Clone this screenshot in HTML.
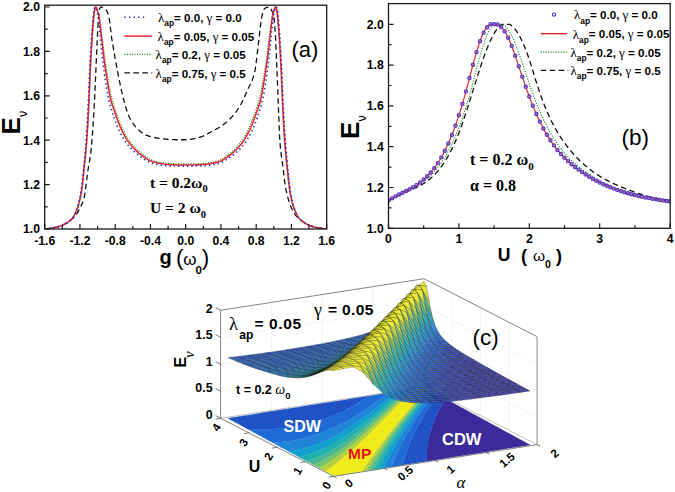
<!DOCTYPE html><html><head><meta charset="utf-8"><style>html,body{margin:0;padding:0;background:#fff;width:675px;height:492px;overflow:hidden}</style></head><body><svg width="675" height="492" viewBox="0 0 675 492" style="position:absolute;left:0;top:0">
<rect width="675" height="492" fill="#fff"/>
<g>
<clipPath id="ca"><rect x="44.7" y="3.2" width="282" height="225.8"/></clipPath>
<g clip-path="url(#ca)" fill="none" stroke-linejoin="round">
<path d="M44.74 229 L45.05 228.98 L45.37 228.95 L45.68 228.92 L45.99 228.89 L46.31 228.85 L46.62 228.82 L46.94 228.78 L47.25 228.74 L47.56 228.7 L47.88 228.66 L48.19 228.62 L48.5 228.57 L48.82 228.52 L49.13 228.48 L49.44 228.43 L49.76 228.37 L50.07 228.32 L50.38 228.27 L50.7 228.21 L51.01 228.16 L51.33 228.1 L51.64 228.04 L51.95 227.98 L52.27 227.92 L52.58 227.86 L52.89 227.8 L53.21 227.74 L53.52 227.67 L53.83 227.61 L54.15 227.54 L54.46 227.47 L54.77 227.4 L55.09 227.33 L55.4 227.26 L55.72 227.18 L56.03 227.1 L56.34 227.02 L56.66 226.93 L56.97 226.84 L57.28 226.76 L57.6 226.66 L57.91 226.57 L58.22 226.48 L58.54 226.38 L58.85 226.28 L59.17 226.18 L59.48 226.07 L59.79 225.96 L60.11 225.85 L60.42 225.74 L60.73 225.63 L61.05 225.51 L61.36 225.4 L61.67 225.28 L61.99 225.15 L62.3 225.03 L62.61 224.9 L62.93 224.77 L63.24 224.63 L63.56 224.48 L63.87 224.33 L64.18 224.18 L64.5 224.02 L64.81 223.85 L65.12 223.68 L65.44 223.51 L65.75 223.33 L66.06 223.15 L66.38 222.96 L66.69 222.77 L67.01 222.57 L67.32 222.37 L67.63 222.17 L67.95 221.96 L68.26 221.75 L68.57 221.54 L68.89 221.33 L69.2 221.11 L69.51 220.89 L69.83 220.66 L70.14 220.44 L70.45 220.21 L70.77 219.98 L71.08 219.74 L71.4 219.51 L71.71 219.27 L72.02 219.02 L72.34 218.77 L72.65 218.51 L72.96 218.24 L73.28 217.97 L73.59 217.68 L73.9 217.39 L74.22 217.08 L74.53 216.75 L74.84 216.42 L75.16 216.07 L75.47 215.7 L75.79 215.31 L76.1 214.88 L76.41 214.43 L76.73 213.95 L77.04 213.45 L77.35 212.93 L77.67 212.38 L77.98 211.82 L78.29 211.24 L78.61 210.64 L78.92 210.03 L79.24 209.41 L79.55 208.78 L79.86 208.15 L80.18 207.51 L80.49 206.89 L80.8 206.27 L81.12 205.65 L81.43 205.01 L81.74 204.35 L82.06 203.66 L82.37 202.93 L82.68 202.15 L83 201.31 L83.31 200.4 L83.63 199.42 L83.94 198.36 L84.25 197.17 L84.57 195.66 L84.88 193.82 L85.19 191.71 L85.51 189.39 L85.82 186.92 L86.13 184.35 L86.45 181.73 L86.76 179.14 L87.08 176.61 L87.39 174.21 L87.7 172 L88.02 169.96 L88.33 168.05 L88.64 166.22 L88.96 164.42 L89.27 162.62 L89.58 160.78 L89.9 158.84 L90.21 156.77 L90.52 154.52 L90.84 152.05 L91.15 149.32 L91.47 146.22 L91.78 142.73 L92.09 138.9 L92.41 134.75 L92.72 130.31 L93.03 125.61 L93.35 120.7 L93.66 115.59 L93.97 110.32 L94.29 104.93 L94.6 99.17 L94.91 92.67 L95.23 85.63 L95.54 78.27 L95.86 70.8 L96.17 63.43 L96.48 56.38 L96.8 49.81 L97.11 43.12 L97.42 36.32 L97.74 29.84 L98.05 24.08 L98.36 19.45 L98.68 16.02 L98.99 12.89 L99.31 10.29 L99.62 8.57 L99.93 7.96 L100.25 7.63 L100.56 7.37 L100.87 7.18 L101.19 7.05 L101.5 7 L101.81 7.02 L102.13 7.11 L102.44 7.26 L102.75 7.44 L103.07 7.64 L103.38 7.86 L103.7 8.06 L104.01 8.26 L104.32 8.46 L104.64 8.67 L104.95 8.89 L105.26 9.14 L105.58 9.42 L105.89 9.73 L106.2 10.08 L106.52 10.48 L106.83 10.99 L107.14 11.61 L107.46 12.36 L107.77 13.21 L108.09 14.16 L108.4 15.21 L108.71 16.36 L109.03 17.64 L109.34 19.36 L109.65 21.49 L109.97 23.92 L110.28 26.55 L110.59 29.28 L110.91 31.99 L111.22 34.59 L111.54 36.98 L111.85 39.07 L112.16 41.05 L112.48 42.96 L112.79 44.82 L113.1 46.63 L113.42 48.41 L113.73 50.18 L114.04 51.95 L114.36 53.73 L114.67 55.52 L114.98 57.32 L115.3 59.11 L115.61 60.89 L115.93 62.66 L116.24 64.4 L116.55 66.12 L116.87 67.81 L117.18 69.47 L117.49 71.08 L117.81 72.67 L118.12 74.26 L118.43 75.85 L118.75 77.42 L119.06 78.99 L119.38 80.54 L119.69 82.09 L120 83.61 L120.32 85.12 L120.63 86.61 L120.94 88.08 L121.26 89.52 L121.57 90.94 L121.88 92.33 L122.2 93.7 L122.51 95.03 L122.82 96.33 L123.14 97.6 L123.45 98.83 L123.77 100.02 L124.08 101.19 L124.39 102.35 L124.71 103.51 L125.02 104.65 L125.33 105.78 L125.65 106.88 L125.96 107.97 L126.27 109.02 L126.59 110.05 L126.9 111.03 L127.21 111.98 L127.53 112.89 L127.84 113.75 L128.16 114.57 L128.47 115.33 L128.78 116.03 L129.1 116.68 L129.41 117.32 L129.72 117.94 L130.04 118.54 L130.35 119.13 L130.66 119.7 L130.98 120.26 L131.29 120.8 L131.61 121.33 L131.92 121.85 L132.23 122.35 L132.55 122.84 L132.86 123.31 L133.17 123.77 L133.49 124.22 L133.8 124.65 L134.11 125.07 L134.43 125.48 L134.74 125.87 L135.05 126.26 L135.37 126.63 L135.68 126.99 L136 127.33 L136.31 127.67 L136.62 127.99 L136.94 128.31 L137.25 128.61 L137.56 128.91 L137.88 129.2 L138.19 129.49 L138.5 129.78 L138.82 130.07 L139.13 130.35 L139.45 130.62 L139.76 130.89 L140.07 131.16 L140.39 131.42 L140.7 131.67 L141.01 131.92 L141.33 132.17 L141.64 132.41 L141.95 132.64 L142.27 132.87 L142.58 133.09 L142.89 133.31 L143.21 133.51 L143.52 133.72 L143.84 133.91 L144.15 134.1 L144.46 134.28 L144.78 134.46 L145.09 134.62 L145.4 134.78 L145.72 134.93 L146.03 135.08 L146.34 135.21 L146.66 135.34 L146.97 135.46 L147.28 135.57 L147.6 135.67 L147.91 135.78 L148.23 135.88 L148.54 135.98 L148.85 136.08 L149.17 136.18 L149.48 136.27 L149.79 136.37 L150.11 136.46 L150.42 136.55 L150.73 136.64 L151.05 136.72 L151.36 136.81 L151.68 136.89 L151.99 136.97 L152.3 137.05 L152.62 137.13 L152.93 137.2 L153.24 137.28 L153.56 137.35 L153.87 137.42 L154.18 137.49 L154.5 137.56 L154.81 137.63 L155.12 137.69 L155.44 137.75 L155.75 137.81 L156.07 137.87 L156.38 137.93 L156.69 137.99 L157.01 138.04 L157.32 138.09 L157.63 138.15 L157.95 138.2 L158.26 138.24 L158.57 138.29 L158.89 138.34 L159.2 138.38 L159.51 138.42 L159.83 138.46 L160.14 138.5 L160.46 138.54 L160.77 138.58 L161.08 138.61 L161.4 138.65 L161.71 138.68 L162.02 138.71 L162.34 138.75 L162.65 138.78 L162.96 138.81 L163.28 138.84 L163.59 138.88 L163.91 138.91 L164.22 138.94 L164.53 138.97 L164.85 139 L165.16 139.03 L165.47 139.06 L165.79 139.09 L166.1 139.12 L166.41 139.15 L166.73 139.18 L167.04 139.21 L167.35 139.24 L167.67 139.26 L167.98 139.29 L168.3 139.32 L168.61 139.34 L168.92 139.37 L169.24 139.39 L169.55 139.42 L169.86 139.44 L170.18 139.46 L170.49 139.48 L170.8 139.51 L171.12 139.53 L171.43 139.55 L171.75 139.57 L172.06 139.58 L172.37 139.6 L172.69 139.62 L173 139.63 L173.31 139.65 L173.63 139.66 L173.94 139.68 L174.25 139.69 L174.57 139.7 L174.88 139.71 L175.19 139.72 L175.51 139.73 L175.82 139.74 L176.14 139.74 L176.45 139.75 L176.76 139.75 L177.08 139.75 L177.39 139.76 L177.7 139.76 L178.02 139.76 L178.33 139.76 L178.64 139.76 L178.96 139.76 L179.27 139.76 L179.58 139.76 L179.9 139.76 L180.21 139.76 L180.53 139.76 L180.84 139.76 L181.15 139.76 L181.47 139.76 L181.78 139.76 L182.09 139.76 L182.41 139.76 L182.72 139.76 L183.03 139.76 L183.35 139.76 L183.66 139.76 L183.98 139.76 L184.29 139.76 L184.6 139.76 L184.92 139.76 L185.23 139.76 L185.54 139.76 L185.86 139.76 L186.17 139.75 L186.48 139.74 L186.8 139.73 L187.11 139.72 L187.42 139.7 L187.74 139.68 L188.05 139.66 L188.37 139.63 L188.68 139.6 L188.99 139.57 L189.31 139.53 L189.62 139.49 L189.93 139.45 L190.25 139.41 L190.56 139.36 L190.87 139.31 L191.19 139.26 L191.5 139.21 L191.82 139.15 L192.13 139.09 L192.44 139.03 L192.76 138.97 L193.07 138.91 L193.38 138.84 L193.7 138.77 L194.01 138.7 L194.32 138.63 L194.64 138.56 L194.95 138.49 L195.26 138.41 L195.58 138.34 L195.89 138.26 L196.21 138.18 L196.52 138.1 L196.83 138.02 L197.15 137.94 L197.46 137.86 L197.77 137.78 L198.09 137.69 L198.4 137.61 L198.71 137.53 L199.03 137.44 L199.34 137.36 L199.65 137.27 L199.97 137.19 L200.28 137.1 L200.6 137.02 L200.91 136.92 L201.22 136.82 L201.54 136.72 L201.85 136.61 L202.16 136.49 L202.48 136.37 L202.79 136.24 L203.1 136.11 L203.42 135.97 L203.73 135.83 L204.05 135.69 L204.36 135.54 L204.67 135.39 L204.99 135.23 L205.3 135.07 L205.61 134.91 L205.93 134.75 L206.24 134.58 L206.55 134.41 L206.87 134.24 L207.18 134.07 L207.49 133.9 L207.81 133.72 L208.12 133.55 L208.44 133.37 L208.75 133.19 L209.06 133.02 L209.38 132.84 L209.69 132.66 L210 132.49 L210.32 132.31 L210.63 132.14 L210.94 131.96 L211.26 131.79 L211.57 131.62 L211.89 131.45 L212.2 131.28 L212.51 131.12 L212.83 130.95 L213.14 130.79 L213.45 130.62 L213.77 130.46 L214.08 130.29 L214.39 130.13 L214.71 129.96 L215.02 129.79 L215.33 129.62 L215.65 129.45 L215.96 129.28 L216.28 129.11 L216.59 128.94 L216.9 128.76 L217.22 128.58 L217.53 128.4 L217.84 128.22 L218.16 128.04 L218.47 127.85 L218.78 127.66 L219.1 127.46 L219.41 127.27 L219.72 127.07 L220.04 126.86 L220.35 126.65 L220.67 126.44 L220.98 126.23 L221.29 126.01 L221.61 125.79 L221.92 125.57 L222.23 125.35 L222.55 125.12 L222.86 124.89 L223.17 124.66 L223.49 124.42 L223.8 124.18 L224.12 123.94 L224.43 123.7 L224.74 123.45 L225.06 123.2 L225.37 122.95 L225.68 122.7 L226 122.44 L226.31 122.17 L226.62 121.91 L226.94 121.64 L227.25 121.37 L227.56 121.09 L227.88 120.81 L228.19 120.53 L228.51 120.24 L228.82 119.95 L229.13 119.66 L229.45 119.36 L229.76 119.06 L230.07 118.75 L230.39 118.44 L230.7 118.13 L231.01 117.81 L231.33 117.49 L231.64 117.16 L231.95 116.83 L232.27 116.49 L232.58 116.15 L232.9 115.81 L233.21 115.46 L233.52 115.1 L233.84 114.73 L234.15 114.35 L234.46 113.96 L234.78 113.57 L235.09 113.16 L235.4 112.75 L235.72 112.32 L236.03 111.89 L236.35 111.46 L236.66 111.01 L236.97 110.55 L237.29 110.09 L237.6 109.62 L237.91 109.14 L238.23 108.66 L238.54 108.17 L238.85 107.67 L239.17 107.16 L239.48 106.65 L239.79 106.12 L240.11 105.6 L240.42 105.06 L240.74 104.52 L241.05 103.97 L241.36 103.41 L241.68 102.83 L241.99 102.23 L242.3 101.61 L242.62 100.97 L242.93 100.32 L243.24 99.65 L243.56 98.97 L243.87 98.28 L244.19 97.59 L244.5 96.88 L244.81 96.16 L245.13 95.44 L245.44 94.72 L245.75 93.99 L246.07 93.26 L246.38 92.54 L246.69 91.81 L247.01 91.08 L247.32 90.36 L247.63 89.66 L247.95 88.97 L248.26 88.32 L248.58 87.68 L248.89 87.05 L249.2 86.43 L249.52 85.82 L249.83 85.2 L250.14 84.58 L250.46 83.95 L250.77 83.3 L251.08 82.64 L251.4 81.95 L251.71 81.23 L252.02 80.48 L252.34 79.69 L252.65 78.86 L252.97 77.98 L253.28 77.05 L253.59 76.06 L253.91 75.01 L254.22 73.9 L254.53 72.69 L254.85 71.24 L255.16 69.52 L255.47 67.56 L255.79 65.4 L256.1 63.06 L256.42 60.58 L256.73 57.99 L257.04 55.33 L257.36 52.62 L257.67 49.9 L257.98 47.2 L258.3 44.54 L258.61 41.98 L258.92 39.5 L259.24 36.88 L259.55 34.1 L259.86 31.24 L260.18 28.38 L260.49 25.6 L260.81 22.98 L261.12 20.61 L261.43 18.56 L261.75 16.92 L262.06 15.51 L262.37 14.17 L262.69 12.92 L263 11.8 L263.31 10.83 L263.63 10.04 L263.94 9.44 L264.26 9.06 L264.57 8.74 L264.88 8.46 L265.2 8.22 L265.51 8.01 L265.82 7.83 L266.14 7.67 L266.45 7.54 L266.76 7.44 L267.08 7.35 L267.39 7.26 L267.7 7.18 L268.02 7.11 L268.33 7.06 L268.65 7.02 L268.96 7 L269.27 7.04 L269.59 7.22 L269.9 7.52 L270.21 7.92 L270.53 8.4 L270.84 8.94 L271.15 9.51 L271.47 10.09 L271.78 10.68 L272.09 11.32 L272.41 12.05 L272.72 12.89 L273.04 13.87 L273.35 15.01 L273.66 16.34 L273.98 18.01 L274.29 20.55 L274.6 23.84 L274.92 27.68 L275.23 32.12 L275.54 37.86 L275.86 44.61 L276.17 52 L276.49 59.65 L276.8 67.19 L277.11 74.51 L277.43 82.1 L277.74 89.87 L278.05 97.75 L278.37 105.64 L278.68 113.43 L278.99 121.32 L279.31 129.85 L279.62 137.31 L279.93 142.12 L280.25 145.85 L280.56 149.06 L280.88 151.86 L281.19 154.35 L281.5 156.63 L281.82 158.82 L282.13 161.01 L282.44 163.31 L282.76 165.81 L283.07 168.41 L283.38 171.04 L283.7 173.68 L284.01 176.28 L284.32 178.82 L284.64 181.24 L284.95 183.53 L285.27 185.63 L285.58 187.52 L285.89 189.15 L286.21 190.63 L286.52 192.05 L286.83 193.42 L287.15 194.73 L287.46 195.98 L287.77 197.18 L288.09 198.33 L288.4 199.43 L288.72 200.49 L289.03 201.5 L289.34 202.47 L289.66 203.39 L289.97 204.28 L290.28 205.13 L290.6 205.94 L290.91 206.71 L291.22 207.46 L291.54 208.17 L291.85 208.86 L292.16 209.53 L292.48 210.17 L292.79 210.79 L293.11 211.39 L293.42 211.96 L293.73 212.51 L294.05 213.03 L294.36 213.53 L294.67 214.01 L294.99 214.47 L295.3 214.9 L295.61 215.31 L295.93 215.7 L296.24 216.07 L296.56 216.42 L296.87 216.75 L297.18 217.08 L297.5 217.39 L297.81 217.68 L298.12 217.97 L298.44 218.24 L298.75 218.51 L299.06 218.77 L299.38 219.02 L299.69 219.27 L300 219.51 L300.32 219.74 L300.63 219.98 L300.95 220.21 L301.26 220.44 L301.57 220.66 L301.89 220.89 L302.2 221.11 L302.51 221.33 L302.83 221.54 L303.14 221.75 L303.45 221.96 L303.77 222.17 L304.08 222.37 L304.39 222.57 L304.71 222.77 L305.02 222.96 L305.34 223.15 L305.65 223.33 L305.96 223.51 L306.28 223.68 L306.59 223.85 L306.9 224.02 L307.22 224.18 L307.53 224.33 L307.84 224.48 L308.16 224.63 L308.47 224.77 L308.79 224.9 L309.1 225.03 L309.41 225.15 L309.73 225.28 L310.04 225.4 L310.35 225.51 L310.67 225.63 L310.98 225.74 L311.29 225.85 L311.61 225.96 L311.92 226.07 L312.23 226.18 L312.55 226.28 L312.86 226.38 L313.18 226.48 L313.49 226.57 L313.8 226.66 L314.12 226.76 L314.43 226.84 L314.74 226.93 L315.06 227.02 L315.37 227.1 L315.68 227.18 L316 227.26 L316.31 227.33 L316.63 227.4 L316.94 227.47 L317.25 227.54 L317.57 227.61 L317.88 227.67 L318.19 227.74 L318.51 227.8 L318.82 227.86 L319.13 227.92 L319.45 227.98 L319.76 228.04 L320.07 228.1 L320.39 228.16 L320.7 228.21 L321.02 228.27 L321.33 228.32 L321.64 228.37 L321.96 228.43 L322.27 228.48 L322.58 228.52 L322.9 228.57 L323.21 228.62 L323.52 228.66 L323.84 228.7 L324.15 228.74 L324.46 228.78 L324.78 228.82 L325.09 228.85 L325.41 228.89 L325.72 228.92 L326.03 228.95 L326.35 228.98 L326.66 229" stroke="#111" stroke-width="1.3" stroke-dasharray="5.5 3.5"/>
<path d="M44.74 229 L45.05 228.97 L45.37 228.94 L45.68 228.91 L45.99 228.88 L46.31 228.84 L46.62 228.81 L46.94 228.77 L47.25 228.74 L47.56 228.7 L47.88 228.66 L48.19 228.62 L48.5 228.58 L48.82 228.54 L49.13 228.5 L49.44 228.46 L49.76 228.41 L50.07 228.37 L50.38 228.32 L50.7 228.28 L51.01 228.23 L51.33 228.19 L51.64 228.14 L51.95 228.09 L52.27 228.04 L52.58 227.99 L52.89 227.93 L53.21 227.88 L53.52 227.83 L53.83 227.77 L54.15 227.71 L54.46 227.65 L54.77 227.59 L55.09 227.53 L55.4 227.46 L55.72 227.4 L56.03 227.33 L56.34 227.26 L56.66 227.19 L56.97 227.11 L57.28 227.04 L57.6 226.96 L57.91 226.88 L58.22 226.79 L58.54 226.7 L58.85 226.6 L59.17 226.51 L59.48 226.4 L59.79 226.3 L60.11 226.19 L60.42 226.07 L60.73 225.95 L61.05 225.83 L61.36 225.71 L61.67 225.58 L61.99 225.44 L62.3 225.31 L62.61 225.17 L62.93 225.02 L63.24 224.88 L63.56 224.72 L63.87 224.57 L64.18 224.41 L64.5 224.25 L64.81 224.09 L65.12 223.92 L65.44 223.75 L65.75 223.57 L66.06 223.4 L66.38 223.21 L66.69 223.02 L67.01 222.83 L67.32 222.62 L67.63 222.41 L67.95 222.19 L68.26 221.96 L68.57 221.72 L68.89 221.48 L69.2 221.23 L69.51 220.96 L69.83 220.69 L70.14 220.41 L70.45 220.12 L70.77 219.82 L71.08 219.51 L71.4 219.19 L71.71 218.85 L72.02 218.51 L72.34 218.16 L72.65 217.79 L72.96 217.42 L73.28 217.02 L73.59 216.59 L73.9 216.13 L74.22 215.63 L74.53 215.11 L74.84 214.56 L75.16 213.99 L75.47 213.38 L75.79 212.75 L76.1 212.09 L76.41 211.4 L76.73 210.69 L77.04 209.95 L77.35 209.19 L77.67 208.4 L77.98 207.56 L78.29 206.64 L78.61 205.67 L78.92 204.62 L79.24 203.52 L79.55 202.35 L79.86 201.11 L80.18 199.81 L80.49 198.45 L80.8 196.99 L81.12 195.4 L81.43 193.67 L81.74 191.82 L82.06 189.83 L82.37 187.71 L82.68 185.45 L83 183 L83.31 180.15 L83.63 177.01 L83.94 173.72 L84.25 170.42 L84.57 167.23 L84.88 164.24 L85.19 161.36 L85.51 158.45 L85.82 155.41 L86.13 152.12 L86.45 148.47 L86.76 144.48 L87.08 140.19 L87.39 135.61 L87.7 130.76 L88.02 125.66 L88.33 120.33 L88.64 114.75 L88.96 108.45 L89.27 101.52 L89.58 94.2 L89.9 86.71 L90.21 79.28 L90.52 72.14 L90.84 65.54 L91.15 59.68 L91.47 54.15 L91.78 48.77 L92.09 43.59 L92.41 38.65 L92.72 34.03 L93.03 29.75 L93.35 25.88 L93.66 22.43 L93.97 19.01 L94.29 15.7 L94.6 12.71 L94.91 10.27 L95.23 8.61 L95.54 7.83 L95.86 7.31 L96.17 7.02 L96.48 7.14 L96.8 7.75 L97.11 8.6 L97.42 9.45 L97.74 10.31 L98.05 11.25 L98.36 12.28 L98.68 13.42 L98.99 14.67 L99.31 16.06 L99.62 17.67 L99.93 19.64 L100.25 21.89 L100.56 24.35 L100.87 26.93 L101.19 29.56 L101.5 32.16 L101.81 34.64 L102.13 37.05 L102.44 39.52 L102.75 42.02 L103.07 44.54 L103.38 47.05 L103.7 49.54 L104.01 52 L104.32 54.39 L104.64 56.71 L104.95 58.95 L105.26 61.13 L105.58 63.26 L105.89 65.36 L106.2 67.42 L106.52 69.43 L106.83 71.41 L107.14 73.34 L107.46 75.24 L107.77 77.11 L108.09 78.99 L108.4 80.87 L108.71 82.74 L109.03 84.58 L109.34 86.39 L109.65 88.16 L109.97 89.88 L110.28 91.53 L110.59 93.12 L110.91 94.62 L111.22 96.02 L111.54 97.33 L111.85 98.57 L112.16 99.75 L112.48 100.88 L112.79 101.96 L113.1 103.01 L113.42 104.02 L113.73 105 L114.04 105.96 L114.36 106.9 L114.67 107.83 L114.98 108.76 L115.3 109.68 L115.61 110.61 L115.93 111.53 L116.24 112.46 L116.55 113.37 L116.87 114.28 L117.18 115.18 L117.49 116.08 L117.81 116.96 L118.12 117.83 L118.43 118.69 L118.75 119.54 L119.06 120.38 L119.38 121.2 L119.69 122 L120 122.79 L120.32 123.56 L120.63 124.32 L120.94 125.05 L121.26 125.76 L121.57 126.45 L121.88 127.13 L122.2 127.8 L122.51 128.46 L122.82 129.11 L123.14 129.76 L123.45 130.4 L123.77 131.02 L124.08 131.64 L124.39 132.26 L124.71 132.86 L125.02 133.45 L125.33 134.04 L125.65 134.61 L125.96 135.17 L126.27 135.73 L126.59 136.27 L126.9 136.8 L127.21 137.32 L127.53 137.83 L127.84 138.33 L128.16 138.81 L128.47 139.29 L128.78 139.75 L129.1 140.2 L129.41 140.63 L129.72 141.06 L130.04 141.48 L130.35 141.89 L130.66 142.3 L130.98 142.7 L131.29 143.1 L131.61 143.49 L131.92 143.88 L132.23 144.26 L132.55 144.64 L132.86 145.01 L133.17 145.38 L133.49 145.74 L133.8 146.1 L134.11 146.45 L134.43 146.8 L134.74 147.14 L135.05 147.48 L135.37 147.81 L135.68 148.14 L136 148.47 L136.31 148.79 L136.62 149.1 L136.94 149.41 L137.25 149.72 L137.56 150.02 L137.88 150.31 L138.19 150.6 L138.5 150.89 L138.82 151.17 L139.13 151.45 L139.45 151.72 L139.76 151.99 L140.07 152.26 L140.39 152.52 L140.7 152.77 L141.01 153.02 L141.33 153.27 L141.64 153.51 L141.95 153.75 L142.27 153.99 L142.58 154.23 L142.89 154.47 L143.21 154.71 L143.52 154.95 L143.84 155.18 L144.15 155.42 L144.46 155.65 L144.78 155.89 L145.09 156.11 L145.4 156.34 L145.72 156.57 L146.03 156.79 L146.34 157.01 L146.66 157.23 L146.97 157.44 L147.28 157.65 L147.6 157.86 L147.91 158.06 L148.23 158.26 L148.54 158.45 L148.85 158.64 L149.17 158.82 L149.48 159 L149.79 159.18 L150.11 159.34 L150.42 159.51 L150.73 159.66 L151.05 159.81 L151.36 159.96 L151.68 160.1 L151.99 160.23 L152.3 160.35 L152.62 160.47 L152.93 160.58 L153.24 160.68 L153.56 160.78 L153.87 160.86 L154.18 160.95 L154.5 161.03 L154.81 161.11 L155.12 161.19 L155.44 161.27 L155.75 161.35 L156.07 161.42 L156.38 161.5 L156.69 161.57 L157.01 161.65 L157.32 161.72 L157.63 161.79 L157.95 161.86 L158.26 161.93 L158.57 161.99 L158.89 162.06 L159.2 162.13 L159.51 162.19 L159.83 162.25 L160.14 162.31 L160.46 162.37 L160.77 162.43 L161.08 162.49 L161.4 162.54 L161.71 162.6 L162.02 162.65 L162.34 162.7 L162.65 162.75 L162.96 162.8 L163.28 162.85 L163.59 162.9 L163.91 162.94 L164.22 162.99 L164.53 163.03 L164.85 163.07 L165.16 163.11 L165.47 163.15 L165.79 163.18 L166.1 163.22 L166.41 163.25 L166.73 163.28 L167.04 163.31 L167.35 163.34 L167.67 163.37 L167.98 163.39 L168.3 163.42 L168.61 163.44 L168.92 163.46 L169.24 163.48 L169.55 163.5 L169.86 163.51 L170.18 163.53 L170.49 163.54 L170.8 163.56 L171.12 163.57 L171.43 163.58 L171.75 163.6 L172.06 163.61 L172.37 163.63 L172.69 163.64 L173 163.65 L173.31 163.67 L173.63 163.68 L173.94 163.69 L174.25 163.7 L174.57 163.72 L174.88 163.73 L175.19 163.74 L175.51 163.75 L175.82 163.76 L176.14 163.77 L176.45 163.78 L176.76 163.8 L177.08 163.81 L177.39 163.82 L177.7 163.82 L178.02 163.83 L178.33 163.84 L178.64 163.85 L178.96 163.86 L179.27 163.87 L179.58 163.88 L179.9 163.88 L180.21 163.89 L180.53 163.9 L180.84 163.9 L181.15 163.91 L181.47 163.92 L181.78 163.92 L182.09 163.93 L182.41 163.93 L182.72 163.93 L183.03 163.94 L183.35 163.94 L183.66 163.94 L183.98 163.95 L184.29 163.95 L184.6 163.95 L184.92 163.95 L185.23 163.95 L185.54 163.95 L185.86 163.95 L186.17 163.95 L186.48 163.95 L186.8 163.95 L187.11 163.95 L187.42 163.95 L187.74 163.94 L188.05 163.94 L188.37 163.94 L188.68 163.93 L188.99 163.93 L189.31 163.93 L189.62 163.92 L189.93 163.92 L190.25 163.91 L190.56 163.9 L190.87 163.9 L191.19 163.89 L191.5 163.88 L191.82 163.88 L192.13 163.87 L192.44 163.86 L192.76 163.85 L193.07 163.84 L193.38 163.83 L193.7 163.82 L194.01 163.82 L194.32 163.81 L194.64 163.8 L194.95 163.78 L195.26 163.77 L195.58 163.76 L195.89 163.75 L196.21 163.74 L196.52 163.73 L196.83 163.72 L197.15 163.7 L197.46 163.69 L197.77 163.68 L198.09 163.67 L198.4 163.65 L198.71 163.64 L199.03 163.63 L199.34 163.61 L199.65 163.6 L199.97 163.58 L200.28 163.57 L200.6 163.56 L200.91 163.54 L201.22 163.53 L201.54 163.51 L201.85 163.5 L202.16 163.48 L202.48 163.46 L202.79 163.44 L203.1 163.42 L203.42 163.39 L203.73 163.37 L204.05 163.34 L204.36 163.31 L204.67 163.28 L204.99 163.25 L205.3 163.22 L205.61 163.18 L205.93 163.15 L206.24 163.11 L206.55 163.07 L206.87 163.03 L207.18 162.99 L207.49 162.94 L207.81 162.9 L208.12 162.85 L208.44 162.8 L208.75 162.75 L209.06 162.7 L209.38 162.65 L209.69 162.6 L210 162.54 L210.32 162.49 L210.63 162.43 L210.94 162.37 L211.26 162.31 L211.57 162.25 L211.89 162.19 L212.2 162.13 L212.51 162.06 L212.83 161.99 L213.14 161.93 L213.45 161.86 L213.77 161.79 L214.08 161.72 L214.39 161.65 L214.71 161.57 L215.02 161.5 L215.33 161.42 L215.65 161.35 L215.96 161.27 L216.28 161.19 L216.59 161.11 L216.9 161.03 L217.22 160.95 L217.53 160.86 L217.84 160.78 L218.16 160.68 L218.47 160.58 L218.78 160.47 L219.1 160.35 L219.41 160.23 L219.72 160.1 L220.04 159.96 L220.35 159.81 L220.67 159.66 L220.98 159.51 L221.29 159.34 L221.61 159.18 L221.92 159 L222.23 158.82 L222.55 158.64 L222.86 158.45 L223.17 158.26 L223.49 158.06 L223.8 157.86 L224.12 157.65 L224.43 157.44 L224.74 157.23 L225.06 157.01 L225.37 156.79 L225.68 156.57 L226 156.34 L226.31 156.11 L226.62 155.89 L226.94 155.65 L227.25 155.42 L227.56 155.18 L227.88 154.95 L228.19 154.71 L228.51 154.47 L228.82 154.23 L229.13 153.99 L229.45 153.75 L229.76 153.51 L230.07 153.27 L230.39 153.02 L230.7 152.77 L231.01 152.52 L231.33 152.26 L231.64 151.99 L231.95 151.72 L232.27 151.45 L232.58 151.17 L232.9 150.89 L233.21 150.6 L233.52 150.31 L233.84 150.02 L234.15 149.72 L234.46 149.41 L234.78 149.1 L235.09 148.79 L235.4 148.47 L235.72 148.14 L236.03 147.81 L236.35 147.48 L236.66 147.14 L236.97 146.8 L237.29 146.45 L237.6 146.1 L237.91 145.74 L238.23 145.38 L238.54 145.01 L238.85 144.64 L239.17 144.26 L239.48 143.88 L239.79 143.49 L240.11 143.1 L240.42 142.7 L240.74 142.3 L241.05 141.89 L241.36 141.48 L241.68 141.06 L241.99 140.63 L242.3 140.2 L242.62 139.75 L242.93 139.29 L243.24 138.81 L243.56 138.33 L243.87 137.83 L244.19 137.32 L244.5 136.8 L244.81 136.27 L245.13 135.73 L245.44 135.17 L245.75 134.61 L246.07 134.04 L246.38 133.45 L246.69 132.86 L247.01 132.26 L247.32 131.64 L247.63 131.02 L247.95 130.4 L248.26 129.76 L248.58 129.11 L248.89 128.46 L249.2 127.8 L249.52 127.13 L249.83 126.45 L250.14 125.76 L250.46 125.05 L250.77 124.32 L251.08 123.56 L251.4 122.79 L251.71 122 L252.02 121.2 L252.34 120.38 L252.65 119.54 L252.97 118.69 L253.28 117.83 L253.59 116.96 L253.91 116.08 L254.22 115.18 L254.53 114.28 L254.85 113.37 L255.16 112.46 L255.47 111.53 L255.79 110.61 L256.1 109.68 L256.42 108.76 L256.73 107.83 L257.04 106.9 L257.36 105.96 L257.67 105 L257.98 104.02 L258.3 103.01 L258.61 101.96 L258.92 100.88 L259.24 99.75 L259.55 98.57 L259.86 97.33 L260.18 96.02 L260.49 94.62 L260.81 93.12 L261.12 91.53 L261.43 89.88 L261.75 88.16 L262.06 86.39 L262.37 84.58 L262.69 82.74 L263 80.87 L263.31 78.99 L263.63 77.11 L263.94 75.24 L264.26 73.34 L264.57 71.41 L264.88 69.43 L265.2 67.42 L265.51 65.36 L265.82 63.26 L266.14 61.13 L266.45 58.95 L266.76 56.71 L267.08 54.39 L267.39 52 L267.7 49.54 L268.02 47.05 L268.33 44.54 L268.65 42.02 L268.96 39.52 L269.27 37.05 L269.59 34.64 L269.9 32.16 L270.21 29.56 L270.53 26.93 L270.84 24.35 L271.15 21.89 L271.47 19.64 L271.78 17.67 L272.09 16.06 L272.41 14.67 L272.72 13.42 L273.04 12.28 L273.35 11.25 L273.66 10.31 L273.98 9.45 L274.29 8.6 L274.6 7.75 L274.92 7.14 L275.23 7.02 L275.54 7.31 L275.86 7.83 L276.17 8.61 L276.49 10.27 L276.8 12.71 L277.11 15.7 L277.43 19.01 L277.74 22.43 L278.05 25.88 L278.37 29.75 L278.68 34.03 L278.99 38.65 L279.31 43.59 L279.62 48.77 L279.93 54.15 L280.25 59.68 L280.56 65.54 L280.88 72.14 L281.19 79.28 L281.5 86.71 L281.82 94.2 L282.13 101.52 L282.44 108.45 L282.76 114.75 L283.07 120.33 L283.38 125.66 L283.7 130.76 L284.01 135.61 L284.32 140.19 L284.64 144.48 L284.95 148.47 L285.27 152.12 L285.58 155.41 L285.89 158.45 L286.21 161.36 L286.52 164.24 L286.83 167.23 L287.15 170.42 L287.46 173.72 L287.77 177.01 L288.09 180.15 L288.4 183 L288.72 185.45 L289.03 187.71 L289.34 189.83 L289.66 191.82 L289.97 193.67 L290.28 195.4 L290.6 196.99 L290.91 198.45 L291.22 199.81 L291.54 201.11 L291.85 202.35 L292.16 203.52 L292.48 204.62 L292.79 205.67 L293.11 206.64 L293.42 207.56 L293.73 208.4 L294.05 209.19 L294.36 209.95 L294.67 210.69 L294.99 211.4 L295.3 212.09 L295.61 212.75 L295.93 213.38 L296.24 213.99 L296.56 214.56 L296.87 215.11 L297.18 215.63 L297.5 216.13 L297.81 216.59 L298.12 217.02 L298.44 217.42 L298.75 217.79 L299.06 218.16 L299.38 218.51 L299.69 218.85 L300 219.19 L300.32 219.51 L300.63 219.82 L300.95 220.12 L301.26 220.41 L301.57 220.69 L301.89 220.96 L302.2 221.23 L302.51 221.48 L302.83 221.72 L303.14 221.96 L303.45 222.19 L303.77 222.41 L304.08 222.62 L304.39 222.83 L304.71 223.02 L305.02 223.21 L305.34 223.4 L305.65 223.57 L305.96 223.75 L306.28 223.92 L306.59 224.09 L306.9 224.25 L307.22 224.41 L307.53 224.57 L307.84 224.72 L308.16 224.88 L308.47 225.02 L308.79 225.17 L309.1 225.31 L309.41 225.44 L309.73 225.58 L310.04 225.71 L310.35 225.83 L310.67 225.95 L310.98 226.07 L311.29 226.19 L311.61 226.3 L311.92 226.4 L312.23 226.51 L312.55 226.6 L312.86 226.7 L313.18 226.79 L313.49 226.88 L313.8 226.96 L314.12 227.04 L314.43 227.11 L314.74 227.19 L315.06 227.26 L315.37 227.33 L315.68 227.4 L316 227.46 L316.31 227.53 L316.63 227.59 L316.94 227.65 L317.25 227.71 L317.57 227.77 L317.88 227.83 L318.19 227.88 L318.51 227.93 L318.82 227.99 L319.13 228.04 L319.45 228.09 L319.76 228.14 L320.07 228.19 L320.39 228.23 L320.7 228.28 L321.02 228.32 L321.33 228.37 L321.64 228.41 L321.96 228.46 L322.27 228.5 L322.58 228.54 L322.9 228.58 L323.21 228.62 L323.52 228.66 L323.84 228.7 L324.15 228.74 L324.46 228.77 L324.78 228.81 L325.09 228.84 L325.41 228.88 L325.72 228.91 L326.03 228.94 L326.35 228.97 L326.66 229" stroke="#1e8c28" stroke-width="1.2" stroke-dasharray="1.1 1.4"/>
<path d="M44.74 229 L45.05 228.97 L45.37 228.94 L45.68 228.91 L45.99 228.88 L46.31 228.84 L46.62 228.81 L46.94 228.77 L47.25 228.74 L47.56 228.7 L47.88 228.66 L48.19 228.62 L48.5 228.58 L48.82 228.54 L49.13 228.5 L49.44 228.46 L49.76 228.41 L50.07 228.37 L50.38 228.32 L50.7 228.28 L51.01 228.23 L51.33 228.19 L51.64 228.14 L51.95 228.09 L52.27 228.04 L52.58 227.99 L52.89 227.93 L53.21 227.88 L53.52 227.83 L53.83 227.77 L54.15 227.71 L54.46 227.65 L54.77 227.59 L55.09 227.53 L55.4 227.46 L55.72 227.4 L56.03 227.33 L56.34 227.26 L56.66 227.19 L56.97 227.11 L57.28 227.04 L57.6 226.96 L57.91 226.88 L58.22 226.79 L58.54 226.7 L58.85 226.6 L59.17 226.51 L59.48 226.4 L59.79 226.3 L60.11 226.19 L60.42 226.07 L60.73 225.95 L61.05 225.83 L61.36 225.71 L61.67 225.58 L61.99 225.44 L62.3 225.31 L62.61 225.17 L62.93 225.02 L63.24 224.88 L63.56 224.72 L63.87 224.57 L64.18 224.41 L64.5 224.25 L64.81 224.09 L65.12 223.92 L65.44 223.75 L65.75 223.57 L66.06 223.4 L66.38 223.21 L66.69 223.03 L67.01 222.83 L67.32 222.63 L67.63 222.42 L67.95 222.21 L68.26 221.98 L68.57 221.75 L68.89 221.51 L69.2 221.26 L69.51 221 L69.83 220.73 L70.14 220.45 L70.45 220.16 L70.77 219.86 L71.08 219.55 L71.4 219.22 L71.71 218.89 L72.02 218.54 L72.34 218.18 L72.65 217.8 L72.96 217.42 L73.28 217 L73.59 216.53 L73.9 216.03 L74.22 215.48 L74.53 214.9 L74.84 214.28 L75.16 213.63 L75.47 212.95 L75.79 212.23 L76.1 211.49 L76.41 210.72 L76.73 209.93 L77.04 209.12 L77.35 208.27 L77.67 207.37 L77.98 206.41 L78.29 205.38 L78.61 204.29 L78.92 203.13 L79.24 201.92 L79.55 200.63 L79.86 199.28 L80.18 197.87 L80.49 196.34 L80.8 194.69 L81.12 192.91 L81.43 191.01 L81.74 188.97 L82.06 186.81 L82.37 184.51 L82.68 181.89 L83 178.91 L83.31 175.69 L83.63 172.38 L83.94 169.11 L84.25 166 L84.57 163.07 L84.88 160.19 L85.19 157.24 L85.51 154.12 L85.82 150.69 L86.13 146.9 L86.45 142.78 L86.76 138.37 L87.08 133.68 L87.39 128.72 L87.7 123.53 L88.02 118.12 L88.33 112.29 L88.64 105.71 L88.96 98.59 L89.27 91.17 L89.58 83.68 L89.9 76.34 L90.21 69.4 L90.52 63.07 L90.84 57.43 L91.15 51.95 L91.47 46.64 L91.78 41.56 L92.09 36.74 L92.41 32.25 L92.72 28.13 L93.03 24.45 L93.35 21.05 L93.66 17.65 L93.97 14.44 L94.29 11.64 L94.6 9.49 L94.91 8.2 L95.23 7.6 L95.54 7.16 L95.86 7 L96.17 7.33 L96.48 8.07 L96.8 8.95 L97.11 9.81 L97.42 10.77 L97.74 11.84 L98.05 13.03 L98.36 14.34 L98.68 15.78 L98.99 17.36 L99.31 19.26 L99.62 21.51 L99.93 24.02 L100.25 26.69 L100.56 29.46 L100.87 32.23 L101.19 34.92 L101.5 37.51 L101.81 40.16 L102.13 42.86 L102.44 45.6 L102.75 48.33 L103.07 51.04 L103.38 53.7 L103.7 56.29 L104.01 58.77 L104.32 61.13 L104.64 63.42 L104.95 65.64 L105.26 67.81 L105.58 69.92 L105.89 71.98 L106.2 74 L106.52 75.98 L106.83 77.92 L107.14 79.85 L107.46 81.79 L107.77 83.72 L108.09 85.64 L108.4 87.53 L108.71 89.38 L109.03 91.18 L109.34 92.91 L109.65 94.57 L109.97 96.13 L110.28 97.6 L110.59 98.95 L110.91 100.2 L111.22 101.38 L111.54 102.5 L111.85 103.57 L112.16 104.59 L112.48 105.58 L112.79 106.53 L113.1 107.46 L113.42 108.37 L113.73 109.26 L114.04 110.15 L114.36 111.05 L114.67 111.95 L114.98 112.85 L115.3 113.76 L115.61 114.66 L115.93 115.56 L116.24 116.45 L116.55 117.33 L116.87 118.21 L117.18 119.07 L117.49 119.93 L117.81 120.77 L118.12 121.61 L118.43 122.43 L118.75 123.23 L119.06 124.02 L119.38 124.79 L119.69 125.54 L120 126.28 L120.32 126.99 L120.63 127.69 L120.94 128.36 L121.26 129.02 L121.57 129.68 L121.88 130.33 L122.2 130.98 L122.51 131.61 L122.82 132.24 L123.14 132.86 L123.45 133.47 L123.77 134.08 L124.08 134.67 L124.39 135.25 L124.71 135.83 L125.02 136.39 L125.33 136.95 L125.65 137.49 L125.96 138.03 L126.27 138.55 L126.59 139.06 L126.9 139.56 L127.21 140.05 L127.53 140.52 L127.84 140.99 L128.16 141.44 L128.47 141.87 L128.78 142.3 L129.1 142.71 L129.41 143.12 L129.72 143.52 L130.04 143.91 L130.35 144.31 L130.66 144.69 L130.98 145.07 L131.29 145.45 L131.61 145.82 L131.92 146.18 L132.23 146.55 L132.55 146.9 L132.86 147.25 L133.17 147.6 L133.49 147.94 L133.8 148.28 L134.11 148.61 L134.43 148.93 L134.74 149.26 L135.05 149.57 L135.37 149.89 L135.68 150.2 L136 150.5 L136.31 150.8 L136.62 151.09 L136.94 151.38 L137.25 151.67 L137.56 151.95 L137.88 152.23 L138.19 152.5 L138.5 152.77 L138.82 153.04 L139.13 153.3 L139.45 153.55 L139.76 153.8 L140.07 154.05 L140.39 154.3 L140.7 154.54 L141.01 154.77 L141.33 155 L141.64 155.24 L141.95 155.47 L142.27 155.7 L142.58 155.93 L142.89 156.16 L143.21 156.39 L143.52 156.62 L143.84 156.85 L144.15 157.07 L144.46 157.3 L144.78 157.52 L145.09 157.74 L145.4 157.95 L145.72 158.17 L146.03 158.38 L146.34 158.59 L146.66 158.79 L146.97 158.99 L147.28 159.19 L147.6 159.38 L147.91 159.57 L148.23 159.76 L148.54 159.94 L148.85 160.11 L149.17 160.28 L149.48 160.45 L149.79 160.61 L150.11 160.76 L150.42 160.91 L150.73 161.05 L151.05 161.19 L151.36 161.32 L151.68 161.44 L151.99 161.56 L152.3 161.66 L152.62 161.77 L152.93 161.86 L153.24 161.95 L153.56 162.03 L153.87 162.11 L154.18 162.19 L154.5 162.26 L154.81 162.34 L155.12 162.42 L155.44 162.49 L155.75 162.57 L156.07 162.64 L156.38 162.71 L156.69 162.78 L157.01 162.85 L157.32 162.92 L157.63 162.99 L157.95 163.05 L158.26 163.12 L158.57 163.18 L158.89 163.24 L159.2 163.3 L159.51 163.36 L159.83 163.42 L160.14 163.48 L160.46 163.54 L160.77 163.59 L161.08 163.65 L161.4 163.7 L161.71 163.75 L162.02 163.8 L162.34 163.85 L162.65 163.9 L162.96 163.95 L163.28 163.99 L163.59 164.03 L163.91 164.08 L164.22 164.12 L164.53 164.16 L164.85 164.2 L165.16 164.23 L165.47 164.27 L165.79 164.3 L166.1 164.34 L166.41 164.37 L166.73 164.4 L167.04 164.43 L167.35 164.46 L167.67 164.48 L167.98 164.51 L168.3 164.53 L168.61 164.55 L168.92 164.57 L169.24 164.59 L169.55 164.61 L169.86 164.62 L170.18 164.64 L170.49 164.65 L170.8 164.66 L171.12 164.68 L171.43 164.69 L171.75 164.71 L172.06 164.72 L172.37 164.74 L172.69 164.75 L173 164.76 L173.31 164.78 L173.63 164.79 L173.94 164.8 L174.25 164.81 L174.57 164.83 L174.88 164.84 L175.19 164.85 L175.51 164.86 L175.82 164.87 L176.14 164.88 L176.45 164.89 L176.76 164.9 L177.08 164.91 L177.39 164.92 L177.7 164.93 L178.02 164.94 L178.33 164.95 L178.64 164.96 L178.96 164.97 L179.27 164.98 L179.58 164.99 L179.9 164.99 L180.21 165 L180.53 165.01 L180.84 165.01 L181.15 165.02 L181.47 165.03 L181.78 165.03 L182.09 165.04 L182.41 165.04 L182.72 165.04 L183.03 165.05 L183.35 165.05 L183.66 165.05 L183.98 165.06 L184.29 165.06 L184.6 165.06 L184.92 165.06 L185.23 165.06 L185.54 165.06 L185.86 165.06 L186.17 165.06 L186.48 165.06 L186.8 165.06 L187.11 165.06 L187.42 165.06 L187.74 165.05 L188.05 165.05 L188.37 165.05 L188.68 165.04 L188.99 165.04 L189.31 165.04 L189.62 165.03 L189.93 165.03 L190.25 165.02 L190.56 165.01 L190.87 165.01 L191.19 165 L191.5 164.99 L191.82 164.99 L192.13 164.98 L192.44 164.97 L192.76 164.96 L193.07 164.95 L193.38 164.94 L193.7 164.93 L194.01 164.92 L194.32 164.91 L194.64 164.9 L194.95 164.89 L195.26 164.88 L195.58 164.87 L195.89 164.86 L196.21 164.85 L196.52 164.84 L196.83 164.83 L197.15 164.81 L197.46 164.8 L197.77 164.79 L198.09 164.78 L198.4 164.76 L198.71 164.75 L199.03 164.74 L199.34 164.72 L199.65 164.71 L199.97 164.69 L200.28 164.68 L200.6 164.66 L200.91 164.65 L201.22 164.64 L201.54 164.62 L201.85 164.61 L202.16 164.59 L202.48 164.57 L202.79 164.55 L203.1 164.53 L203.42 164.51 L203.73 164.48 L204.05 164.46 L204.36 164.43 L204.67 164.4 L204.99 164.37 L205.3 164.34 L205.61 164.3 L205.93 164.27 L206.24 164.23 L206.55 164.2 L206.87 164.16 L207.18 164.12 L207.49 164.08 L207.81 164.03 L208.12 163.99 L208.44 163.95 L208.75 163.9 L209.06 163.85 L209.38 163.8 L209.69 163.75 L210 163.7 L210.32 163.65 L210.63 163.59 L210.94 163.54 L211.26 163.48 L211.57 163.42 L211.89 163.36 L212.2 163.3 L212.51 163.24 L212.83 163.18 L213.14 163.12 L213.45 163.05 L213.77 162.99 L214.08 162.92 L214.39 162.85 L214.71 162.78 L215.02 162.71 L215.33 162.64 L215.65 162.57 L215.96 162.49 L216.28 162.42 L216.59 162.34 L216.9 162.26 L217.22 162.19 L217.53 162.11 L217.84 162.03 L218.16 161.95 L218.47 161.86 L218.78 161.77 L219.1 161.66 L219.41 161.56 L219.72 161.44 L220.04 161.32 L220.35 161.19 L220.67 161.05 L220.98 160.91 L221.29 160.76 L221.61 160.61 L221.92 160.45 L222.23 160.28 L222.55 160.11 L222.86 159.94 L223.17 159.76 L223.49 159.57 L223.8 159.38 L224.12 159.19 L224.43 158.99 L224.74 158.79 L225.06 158.59 L225.37 158.38 L225.68 158.17 L226 157.95 L226.31 157.74 L226.62 157.52 L226.94 157.3 L227.25 157.07 L227.56 156.85 L227.88 156.62 L228.19 156.39 L228.51 156.16 L228.82 155.93 L229.13 155.7 L229.45 155.47 L229.76 155.24 L230.07 155 L230.39 154.77 L230.7 154.54 L231.01 154.3 L231.33 154.05 L231.64 153.8 L231.95 153.55 L232.27 153.3 L232.58 153.04 L232.9 152.77 L233.21 152.5 L233.52 152.23 L233.84 151.95 L234.15 151.67 L234.46 151.38 L234.78 151.09 L235.09 150.8 L235.4 150.5 L235.72 150.2 L236.03 149.89 L236.35 149.57 L236.66 149.26 L236.97 148.93 L237.29 148.61 L237.6 148.28 L237.91 147.94 L238.23 147.6 L238.54 147.25 L238.85 146.9 L239.17 146.55 L239.48 146.18 L239.79 145.82 L240.11 145.45 L240.42 145.07 L240.74 144.69 L241.05 144.31 L241.36 143.91 L241.68 143.52 L241.99 143.12 L242.3 142.71 L242.62 142.3 L242.93 141.87 L243.24 141.44 L243.56 140.99 L243.87 140.52 L244.19 140.05 L244.5 139.56 L244.81 139.06 L245.13 138.55 L245.44 138.03 L245.75 137.49 L246.07 136.95 L246.38 136.39 L246.69 135.83 L247.01 135.25 L247.32 134.67 L247.63 134.08 L247.95 133.47 L248.26 132.86 L248.58 132.24 L248.89 131.61 L249.2 130.98 L249.52 130.33 L249.83 129.68 L250.14 129.02 L250.46 128.36 L250.77 127.69 L251.08 126.99 L251.4 126.28 L251.71 125.54 L252.02 124.79 L252.34 124.02 L252.65 123.23 L252.97 122.43 L253.28 121.61 L253.59 120.77 L253.91 119.93 L254.22 119.07 L254.53 118.21 L254.85 117.33 L255.16 116.45 L255.47 115.56 L255.79 114.66 L256.1 113.76 L256.42 112.85 L256.73 111.95 L257.04 111.05 L257.36 110.15 L257.67 109.26 L257.98 108.37 L258.3 107.46 L258.61 106.53 L258.92 105.58 L259.24 104.59 L259.55 103.57 L259.86 102.5 L260.18 101.38 L260.49 100.2 L260.81 98.95 L261.12 97.6 L261.43 96.13 L261.75 94.57 L262.06 92.91 L262.37 91.18 L262.69 89.38 L263 87.53 L263.31 85.64 L263.63 83.72 L263.94 81.79 L264.26 79.85 L264.57 77.92 L264.88 75.98 L265.2 74 L265.51 71.98 L265.82 69.92 L266.14 67.81 L266.45 65.64 L266.76 63.42 L267.08 61.13 L267.39 58.77 L267.7 56.29 L268.02 53.7 L268.33 51.04 L268.65 48.33 L268.96 45.6 L269.27 42.86 L269.59 40.16 L269.9 37.51 L270.21 34.92 L270.53 32.23 L270.84 29.46 L271.15 26.69 L271.47 24.02 L271.78 21.51 L272.09 19.26 L272.41 17.36 L272.72 15.78 L273.04 14.34 L273.35 13.03 L273.66 11.84 L273.98 10.77 L274.29 9.81 L274.6 8.95 L274.92 8.07 L275.23 7.33 L275.54 7 L275.86 7.16 L276.17 7.6 L276.49 8.2 L276.8 9.49 L277.11 11.64 L277.43 14.44 L277.74 17.65 L278.05 21.05 L278.37 24.45 L278.68 28.13 L278.99 32.25 L279.31 36.74 L279.62 41.56 L279.93 46.64 L280.25 51.95 L280.56 57.43 L280.88 63.07 L281.19 69.4 L281.5 76.34 L281.82 83.68 L282.13 91.17 L282.44 98.59 L282.76 105.71 L283.07 112.29 L283.38 118.12 L283.7 123.53 L284.01 128.72 L284.32 133.68 L284.64 138.37 L284.95 142.78 L285.27 146.9 L285.58 150.69 L285.89 154.12 L286.21 157.24 L286.52 160.19 L286.83 163.07 L287.15 166 L287.46 169.11 L287.77 172.38 L288.09 175.69 L288.4 178.91 L288.72 181.89 L289.03 184.51 L289.34 186.81 L289.66 188.97 L289.97 191.01 L290.28 192.91 L290.6 194.69 L290.91 196.34 L291.22 197.87 L291.54 199.28 L291.85 200.63 L292.16 201.92 L292.48 203.13 L292.79 204.29 L293.11 205.38 L293.42 206.41 L293.73 207.37 L294.05 208.27 L294.36 209.12 L294.67 209.93 L294.99 210.72 L295.3 211.49 L295.61 212.23 L295.93 212.95 L296.24 213.63 L296.56 214.28 L296.87 214.9 L297.18 215.48 L297.5 216.03 L297.81 216.53 L298.12 217 L298.44 217.42 L298.75 217.8 L299.06 218.18 L299.38 218.54 L299.69 218.89 L300 219.22 L300.32 219.55 L300.63 219.86 L300.95 220.16 L301.26 220.45 L301.57 220.73 L301.89 221 L302.2 221.26 L302.51 221.51 L302.83 221.75 L303.14 221.98 L303.45 222.21 L303.77 222.42 L304.08 222.63 L304.39 222.83 L304.71 223.03 L305.02 223.21 L305.34 223.4 L305.65 223.57 L305.96 223.75 L306.28 223.92 L306.59 224.09 L306.9 224.25 L307.22 224.41 L307.53 224.57 L307.84 224.72 L308.16 224.88 L308.47 225.02 L308.79 225.17 L309.1 225.31 L309.41 225.44 L309.73 225.58 L310.04 225.71 L310.35 225.83 L310.67 225.95 L310.98 226.07 L311.29 226.19 L311.61 226.3 L311.92 226.4 L312.23 226.51 L312.55 226.6 L312.86 226.7 L313.18 226.79 L313.49 226.88 L313.8 226.96 L314.12 227.04 L314.43 227.11 L314.74 227.19 L315.06 227.26 L315.37 227.33 L315.68 227.4 L316 227.46 L316.31 227.53 L316.63 227.59 L316.94 227.65 L317.25 227.71 L317.57 227.77 L317.88 227.83 L318.19 227.88 L318.51 227.93 L318.82 227.99 L319.13 228.04 L319.45 228.09 L319.76 228.14 L320.07 228.19 L320.39 228.23 L320.7 228.28 L321.02 228.32 L321.33 228.37 L321.64 228.41 L321.96 228.46 L322.27 228.5 L322.58 228.54 L322.9 228.58 L323.21 228.62 L323.52 228.66 L323.84 228.7 L324.15 228.74 L324.46 228.77 L324.78 228.81 L325.09 228.84 L325.41 228.88 L325.72 228.91 L326.03 228.94 L326.35 228.97 L326.66 229" stroke="#e8262a" stroke-width="1.5"/>
<path d="M44.74 229 L45.05 228.97 L45.37 228.94 L45.68 228.91 L45.99 228.88 L46.31 228.84 L46.62 228.81 L46.94 228.77 L47.25 228.74 L47.56 228.7 L47.88 228.66 L48.19 228.62 L48.5 228.58 L48.82 228.54 L49.13 228.5 L49.44 228.46 L49.76 228.41 L50.07 228.37 L50.38 228.32 L50.7 228.28 L51.01 228.23 L51.33 228.19 L51.64 228.14 L51.95 228.09 L52.27 228.04 L52.58 227.99 L52.89 227.93 L53.21 227.88 L53.52 227.83 L53.83 227.77 L54.15 227.71 L54.46 227.65 L54.77 227.59 L55.09 227.53 L55.4 227.46 L55.72 227.4 L56.03 227.33 L56.34 227.26 L56.66 227.19 L56.97 227.11 L57.28 227.04 L57.6 226.96 L57.91 226.88 L58.22 226.79 L58.54 226.7 L58.85 226.6 L59.17 226.51 L59.48 226.4 L59.79 226.3 L60.11 226.19 L60.42 226.07 L60.73 225.95 L61.05 225.83 L61.36 225.71 L61.67 225.58 L61.99 225.44 L62.3 225.31 L62.61 225.17 L62.93 225.02 L63.24 224.88 L63.56 224.72 L63.87 224.57 L64.18 224.41 L64.5 224.25 L64.81 224.09 L65.12 223.92 L65.44 223.75 L65.75 223.57 L66.06 223.4 L66.38 223.22 L66.69 223.03 L67.01 222.84 L67.32 222.64 L67.63 222.43 L67.95 222.22 L68.26 222 L68.57 221.77 L68.89 221.53 L69.2 221.28 L69.51 221.03 L69.83 220.76 L70.14 220.48 L70.45 220.19 L70.77 219.89 L71.08 219.58 L71.4 219.25 L71.71 218.91 L72.02 218.56 L72.34 218.19 L72.65 217.81 L72.96 217.42 L73.28 216.98 L73.59 216.48 L73.9 215.94 L74.22 215.34 L74.53 214.71 L74.84 214.03 L75.16 213.31 L75.47 212.56 L75.79 211.77 L76.1 210.96 L76.41 210.13 L76.73 209.27 L77.04 208.39 L77.35 207.46 L77.67 206.47 L77.98 205.42 L78.29 204.3 L78.61 203.11 L78.92 201.86 L79.24 200.53 L79.55 199.14 L79.86 197.66 L80.18 196.04 L80.49 194.29 L80.8 192.4 L81.12 190.37 L81.43 188.21 L81.74 185.92 L82.06 183.48 L82.37 180.7 L82.68 177.63 L83 174.39 L83.31 171.09 L83.63 167.84 L83.94 164.72 L84.25 161.66 L84.57 158.57 L84.88 155.34 L85.19 151.87 L85.51 148.08 L85.82 144 L86.13 139.67 L86.45 135.08 L86.76 130.24 L87.08 125.16 L87.39 119.84 L87.7 114.21 L88.02 107.85 L88.33 100.88 L88.64 93.53 L88.96 86.03 L89.27 78.62 L89.58 71.52 L89.9 64.98 L90.21 59.17 L90.52 53.66 L90.84 48.29 L91.15 43.13 L91.47 38.22 L91.78 33.62 L92.09 29.38 L92.41 25.56 L92.72 22.13 L93.03 18.71 L93.35 15.41 L93.66 12.46 L93.97 10.09 L94.29 8.5 L94.6 7.77 L94.91 7.27 L95.23 7.01 L95.54 7.16 L95.86 7.77 L96.17 8.64 L96.48 9.58 L96.8 10.75 L97.11 12.2 L97.42 13.86 L97.74 15.68 L98.05 17.61 L98.36 19.69 L98.68 22.1 L98.99 24.76 L99.31 27.61 L99.62 30.56 L99.93 33.55 L100.25 36.5 L100.56 39.36 L100.87 42.29 L101.19 45.29 L101.5 48.34 L101.81 51.39 L102.13 54.41 L102.44 57.37 L102.75 60.22 L103.07 62.93 L103.38 65.5 L103.7 68.02 L104.01 70.48 L104.32 72.88 L104.64 75.2 L104.95 77.44 L105.26 79.6 L105.58 81.66 L105.89 83.64 L106.2 85.59 L106.52 87.49 L106.83 89.36 L107.14 91.18 L107.46 92.95 L107.77 94.66 L108.09 96.32 L108.4 97.9 L108.71 99.41 L109.03 100.84 L109.34 102.19 L109.65 103.46 L109.97 104.67 L110.28 105.84 L110.59 106.95 L110.91 108.03 L111.22 109.06 L111.54 110.07 L111.85 111.04 L112.16 112 L112.48 112.93 L112.79 113.85 L113.1 114.76 L113.42 115.66 L113.73 116.56 L114.04 117.45 L114.36 118.34 L114.67 119.22 L114.98 120.08 L115.3 120.94 L115.61 121.78 L115.93 122.62 L116.24 123.44 L116.55 124.25 L116.87 125.04 L117.18 125.82 L117.49 126.59 L117.81 127.33 L118.12 128.07 L118.43 128.78 L118.75 129.48 L119.06 130.15 L119.38 130.81 L119.69 131.45 L120 132.07 L120.32 132.69 L120.63 133.3 L120.94 133.91 L121.26 134.5 L121.57 135.09 L121.88 135.67 L122.2 136.24 L122.51 136.81 L122.82 137.36 L123.14 137.91 L123.45 138.45 L123.77 138.97 L124.08 139.49 L124.39 140 L124.71 140.5 L125.02 140.99 L125.33 141.46 L125.65 141.93 L125.96 142.39 L126.27 142.84 L126.59 143.27 L126.9 143.7 L127.21 144.11 L127.53 144.51 L127.84 144.9 L128.16 145.28 L128.47 145.65 L128.78 146.02 L129.1 146.38 L129.41 146.74 L129.72 147.09 L130.04 147.44 L130.35 147.79 L130.66 148.13 L130.98 148.46 L131.29 148.79 L131.61 149.12 L131.92 149.44 L132.23 149.76 L132.55 150.07 L132.86 150.38 L133.17 150.68 L133.49 150.98 L133.8 151.28 L134.11 151.57 L134.43 151.86 L134.74 152.14 L135.05 152.42 L135.37 152.69 L135.68 152.96 L136 153.23 L136.31 153.5 L136.62 153.76 L136.94 154.01 L137.25 154.26 L137.56 154.51 L137.88 154.76 L138.19 155 L138.5 155.24 L138.82 155.47 L139.13 155.7 L139.45 155.93 L139.76 156.15 L140.07 156.37 L140.39 156.59 L140.7 156.8 L141.01 157.01 L141.33 157.23 L141.64 157.44 L141.95 157.65 L142.27 157.86 L142.58 158.07 L142.89 158.28 L143.21 158.49 L143.52 158.69 L143.84 158.9 L144.15 159.1 L144.46 159.3 L144.78 159.5 L145.09 159.7 L145.4 159.9 L145.72 160.09 L146.03 160.28 L146.34 160.47 L146.66 160.65 L146.97 160.83 L147.28 161.01 L147.6 161.19 L147.91 161.36 L148.23 161.52 L148.54 161.68 L148.85 161.84 L149.17 162 L149.48 162.15 L149.79 162.29 L150.11 162.43 L150.42 162.56 L150.73 162.69 L151.05 162.81 L151.36 162.93 L151.68 163.04 L151.99 163.15 L152.3 163.25 L152.62 163.34 L152.93 163.42 L153.24 163.5 L153.56 163.58 L153.87 163.65 L154.18 163.72 L154.5 163.79 L154.81 163.86 L155.12 163.94 L155.44 164 L155.75 164.07 L156.07 164.14 L156.38 164.21 L156.69 164.27 L157.01 164.34 L157.32 164.4 L157.63 164.47 L157.95 164.53 L158.26 164.59 L158.57 164.65 L158.89 164.71 L159.2 164.77 L159.51 164.83 L159.83 164.88 L160.14 164.94 L160.46 164.99 L160.77 165.04 L161.08 165.09 L161.4 165.14 L161.71 165.19 L162.02 165.24 L162.34 165.29 L162.65 165.33 L162.96 165.37 L163.28 165.42 L163.59 165.46 L163.91 165.5 L164.22 165.54 L164.53 165.57 L164.85 165.61 L165.16 165.64 L165.47 165.67 L165.79 165.7 L166.1 165.73 L166.41 165.76 L166.73 165.79 L167.04 165.81 L167.35 165.83 L167.67 165.85 L167.98 165.87 L168.3 165.89 L168.61 165.91 L168.92 165.92 L169.24 165.93 L169.55 165.94 L169.86 165.95 L170.18 165.96 L170.49 165.97 L170.8 165.98 L171.12 165.98 L171.43 165.99 L171.75 166 L172.06 166.01 L172.37 166.01 L172.69 166.02 L173 166.03 L173.31 166.03 L173.63 166.04 L173.94 166.05 L174.25 166.05 L174.57 166.06 L174.88 166.06 L175.19 166.07 L175.51 166.08 L175.82 166.08 L176.14 166.09 L176.45 166.09 L176.76 166.1 L177.08 166.1 L177.39 166.11 L177.7 166.11 L178.02 166.12 L178.33 166.12 L178.64 166.13 L178.96 166.13 L179.27 166.13 L179.58 166.14 L179.9 166.14 L180.21 166.14 L180.53 166.15 L180.84 166.15 L181.15 166.15 L181.47 166.16 L181.78 166.16 L182.09 166.16 L182.41 166.16 L182.72 166.16 L183.03 166.17 L183.35 166.17 L183.66 166.17 L183.98 166.17 L184.29 166.17 L184.6 166.17 L184.92 166.17 L185.23 166.17 L185.54 166.17 L185.86 166.17 L186.17 166.17 L186.48 166.17 L186.8 166.17 L187.11 166.17 L187.42 166.17 L187.74 166.17 L188.05 166.17 L188.37 166.17 L188.68 166.16 L188.99 166.16 L189.31 166.16 L189.62 166.16 L189.93 166.16 L190.25 166.15 L190.56 166.15 L190.87 166.15 L191.19 166.14 L191.5 166.14 L191.82 166.14 L192.13 166.13 L192.44 166.13 L192.76 166.13 L193.07 166.12 L193.38 166.12 L193.7 166.11 L194.01 166.11 L194.32 166.1 L194.64 166.1 L194.95 166.09 L195.26 166.09 L195.58 166.08 L195.89 166.08 L196.21 166.07 L196.52 166.06 L196.83 166.06 L197.15 166.05 L197.46 166.05 L197.77 166.04 L198.09 166.03 L198.4 166.03 L198.71 166.02 L199.03 166.01 L199.34 166.01 L199.65 166 L199.97 165.99 L200.28 165.98 L200.6 165.98 L200.91 165.97 L201.22 165.96 L201.54 165.95 L201.85 165.94 L202.16 165.93 L202.48 165.92 L202.79 165.91 L203.1 165.89 L203.42 165.87 L203.73 165.85 L204.05 165.83 L204.36 165.81 L204.67 165.79 L204.99 165.76 L205.3 165.73 L205.61 165.7 L205.93 165.67 L206.24 165.64 L206.55 165.61 L206.87 165.57 L207.18 165.54 L207.49 165.5 L207.81 165.46 L208.12 165.42 L208.44 165.37 L208.75 165.33 L209.06 165.29 L209.38 165.24 L209.69 165.19 L210 165.14 L210.32 165.09 L210.63 165.04 L210.94 164.99 L211.26 164.94 L211.57 164.88 L211.89 164.83 L212.2 164.77 L212.51 164.71 L212.83 164.65 L213.14 164.59 L213.45 164.53 L213.77 164.47 L214.08 164.4 L214.39 164.34 L214.71 164.27 L215.02 164.21 L215.33 164.14 L215.65 164.07 L215.96 164 L216.28 163.94 L216.59 163.86 L216.9 163.79 L217.22 163.72 L217.53 163.65 L217.84 163.58 L218.16 163.5 L218.47 163.42 L218.78 163.34 L219.1 163.25 L219.41 163.15 L219.72 163.04 L220.04 162.93 L220.35 162.81 L220.67 162.69 L220.98 162.56 L221.29 162.43 L221.61 162.29 L221.92 162.15 L222.23 162 L222.55 161.84 L222.86 161.68 L223.17 161.52 L223.49 161.36 L223.8 161.19 L224.12 161.01 L224.43 160.83 L224.74 160.65 L225.06 160.47 L225.37 160.28 L225.68 160.09 L226 159.9 L226.31 159.7 L226.62 159.5 L226.94 159.3 L227.25 159.1 L227.56 158.9 L227.88 158.69 L228.19 158.49 L228.51 158.28 L228.82 158.07 L229.13 157.86 L229.45 157.65 L229.76 157.44 L230.07 157.23 L230.39 157.01 L230.7 156.8 L231.01 156.59 L231.33 156.37 L231.64 156.15 L231.95 155.93 L232.27 155.7 L232.58 155.47 L232.9 155.24 L233.21 155 L233.52 154.76 L233.84 154.51 L234.15 154.26 L234.46 154.01 L234.78 153.76 L235.09 153.5 L235.4 153.23 L235.72 152.96 L236.03 152.69 L236.35 152.42 L236.66 152.14 L236.97 151.86 L237.29 151.57 L237.6 151.28 L237.91 150.98 L238.23 150.68 L238.54 150.38 L238.85 150.07 L239.17 149.76 L239.48 149.44 L239.79 149.12 L240.11 148.79 L240.42 148.46 L240.74 148.13 L241.05 147.79 L241.36 147.44 L241.68 147.09 L241.99 146.74 L242.3 146.38 L242.62 146.02 L242.93 145.65 L243.24 145.28 L243.56 144.9 L243.87 144.51 L244.19 144.11 L244.5 143.7 L244.81 143.27 L245.13 142.84 L245.44 142.39 L245.75 141.93 L246.07 141.46 L246.38 140.99 L246.69 140.5 L247.01 140 L247.32 139.49 L247.63 138.97 L247.95 138.45 L248.26 137.91 L248.58 137.36 L248.89 136.81 L249.2 136.24 L249.52 135.67 L249.83 135.09 L250.14 134.5 L250.46 133.91 L250.77 133.3 L251.08 132.69 L251.4 132.07 L251.71 131.45 L252.02 130.81 L252.34 130.15 L252.65 129.48 L252.97 128.78 L253.28 128.07 L253.59 127.33 L253.91 126.59 L254.22 125.82 L254.53 125.04 L254.85 124.25 L255.16 123.44 L255.47 122.62 L255.79 121.78 L256.1 120.94 L256.42 120.08 L256.73 119.22 L257.04 118.34 L257.36 117.45 L257.67 116.56 L257.98 115.66 L258.3 114.76 L258.61 113.85 L258.92 112.93 L259.24 112 L259.55 111.04 L259.86 110.07 L260.18 109.06 L260.49 108.03 L260.81 106.95 L261.12 105.84 L261.43 104.67 L261.75 103.46 L262.06 102.19 L262.37 100.84 L262.69 99.41 L263 97.9 L263.31 96.32 L263.63 94.66 L263.94 92.95 L264.26 91.18 L264.57 89.36 L264.88 87.49 L265.2 85.59 L265.51 83.64 L265.82 81.66 L266.14 79.6 L266.45 77.44 L266.76 75.2 L267.08 72.88 L267.39 70.48 L267.7 68.02 L268.02 65.5 L268.33 62.93 L268.65 60.22 L268.96 57.37 L269.27 54.41 L269.59 51.39 L269.9 48.34 L270.21 45.29 L270.53 42.29 L270.84 39.36 L271.15 36.5 L271.47 33.55 L271.78 30.56 L272.09 27.61 L272.41 24.76 L272.72 22.1 L273.04 19.69 L273.35 17.61 L273.66 15.68 L273.98 13.86 L274.29 12.2 L274.6 10.75 L274.92 9.58 L275.23 8.64 L275.54 7.77 L275.86 7.16 L276.17 7.01 L276.49 7.27 L276.8 7.77 L277.11 8.5 L277.43 10.09 L277.74 12.46 L278.05 15.41 L278.37 18.71 L278.68 22.13 L278.99 25.56 L279.31 29.38 L279.62 33.62 L279.93 38.22 L280.25 43.13 L280.56 48.29 L280.88 53.66 L281.19 59.17 L281.5 64.98 L281.82 71.52 L282.13 78.62 L282.44 86.03 L282.76 93.53 L283.07 100.88 L283.38 107.85 L283.7 114.21 L284.01 119.84 L284.32 125.16 L284.64 130.24 L284.95 135.08 L285.27 139.67 L285.58 144 L285.89 148.08 L286.21 151.87 L286.52 155.34 L286.83 158.57 L287.15 161.66 L287.46 164.72 L287.77 167.84 L288.09 171.09 L288.4 174.39 L288.72 177.63 L289.03 180.7 L289.34 183.48 L289.66 185.92 L289.97 188.21 L290.28 190.37 L290.6 192.4 L290.91 194.29 L291.22 196.04 L291.54 197.66 L291.85 199.14 L292.16 200.53 L292.48 201.86 L292.79 203.11 L293.11 204.3 L293.42 205.42 L293.73 206.47 L294.05 207.46 L294.36 208.39 L294.67 209.27 L294.99 210.13 L295.3 210.96 L295.61 211.77 L295.93 212.56 L296.24 213.31 L296.56 214.03 L296.87 214.71 L297.18 215.34 L297.5 215.94 L297.81 216.48 L298.12 216.98 L298.44 217.42 L298.75 217.81 L299.06 218.19 L299.38 218.56 L299.69 218.91 L300 219.25 L300.32 219.58 L300.63 219.89 L300.95 220.19 L301.26 220.48 L301.57 220.76 L301.89 221.03 L302.2 221.28 L302.51 221.53 L302.83 221.77 L303.14 222 L303.45 222.22 L303.77 222.43 L304.08 222.64 L304.39 222.84 L304.71 223.03 L305.02 223.22 L305.34 223.4 L305.65 223.57 L305.96 223.75 L306.28 223.92 L306.59 224.09 L306.9 224.25 L307.22 224.41 L307.53 224.57 L307.84 224.72 L308.16 224.88 L308.47 225.02 L308.79 225.17 L309.1 225.31 L309.41 225.44 L309.73 225.58 L310.04 225.71 L310.35 225.83 L310.67 225.95 L310.98 226.07 L311.29 226.19 L311.61 226.3 L311.92 226.4 L312.23 226.51 L312.55 226.6 L312.86 226.7 L313.18 226.79 L313.49 226.88 L313.8 226.96 L314.12 227.04 L314.43 227.11 L314.74 227.19 L315.06 227.26 L315.37 227.33 L315.68 227.4 L316 227.46 L316.31 227.53 L316.63 227.59 L316.94 227.65 L317.25 227.71 L317.57 227.77 L317.88 227.83 L318.19 227.88 L318.51 227.93 L318.82 227.99 L319.13 228.04 L319.45 228.09 L319.76 228.14 L320.07 228.19 L320.39 228.23 L320.7 228.28 L321.02 228.32 L321.33 228.37 L321.64 228.41 L321.96 228.46 L322.27 228.5 L322.58 228.54 L322.9 228.58 L323.21 228.62 L323.52 228.66 L323.84 228.7 L324.15 228.74 L324.46 228.77 L324.78 228.81 L325.09 228.84 L325.41 228.88 L325.72 228.91 L326.03 228.94 L326.35 228.97 L326.66 229" stroke="#2a2ad8" stroke-width="1.6" stroke-dasharray="1.4 3" />
</g>
<rect x="44.7" y="5.2" width="282" height="223.8" fill="none" stroke="#1a1a1a" stroke-width="1.3"/>
<path d="M44.7 229h5 M44.7 184.6h5 M44.7 140.2h5 M44.7 95.8h5 M44.7 51.4h5 M44.7 7h5 M44.7 206.8h3 M44.7 162.4h3 M44.7 118h3 M44.7 73.6h3 M44.7 29.2h3" stroke="#1a1a1a" stroke-width="1.2" fill="none"/>
<text x="40" y="233.39" text-anchor="end" font-family='"Liberation Sans", sans-serif' font-weight="bold" font-size="12.2">1.0</text>
<text x="40" y="188.99" text-anchor="end" font-family='"Liberation Sans", sans-serif' font-weight="bold" font-size="12.2">1.2</text>
<text x="40" y="144.59" text-anchor="end" font-family='"Liberation Sans", sans-serif' font-weight="bold" font-size="12.2">1.4</text>
<text x="40" y="100.19" text-anchor="end" font-family='"Liberation Sans", sans-serif' font-weight="bold" font-size="12.2">1.6</text>
<text x="40" y="55.79" text-anchor="end" font-family='"Liberation Sans", sans-serif' font-weight="bold" font-size="12.2">1.8</text>
<text x="40" y="11.39" text-anchor="end" font-family='"Liberation Sans", sans-serif' font-weight="bold" font-size="12.2">2.0</text>
<path d="M44.74 229v-5 M79.98 229v-5 M115.22 229v-5 M150.46 229v-5 M185.7 229v-5 M220.94 229v-5 M256.18 229v-5 M291.42 229v-5 M326.66 229v-5 M62.36 229v-3 M97.6 229v-3 M132.84 229v-3 M168.08 229v-3 M203.32 229v-3 M238.56 229v-3 M273.8 229v-3 M309.04 229v-3" stroke="#1a1a1a" stroke-width="1.2" fill="none"/>
<text x="44.74" y="245" text-anchor="middle" font-family='"Liberation Sans", sans-serif' font-weight="bold" font-size="12.2">-1.6</text>
<text x="79.98" y="245" text-anchor="middle" font-family='"Liberation Sans", sans-serif' font-weight="bold" font-size="12.2">-1.2</text>
<text x="115.22" y="245" text-anchor="middle" font-family='"Liberation Sans", sans-serif' font-weight="bold" font-size="12.2">-0.8</text>
<text x="150.46" y="245" text-anchor="middle" font-family='"Liberation Sans", sans-serif' font-weight="bold" font-size="12.2">-0.4</text>
<text x="185.7" y="245" text-anchor="middle" font-family='"Liberation Sans", sans-serif' font-weight="bold" font-size="12.2">0.0</text>
<text x="220.94" y="245" text-anchor="middle" font-family='"Liberation Sans", sans-serif' font-weight="bold" font-size="12.2">0.4</text>
<text x="256.18" y="245" text-anchor="middle" font-family='"Liberation Sans", sans-serif' font-weight="bold" font-size="12.2">0.8</text>
<text x="291.42" y="245" text-anchor="middle" font-family='"Liberation Sans", sans-serif' font-weight="bold" font-size="12.2">1.2</text>
<text x="326.66" y="245" text-anchor="middle" font-family='"Liberation Sans", sans-serif' font-weight="bold" font-size="12.2">1.6</text>
<path d="M124.4 17.2H147" stroke="#2a2ad8" stroke-width="1.6" stroke-dasharray="1.4 3.2" fill="none"/>
<path d="M124.4 36.1H152.2" stroke="#e8262a" stroke-width="1.5" fill="none"/>
<path d="M124.4 54.3H152.2" stroke="#1e8c28" stroke-width="1.2" stroke-dasharray="1.1 1.4" fill="none"/>
<path d="M124.4 72.8H152.2" stroke="#111" stroke-width="1.3" stroke-dasharray="5.5 3.5" fill="none"/>
<text x="158" y="22" font-family='"Liberation Sans", sans-serif' font-size="11.6"><tspan font-family='"Liberation Serif", serif' font-size="12.992">λ</tspan><tspan font-weight="bold" font-size="8.352" dy="4.176">ap</tspan><tspan font-weight="bold" dy="-4.18">= 0.0, </tspan><tspan font-family='"Liberation Serif", serif' font-size="12.992">γ</tspan><tspan font-weight="bold"> = 0.0</tspan></text>
<text x="157.6" y="40.9" font-family='"Liberation Sans", sans-serif' font-size="11.6"><tspan font-family='"Liberation Serif", serif' font-size="12.992">λ</tspan><tspan font-weight="bold" font-size="8.352" dy="4.176">ap</tspan><tspan font-weight="bold" dy="-4.18">= 0.05, </tspan><tspan font-family='"Liberation Serif", serif' font-size="12.992">γ</tspan><tspan font-weight="bold"> = 0.05</tspan></text>
<text x="155.6" y="59.1" font-family='"Liberation Sans", sans-serif' font-size="11.6"><tspan font-family='"Liberation Serif", serif' font-size="12.992">λ</tspan><tspan font-weight="bold" font-size="8.352" dy="4.176">ap</tspan><tspan font-weight="bold" dy="-4.18">= 0.2, </tspan><tspan font-family='"Liberation Serif", serif' font-size="12.992">γ</tspan><tspan font-weight="bold"> = 0.05</tspan></text>
<text x="155.6" y="77.6" font-family='"Liberation Sans", sans-serif' font-size="11.6"><tspan font-family='"Liberation Serif", serif' font-size="12.992">λ</tspan><tspan font-weight="bold" font-size="8.352" dy="4.176">ap</tspan><tspan font-weight="bold" dy="-4.18">= 0.75, </tspan><tspan font-family='"Liberation Serif", serif' font-size="12.992">γ</tspan><tspan font-weight="bold"> = 0.5</tspan></text>
<text x="291.5" y="56.5" font-family='"Liberation Sans", sans-serif' font-size="22">(a)</text>
<text x="150" y="187.5" font-family='"Liberation Serif", serif' font-weight="bold" font-size="15.5">t = 0.2ω<tspan font-size="10.5" dy="4.5">0</tspan></text>
<text x="150" y="213.3" font-family='"Liberation Serif", serif' font-weight="bold" font-size="15.5">U = 2 ω<tspan font-size="10.5" dy="4.5">0</tspan></text>
<text transform="translate(19.9 134.6) rotate(-90)" font-family='"Liberation Sans", sans-serif' font-weight="bold" font-size="26">E</text>
<text transform="translate(26.5 117) rotate(-90)" font-family='"Liberation Sans", sans-serif' font-size="12.5">ν</text>
<text x="159.6" y="264" font-family='"Liberation Sans", sans-serif' font-weight="bold" font-size="20">g</text>
<text x="176" y="265" font-family='"Liberation Sans", sans-serif' font-size="22.5">(</text>
<text x="183.3" y="264.9" font-family='"Liberation Sans", sans-serif' font-size="17">ω</text>
<text x="195.6" y="273.7" font-family='"Liberation Sans", sans-serif' font-weight="bold" font-size="11.5">0</text>
<text x="201.8" y="265.3" font-family='"Liberation Sans", sans-serif' font-size="22.5">)</text>
</g>
<g>
<clipPath id="cb"><rect x="388.5" y="3.6" width="281.7" height="224.7"/></clipPath>
<g clip-path="url(#cb)" fill="none" stroke-linejoin="round">
<path d="M388.5 200.95 L388.97 200.63 L389.44 200.31 L389.91 200 L390.38 199.7 L390.85 199.4 L391.32 199.11 L391.79 198.83 L392.26 198.55 L392.73 198.27 L393.2 198 L393.67 197.74 L394.14 197.48 L394.61 197.22 L395.08 196.97 L395.55 196.73 L396.02 196.48 L396.49 196.25 L396.96 196.01 L397.43 195.78 L397.9 195.55 L398.37 195.33 L398.84 195.11 L399.31 194.89 L399.78 194.67 L400.25 194.46 L400.72 194.25 L401.19 194.04 L401.66 193.83 L402.13 193.63 L402.6 193.43 L403.07 193.23 L403.54 193.03 L404.01 192.83 L404.48 192.63 L404.95 192.44 L405.42 192.24 L405.89 192.05 L406.36 191.85 L406.83 191.66 L407.3 191.46 L407.77 191.27 L408.24 191.07 L408.72 190.88 L409.19 190.68 L409.66 190.49 L410.13 190.29 L410.6 190.09 L411.07 189.89 L411.54 189.69 L412.01 189.49 L412.48 189.29 L412.95 189.08 L413.42 188.87 L413.89 188.66 L414.36 188.45 L414.83 188.24 L415.3 188.02 L415.77 187.8 L416.24 187.57 L416.71 187.35 L417.18 187.11 L417.65 186.88 L418.12 186.64 L418.59 186.4 L419.06 186.15 L419.53 185.9 L420 185.65 L420.47 185.39 L420.94 185.13 L421.41 184.86 L421.88 184.58 L422.35 184.3 L422.82 184.02 L423.29 183.73 L423.76 183.43 L424.23 183.13 L424.7 182.82 L425.17 182.51 L425.64 182.19 L426.11 181.86 L426.58 181.53 L427.05 181.19 L427.52 180.84 L427.99 180.48 L428.46 180.12 L428.93 179.75 L429.4 179.37 L429.87 178.99 L430.34 178.59 L430.81 178.19 L431.28 177.78 L431.75 177.36 L432.22 176.93 L432.69 176.49 L433.16 176.05 L433.63 175.59 L434.1 175.13 L434.57 174.65 L435.04 174.17 L435.51 173.68 L435.98 173.17 L436.45 172.66 L436.92 172.13 L437.39 171.6 L437.86 171.05 L438.33 170.49 L438.8 169.93 L439.27 169.35 L439.74 168.75 L440.21 168.15 L440.68 167.54 L441.15 166.91 L441.62 166.27 L442.09 165.62 L442.56 164.96 L443.03 164.28 L443.5 163.6 L443.97 162.89 L444.44 162.18 L444.91 161.45 L445.38 160.71 L445.85 159.96 L446.32 159.19 L446.79 158.4 L447.26 157.61 L447.73 156.8 L448.2 155.97 L448.67 155.13 L449.15 154.28 L449.62 153.41 L450.09 152.52 L450.56 151.62 L451.03 150.71 L451.5 149.78 L451.97 148.83 L452.44 147.87 L452.91 146.89 L453.38 145.89 L453.85 144.88 L454.32 143.85 L454.79 142.81 L455.26 141.75 L455.73 140.67 L456.2 139.57 L456.67 138.46 L457.14 137.33 L457.61 136.18 L458.08 135.01 L458.55 133.82 L459.02 132.62 L459.49 131.4 L459.96 130.16 L460.43 128.9 L460.9 127.62 L461.37 126.32 L461.84 125.01 L462.31 123.68 L462.78 122.34 L463.25 120.97 L463.72 119.6 L464.19 118.21 L464.66 116.81 L465.13 115.39 L465.6 113.97 L466.07 112.53 L466.54 111.08 L467.01 109.63 L467.48 108.16 L467.95 106.69 L468.42 105.21 L468.89 103.72 L469.36 102.23 L469.83 100.73 L470.3 99.22 L470.77 97.72 L471.24 96.21 L471.71 94.69 L472.18 93.18 L472.65 91.67 L473.12 90.15 L473.59 88.64 L474.06 87.12 L474.53 85.61 L475 84.1 L475.47 82.6 L475.94 81.09 L476.41 79.6 L476.88 78.11 L477.35 76.62 L477.82 75.14 L478.29 73.67 L478.76 72.21 L479.23 70.76 L479.7 69.31 L480.17 67.88 L480.64 66.46 L481.11 65.05 L481.58 63.65 L482.05 62.26 L482.52 60.89 L482.99 59.54 L483.46 58.2 L483.93 56.87 L484.4 55.57 L484.87 54.28 L485.34 53 L485.81 51.75 L486.28 50.52 L486.75 49.31 L487.22 48.11 L487.69 46.94 L488.16 45.8 L488.63 44.67 L489.11 43.57 L489.58 42.5 L490.05 41.45 L490.52 40.43 L490.99 39.43 L491.46 38.46 L491.93 37.51 L492.4 36.6 L492.87 35.71 L493.34 34.85 L493.81 34.02 L494.28 33.21 L494.75 32.44 L495.22 31.69 L495.69 30.98 L496.16 30.29 L496.63 29.63 L497.1 29.01 L497.57 28.41 L498.04 27.85 L498.51 27.31 L498.98 26.81 L499.45 26.34 L499.92 25.9 L500.39 25.49 L500.86 25.12 L501.33 24.78 L501.8 24.47 L502.27 24.3 L502.74 24.3 L503.21 24.3 L503.68 24.3 L504.15 24.3 L504.62 24.3 L505.09 24.3 L505.56 24.3 L506.03 24.3 L506.5 24.3 L506.97 24.3 L507.44 24.3 L507.91 24.3 L508.38 24.3 L508.85 24.3 L509.32 24.3 L509.79 24.42 L510.26 24.71 L510.73 25.03 L511.2 25.38 L511.67 25.75 L512.14 26.15 L512.61 26.58 L513.08 27.04 L513.55 27.52 L514.02 28.03 L514.49 28.57 L514.96 29.13 L515.43 29.72 L515.9 30.34 L516.37 30.99 L516.84 31.66 L517.31 32.36 L517.78 33.08 L518.25 33.84 L518.72 34.62 L519.19 35.43 L519.66 36.26 L520.13 37.12 L520.6 38.01 L521.07 38.93 L521.54 39.88 L522.01 40.85 L522.48 41.85 L522.95 42.87 L523.42 43.93 L523.89 45.01 L524.36 46.12 L524.83 47.26 L525.3 48.43 L525.77 49.62 L526.24 50.84 L526.71 52.09 L527.18 53.37 L527.65 54.68 L528.12 56.01 L528.59 57.37 L529.06 58.76 L529.54 60.18 L530.01 61.63 L530.48 63.09 L530.95 64.58 L531.42 66.09 L531.89 67.61 L532.36 69.15 L532.83 70.69 L533.3 72.24 L533.77 73.79 L534.24 75.34 L534.71 76.89 L535.18 78.43 L535.65 79.96 L536.12 81.49 L536.59 82.99 L537.06 84.48 L537.53 85.95 L538 87.4 L538.47 88.83 L538.94 90.24 L539.41 91.62 L539.88 92.99 L540.35 94.34 L540.82 95.67 L541.29 96.98 L541.76 98.28 L542.23 99.55 L542.7 100.81 L543.17 102.05 L543.64 103.27 L544.11 104.47 L544.58 105.65 L545.05 106.82 L545.52 107.97 L545.99 109.11 L546.46 110.22 L546.93 111.33 L547.4 112.41 L547.87 113.48 L548.34 114.54 L548.81 115.57 L549.28 116.6 L549.75 117.61 L550.22 118.6 L550.69 119.58 L551.16 120.54 L551.63 121.5 L552.1 122.43 L552.57 123.36 L553.04 124.27 L553.51 125.16 L553.98 126.05 L554.45 126.92 L554.92 127.78 L555.39 128.62 L555.86 129.46 L556.33 130.28 L556.8 131.09 L557.27 131.89 L557.74 132.67 L558.21 133.45 L558.68 134.22 L559.15 134.97 L559.62 135.72 L560.09 136.45 L560.56 137.18 L561.03 137.89 L561.5 138.6 L561.97 139.29 L562.44 139.98 L562.91 140.66 L563.38 141.33 L563.85 141.99 L564.32 142.64 L564.79 143.29 L565.26 143.93 L565.73 144.56 L566.2 145.18 L566.67 145.8 L567.14 146.4 L567.61 147.01 L568.08 147.6 L568.55 148.19 L569.02 148.78 L569.49 149.35 L569.97 149.93 L570.44 150.49 L570.91 151.05 L571.38 151.61 L571.85 152.16 L572.32 152.7 L572.79 153.24 L573.26 153.77 L573.73 154.3 L574.2 154.82 L574.67 155.33 L575.14 155.84 L575.61 156.35 L576.08 156.85 L576.55 157.35 L577.02 157.84 L577.49 158.32 L577.96 158.8 L578.43 159.27 L578.9 159.74 L579.37 160.21 L579.84 160.67 L580.31 161.12 L580.78 161.57 L581.25 162.02 L581.72 162.46 L582.19 162.89 L582.66 163.32 L583.13 163.75 L583.6 164.17 L584.07 164.59 L584.54 165 L585.01 165.41 L585.48 165.81 L585.95 166.21 L586.42 166.61 L586.89 167 L587.36 167.39 L587.83 167.77 L588.3 168.15 L588.77 168.52 L589.24 168.89 L589.71 169.26 L590.18 169.62 L590.65 169.98 L591.12 170.33 L591.59 170.68 L592.06 171.03 L592.53 171.37 L593 171.71 L593.47 172.05 L593.94 172.38 L594.41 172.71 L594.88 173.03 L595.35 173.36 L595.82 173.67 L596.29 173.99 L596.76 174.3 L597.23 174.61 L597.7 174.91 L598.17 175.21 L598.64 175.51 L599.11 175.81 L599.58 176.1 L600.05 176.39 L600.52 176.67 L600.99 176.95 L601.46 177.23 L601.93 177.51 L602.4 177.79 L602.87 178.06 L603.34 178.33 L603.81 178.59 L604.28 178.85 L604.75 179.12 L605.22 179.37 L605.69 179.63 L606.16 179.88 L606.63 180.13 L607.1 180.38 L607.57 180.63 L608.04 180.87 L608.51 181.11 L608.98 181.35 L609.45 181.59 L609.93 181.82 L610.4 182.05 L610.87 182.28 L611.34 182.51 L611.81 182.74 L612.28 182.96 L612.75 183.18 L613.22 183.4 L613.69 183.62 L614.16 183.84 L614.63 184.05 L615.1 184.27 L615.57 184.48 L616.04 184.69 L616.51 184.9 L616.98 185.11 L617.45 185.31 L617.92 185.52 L618.39 185.72 L618.86 185.92 L619.33 186.12 L619.8 186.32 L620.27 186.52 L620.74 186.71 L621.21 186.91 L621.68 187.1 L622.15 187.3 L622.62 187.49 L623.09 187.68 L623.56 187.87 L624.03 188.06 L624.5 188.25 L624.97 188.44 L625.44 188.63 L625.91 188.81 L626.38 189 L626.85 189.18 L627.32 189.37 L627.79 189.55 L628.26 189.73 L628.73 189.91 L629.2 190.1 L629.67 190.28 L630.14 190.45 L630.61 190.63 L631.08 190.81 L631.55 190.99 L632.02 191.16 L632.49 191.33 L632.96 191.51 L633.43 191.68 L633.9 191.85 L634.37 192.02 L634.84 192.19 L635.31 192.36 L635.78 192.52 L636.25 192.69 L636.72 192.85 L637.19 193.02 L637.66 193.18 L638.13 193.34 L638.6 193.5 L639.07 193.66 L639.54 193.81 L640.01 193.97 L640.48 194.12 L640.95 194.27 L641.42 194.43 L641.89 194.58 L642.36 194.72 L642.83 194.87 L643.3 195.02 L643.77 195.16 L644.24 195.3 L644.71 195.45 L645.18 195.59 L645.65 195.72 L646.12 195.86 L646.59 195.99 L647.06 196.13 L647.53 196.26 L648 196.39 L648.47 196.52 L648.94 196.65 L649.41 196.77 L649.88 196.89 L650.36 197.02 L650.83 197.14 L651.3 197.25 L651.77 197.37 L652.24 197.48 L652.71 197.6 L653.18 197.71 L653.65 197.82 L654.12 197.92 L654.59 198.03 L655.06 198.13 L655.53 198.23 L656 198.33 L656.47 198.43 L656.94 198.53 L657.41 198.62 L657.88 198.71 L658.35 198.8 L658.82 198.89 L659.29 198.97 L659.76 199.06 L660.23 199.14 L660.7 199.21 L661.17 199.29 L661.64 199.37 L662.11 199.44 L662.58 199.51 L663.05 199.58 L663.52 199.64 L663.99 199.7 L664.46 199.76 L664.93 199.82 L665.4 199.88 L665.87 199.93 L666.34 199.98 L666.81 200.03 L667.28 200.08 L667.75 200.12 L668.22 200.17 L668.69 200.2 L669.16 200.24 L669.63 200.28 L670.1 200.31" stroke="#111" stroke-width="1.3" stroke-dasharray="5.5 3.5"/>
<path d="M388.5 200.64 L388.97 200.33 L389.44 200.03 L389.91 199.74 L390.38 199.44 L390.85 199.16 L391.32 198.88 L391.79 198.6 L392.26 198.32 L392.73 198.05 L393.2 197.79 L393.67 197.53 L394.14 197.27 L394.61 197.01 L395.08 196.76 L395.55 196.51 L396.02 196.26 L396.49 196.02 L396.96 195.78 L397.43 195.54 L397.9 195.3 L398.37 195.06 L398.84 194.83 L399.31 194.6 L399.78 194.37 L400.25 194.14 L400.72 193.92 L401.19 193.69 L401.66 193.47 L402.13 193.24 L402.6 193.02 L403.07 192.8 L403.54 192.58 L404.01 192.36 L404.48 192.14 L404.95 191.92 L405.42 191.69 L405.89 191.47 L406.36 191.25 L406.83 191.03 L407.3 190.81 L407.77 190.58 L408.24 190.36 L408.72 190.13 L409.19 189.9 L409.66 189.67 L410.13 189.44 L410.6 189.21 L411.07 188.97 L411.54 188.74 L412.01 188.5 L412.48 188.26 L412.95 188.01 L413.42 187.77 L413.89 187.52 L414.36 187.26 L414.83 187.01 L415.3 186.75 L415.77 186.49 L416.24 186.22 L416.71 185.95 L417.18 185.68 L417.65 185.4 L418.12 185.12 L418.59 184.83 L419.06 184.54 L419.53 184.24 L420 183.94 L420.47 183.64 L420.94 183.33 L421.41 183.01 L421.88 182.69 L422.35 182.36 L422.82 182.03 L423.29 181.69 L423.76 181.35 L424.23 181 L424.7 180.64 L425.17 180.28 L425.64 179.91 L426.11 179.53 L426.58 179.15 L427.05 178.76 L427.52 178.36 L427.99 177.95 L428.46 177.54 L428.93 177.12 L429.4 176.69 L429.87 176.26 L430.34 175.81 L430.81 175.36 L431.28 174.9 L431.75 174.43 L432.22 173.95 L432.69 173.46 L433.16 172.97 L433.63 172.46 L434.1 171.95 L434.57 171.42 L435.04 170.89 L435.51 170.34 L435.98 169.79 L436.45 169.23 L436.92 168.65 L437.39 168.07 L437.86 167.47 L438.33 166.87 L438.8 166.25 L439.27 165.62 L439.74 164.98 L440.21 164.33 L440.68 163.67 L441.15 163 L441.62 162.32 L442.09 161.62 L442.56 160.91 L443.03 160.19 L443.5 159.46 L443.97 158.71 L444.44 157.95 L444.91 157.18 L445.38 156.4 L445.85 155.6 L446.32 154.79 L446.79 153.97 L447.26 153.13 L447.73 152.28 L448.2 151.41 L448.67 150.54 L449.15 149.64 L449.62 148.74 L450.09 147.81 L450.56 146.88 L451.03 145.93 L451.5 144.96 L451.97 143.98 L452.44 142.98 L452.91 141.97 L453.38 140.94 L453.85 139.9 L454.32 138.84 L454.79 137.77 L455.26 136.68 L455.73 135.57 L456.2 134.45 L456.67 133.31 L457.14 132.15 L457.61 130.98 L458.08 129.79 L458.55 128.58 L459.02 127.36 L459.49 126.11 L459.96 124.85 L460.43 123.58 L460.9 122.28 L461.37 120.97 L461.84 119.64 L462.31 118.29 L462.78 116.92 L463.25 115.53 L463.72 114.12 L464.19 112.7 L464.66 111.25 L465.13 109.79 L465.6 108.3 L466.07 106.8 L466.54 105.28 L467.01 103.73 L467.48 102.17 L467.95 100.59 L468.42 98.98 L468.89 97.36 L469.36 95.71 L469.83 94.04 L470.3 92.36 L470.77 90.65 L471.24 88.92 L471.71 87.18 L472.18 85.42 L472.65 83.65 L473.12 81.87 L473.59 80.09 L474.06 78.29 L474.53 76.5 L475 74.7 L475.47 72.9 L475.94 71.11 L476.41 69.32 L476.88 67.54 L477.35 65.77 L477.82 64.01 L478.29 62.27 L478.76 60.54 L479.23 58.82 L479.7 57.13 L480.17 55.46 L480.64 53.82 L481.11 52.2 L481.58 50.61 L482.05 49.05 L482.52 47.53 L482.99 46.04 L483.46 44.58 L483.93 43.17 L484.4 41.8 L484.87 40.47 L485.34 39.19 L485.81 37.96 L486.28 36.78 L486.75 35.64 L487.22 34.57 L487.69 33.55 L488.16 32.59 L488.63 31.68 L489.11 30.83 L489.58 30.03 L490.05 29.28 L490.52 28.59 L490.99 27.94 L491.46 27.34 L491.93 26.79 L492.4 26.29 L492.87 25.83 L493.34 25.42 L493.81 25.04 L494.28 24.71 L494.75 24.42 L495.22 24.3 L495.69 24.3 L496.16 24.3 L496.63 24.3 L497.1 24.3 L497.57 24.3 L498.04 24.3 L498.51 24.3 L498.98 24.3 L499.45 24.3 L499.92 24.3 L500.39 24.3 L500.86 24.3 L501.33 24.3 L501.8 24.3 L502.27 24.41 L502.74 24.67 L503.21 24.96 L503.68 25.28 L504.15 25.63 L504.62 26 L505.09 26.41 L505.56 26.85 L506.03 27.31 L506.5 27.81 L506.97 28.35 L507.44 28.91 L507.91 29.51 L508.38 30.14 L508.85 30.8 L509.32 31.5 L509.79 32.24 L510.26 33.01 L510.73 33.82 L511.2 34.66 L511.67 35.54 L512.14 36.46 L512.61 37.42 L513.08 38.41 L513.55 39.44 L514.02 40.51 L514.49 41.62 L514.96 42.75 L515.43 43.92 L515.9 45.11 L516.37 46.33 L516.84 47.58 L517.31 48.84 L517.78 50.13 L518.25 51.44 L518.72 52.77 L519.19 54.11 L519.66 55.46 L520.13 56.83 L520.6 58.2 L521.07 59.59 L521.54 60.98 L522.01 62.38 L522.48 63.77 L522.95 65.17 L523.42 66.57 L523.89 67.97 L524.36 69.36 L524.83 70.75 L525.3 72.14 L525.77 73.53 L526.24 74.91 L526.71 76.29 L527.18 77.66 L527.65 79.03 L528.12 80.39 L528.59 81.75 L529.06 83.1 L529.54 84.45 L530.01 85.78 L530.48 87.11 L530.95 88.44 L531.42 89.75 L531.89 91.06 L532.36 92.35 L532.83 93.64 L533.3 94.92 L533.77 96.19 L534.24 97.44 L534.71 98.69 L535.18 99.92 L535.65 101.14 L536.12 102.35 L536.59 103.55 L537.06 104.73 L537.53 105.9 L538 107.06 L538.47 108.2 L538.94 109.33 L539.41 110.44 L539.88 111.54 L540.35 112.63 L540.82 113.7 L541.29 114.76 L541.76 115.81 L542.23 116.84 L542.7 117.86 L543.17 118.87 L543.64 119.87 L544.11 120.85 L544.58 121.82 L545.05 122.77 L545.52 123.72 L545.99 124.65 L546.46 125.57 L546.93 126.48 L547.4 127.37 L547.87 128.26 L548.34 129.13 L548.81 129.99 L549.28 130.84 L549.75 131.68 L550.22 132.51 L550.69 133.33 L551.16 134.13 L551.63 134.93 L552.1 135.71 L552.57 136.49 L553.04 137.25 L553.51 138 L553.98 138.75 L554.45 139.48 L554.92 140.2 L555.39 140.92 L555.86 141.62 L556.33 142.31 L556.8 143 L557.27 143.68 L557.74 144.34 L558.21 145 L558.68 145.65 L559.15 146.29 L559.62 146.92 L560.09 147.54 L560.56 148.16 L561.03 148.76 L561.5 149.36 L561.97 149.95 L562.44 150.53 L562.91 151.1 L563.38 151.67 L563.85 152.23 L564.32 152.78 L564.79 153.32 L565.26 153.86 L565.73 154.39 L566.2 154.91 L566.67 155.42 L567.14 155.93 L567.61 156.43 L568.08 156.93 L568.55 157.42 L569.02 157.9 L569.49 158.38 L569.97 158.85 L570.44 159.31 L570.91 159.77 L571.38 160.23 L571.85 160.67 L572.32 161.12 L572.79 161.55 L573.26 161.99 L573.73 162.41 L574.2 162.83 L574.67 163.25 L575.14 163.66 L575.61 164.07 L576.08 164.47 L576.55 164.87 L577.02 165.27 L577.49 165.66 L577.96 166.05 L578.43 166.43 L578.9 166.81 L579.37 167.18 L579.84 167.56 L580.31 167.93 L580.78 168.29 L581.25 168.65 L581.72 169.01 L582.19 169.37 L582.66 169.72 L583.13 170.07 L583.6 170.42 L584.07 170.77 L584.54 171.11 L585.01 171.45 L585.48 171.79 L585.95 172.12 L586.42 172.45 L586.89 172.78 L587.36 173.11 L587.83 173.43 L588.3 173.76 L588.77 174.07 L589.24 174.39 L589.71 174.7 L590.18 175.01 L590.65 175.32 L591.12 175.63 L591.59 175.93 L592.06 176.23 L592.53 176.53 L593 176.82 L593.47 177.12 L593.94 177.41 L594.41 177.69 L594.88 177.98 L595.35 178.26 L595.82 178.54 L596.29 178.82 L596.76 179.1 L597.23 179.37 L597.7 179.64 L598.17 179.91 L598.64 180.18 L599.11 180.44 L599.58 180.7 L600.05 180.96 L600.52 181.22 L600.99 181.47 L601.46 181.73 L601.93 181.98 L602.4 182.22 L602.87 182.47 L603.34 182.71 L603.81 182.95 L604.28 183.19 L604.75 183.43 L605.22 183.66 L605.69 183.9 L606.16 184.13 L606.63 184.36 L607.1 184.58 L607.57 184.81 L608.04 185.03 L608.51 185.25 L608.98 185.47 L609.45 185.68 L609.93 185.9 L610.4 186.11 L610.87 186.32 L611.34 186.53 L611.81 186.73 L612.28 186.94 L612.75 187.14 L613.22 187.34 L613.69 187.54 L614.16 187.73 L614.63 187.93 L615.1 188.12 L615.57 188.31 L616.04 188.5 L616.51 188.69 L616.98 188.87 L617.45 189.06 L617.92 189.24 L618.39 189.42 L618.86 189.59 L619.33 189.77 L619.8 189.95 L620.27 190.12 L620.74 190.29 L621.21 190.46 L621.68 190.63 L622.15 190.79 L622.62 190.96 L623.09 191.12 L623.56 191.28 L624.03 191.44 L624.5 191.6 L624.97 191.76 L625.44 191.91 L625.91 192.06 L626.38 192.22 L626.85 192.37 L627.32 192.51 L627.79 192.66 L628.26 192.81 L628.73 192.95 L629.2 193.09 L629.67 193.24 L630.14 193.38 L630.61 193.51 L631.08 193.65 L631.55 193.79 L632.02 193.92 L632.49 194.05 L632.96 194.19 L633.43 194.32 L633.9 194.44 L634.37 194.57 L634.84 194.7 L635.31 194.82 L635.78 194.95 L636.25 195.07 L636.72 195.19 L637.19 195.31 L637.66 195.43 L638.13 195.55 L638.6 195.66 L639.07 195.78 L639.54 195.89 L640.01 196.01 L640.48 196.12 L640.95 196.23 L641.42 196.34 L641.89 196.45 L642.36 196.55 L642.83 196.66 L643.3 196.77 L643.77 196.87 L644.24 196.97 L644.71 197.08 L645.18 197.18 L645.65 197.28 L646.12 197.38 L646.59 197.47 L647.06 197.57 L647.53 197.67 L648 197.76 L648.47 197.86 L648.94 197.95 L649.41 198.05 L649.88 198.14 L650.36 198.23 L650.83 198.32 L651.3 198.41 L651.77 198.5 L652.24 198.59 L652.71 198.67 L653.18 198.76 L653.65 198.84 L654.12 198.93 L654.59 199.01 L655.06 199.1 L655.53 199.18 L656 199.26 L656.47 199.34 L656.94 199.42 L657.41 199.5 L657.88 199.58 L658.35 199.66 L658.82 199.74 L659.29 199.82 L659.76 199.9 L660.23 199.97 L660.7 200.05 L661.17 200.12 L661.64 200.2 L662.11 200.27 L662.58 200.35 L663.05 200.42 L663.52 200.49 L663.99 200.57 L664.46 200.64 L664.93 200.71 L665.4 200.78 L665.87 200.85 L666.34 200.92 L666.81 200.99 L667.28 201.06 L667.75 201.13 L668.22 201.2 L668.69 201.27 L669.16 201.34 L669.63 201.41 L670.1 201.48" stroke="#1e8c28" stroke-width="1.2" stroke-dasharray="1.1 1.5"/>
<path d="M388.5 200.55 L388.97 200.24 L389.44 199.94 L389.91 199.64 L390.38 199.35 L390.85 199.06 L391.32 198.77 L391.79 198.49 L392.26 198.21 L392.73 197.93 L393.2 197.66 L393.67 197.4 L394.14 197.13 L394.61 196.87 L395.08 196.61 L395.55 196.36 L396.02 196.1 L396.49 195.85 L396.96 195.61 L397.43 195.36 L397.9 195.11 L398.37 194.87 L398.84 194.63 L399.31 194.39 L399.78 194.15 L400.25 193.91 L400.72 193.68 L401.19 193.44 L401.66 193.21 L402.13 192.97 L402.6 192.74 L403.07 192.5 L403.54 192.27 L404.01 192.03 L404.48 191.79 L404.95 191.56 L405.42 191.32 L405.89 191.08 L406.36 190.84 L406.83 190.6 L407.3 190.35 L407.77 190.11 L408.24 189.86 L408.72 189.61 L409.19 189.36 L409.66 189.11 L410.13 188.85 L410.6 188.59 L411.07 188.33 L411.54 188.07 L412.01 187.8 L412.48 187.53 L412.95 187.25 L413.42 186.97 L413.89 186.69 L414.36 186.4 L414.83 186.11 L415.3 185.82 L415.77 185.52 L416.24 185.21 L416.71 184.9 L417.18 184.58 L417.65 184.26 L418.12 183.94 L418.59 183.6 L419.06 183.27 L419.53 182.92 L420 182.57 L420.47 182.22 L420.94 181.85 L421.41 181.48 L421.88 181.11 L422.35 180.72 L422.82 180.33 L423.29 179.93 L423.76 179.53 L424.23 179.11 L424.7 178.69 L425.17 178.26 L425.64 177.82 L426.11 177.38 L426.58 176.92 L427.05 176.46 L427.52 175.98 L427.99 175.5 L428.46 175.01 L428.93 174.51 L429.4 174 L429.87 173.48 L430.34 172.95 L430.81 172.41 L431.28 171.86 L431.75 171.3 L432.22 170.73 L432.69 170.14 L433.16 169.55 L433.63 168.95 L434.1 168.33 L434.57 167.7 L435.04 167.06 L435.51 166.41 L435.98 165.75 L436.45 165.07 L436.92 164.38 L437.39 163.68 L437.86 162.97 L438.33 162.25 L438.8 161.51 L439.27 160.75 L439.74 159.99 L440.21 159.21 L440.68 158.42 L441.15 157.61 L441.62 156.79 L442.09 155.95 L442.56 155.1 L443.03 154.24 L443.5 153.36 L443.97 152.46 L444.44 151.56 L444.91 150.63 L445.38 149.69 L445.85 148.73 L446.32 147.76 L446.79 146.78 L447.26 145.77 L447.73 144.75 L448.2 143.72 L448.67 142.66 L449.15 141.59 L449.62 140.51 L450.09 139.4 L450.56 138.28 L451.03 137.14 L451.5 135.98 L451.97 134.81 L452.44 133.62 L452.91 132.4 L453.38 131.18 L453.85 129.93 L454.32 128.66 L454.79 127.38 L455.26 126.07 L455.73 124.75 L456.2 123.4 L456.67 122.04 L457.14 120.66 L457.61 119.26 L458.08 117.85 L458.55 116.41 L459.02 114.95 L459.49 113.48 L459.96 111.99 L460.43 110.48 L460.9 108.95 L461.37 107.4 L461.84 105.83 L462.31 104.25 L462.78 102.64 L463.25 101.02 L463.72 99.38 L464.19 97.73 L464.66 96.05 L465.13 94.35 L465.6 92.64 L466.07 90.91 L466.54 89.17 L467.01 87.41 L467.48 85.63 L467.95 83.85 L468.42 82.06 L468.89 80.27 L469.36 78.47 L469.83 76.67 L470.3 74.87 L470.77 73.07 L471.24 71.28 L471.71 69.49 L472.18 67.71 L472.65 65.94 L473.12 64.19 L473.59 62.44 L474.06 60.72 L474.53 59.01 L475 57.33 L475.47 55.67 L475.94 54.03 L476.41 52.42 L476.88 50.83 L477.35 49.28 L477.82 47.76 L478.29 46.28 L478.76 44.83 L479.23 43.43 L479.7 42.06 L480.17 40.74 L480.64 39.46 L481.11 38.23 L481.58 37.04 L482.05 35.91 L482.52 34.84 L482.99 33.81 L483.46 32.85 L483.93 31.94 L484.4 31.08 L484.87 30.27 L485.34 29.52 L485.81 28.82 L486.28 28.16 L486.75 27.56 L487.22 27 L487.69 26.49 L488.16 26.02 L488.63 25.6 L489.11 25.21 L489.58 24.87 L490.05 24.57 L490.52 24.31 L490.99 24.3 L491.46 24.3 L491.93 24.3 L492.4 24.3 L492.87 24.3 L493.34 24.3 L493.81 24.3 L494.28 24.3 L494.75 24.3 L495.22 24.3 L495.69 24.3 L496.16 24.3 L496.63 24.3 L497.1 24.3 L497.57 24.37 L498.04 24.62 L498.51 24.9 L498.98 25.2 L499.45 25.54 L499.92 25.9 L500.39 26.29 L500.86 26.72 L501.33 27.17 L501.8 27.66 L502.27 28.17 L502.74 28.72 L503.21 29.31 L503.68 29.92 L504.15 30.58 L504.62 31.26 L505.09 31.98 L505.56 32.74 L506.03 33.53 L506.5 34.36 L506.97 35.23 L507.44 36.14 L507.91 37.08 L508.38 38.07 L508.85 39.09 L509.32 40.15 L509.79 41.24 L510.26 42.37 L510.73 43.53 L511.2 44.72 L511.67 45.93 L512.14 47.17 L512.61 48.44 L513.08 49.73 L513.55 51.03 L514.02 52.36 L514.49 53.7 L514.96 55.05 L515.43 56.42 L515.9 57.8 L516.37 59.18 L516.84 60.58 L517.31 61.98 L517.78 63.38 L518.25 64.78 L518.72 66.18 L519.19 67.58 L519.66 68.98 L520.13 70.38 L520.6 71.77 L521.07 73.16 L521.54 74.55 L522.01 75.93 L522.48 77.31 L522.95 78.69 L523.42 80.06 L523.89 81.42 L524.36 82.78 L524.83 84.13 L525.3 85.47 L525.77 86.8 L526.24 88.13 L526.71 89.45 L527.18 90.76 L527.65 92.07 L528.12 93.36 L528.59 94.64 L529.06 95.91 L529.54 97.18 L530.01 98.43 L530.48 99.67 L530.95 100.89 L531.42 102.11 L531.89 103.31 L532.36 104.5 L532.83 105.67 L533.3 106.83 L533.77 107.98 L534.24 109.11 L534.71 110.23 L535.18 111.34 L535.65 112.43 L536.12 113.5 L536.59 114.57 L537.06 115.61 L537.53 116.65 L538 117.67 L538.47 118.68 L538.94 119.68 L539.41 120.66 L539.88 121.63 L540.35 122.59 L540.82 123.54 L541.29 124.47 L541.76 125.39 L542.23 126.3 L542.7 127.2 L543.17 128.08 L543.64 128.96 L544.11 129.82 L544.58 130.67 L545.05 131.51 L545.52 132.33 L545.99 133.15 L546.46 133.95 L546.93 134.75 L547.4 135.53 L547.87 136.3 L548.34 137.07 L548.81 137.82 L549.28 138.56 L549.75 139.29 L550.22 140.01 L550.69 140.72 L551.16 141.42 L551.63 142.11 L552.1 142.8 L552.57 143.47 L553.04 144.13 L553.51 144.79 L553.98 145.43 L554.45 146.07 L554.92 146.7 L555.39 147.31 L555.86 147.92 L556.33 148.53 L556.8 149.12 L557.27 149.7 L557.74 150.28 L558.21 150.85 L558.68 151.41 L559.15 151.96 L559.62 152.51 L560.09 153.05 L560.56 153.58 L561.03 154.1 L561.5 154.62 L561.97 155.13 L562.44 155.63 L562.91 156.13 L563.38 156.62 L563.85 157.1 L564.32 157.58 L564.79 158.05 L565.26 158.51 L565.73 158.97 L566.2 159.42 L566.67 159.87 L567.14 160.31 L567.61 160.75 L568.08 161.18 L568.55 161.6 L569.02 162.02 L569.49 162.43 L569.97 162.84 L570.44 163.25 L570.91 163.65 L571.38 164.05 L571.85 164.44 L572.32 164.83 L572.79 165.21 L573.26 165.59 L573.73 165.96 L574.2 166.33 L574.67 166.7 L575.14 167.07 L575.61 167.43 L576.08 167.79 L576.55 168.14 L577.02 168.49 L577.49 168.84 L577.96 169.19 L578.43 169.53 L578.9 169.87 L579.37 170.21 L579.84 170.54 L580.31 170.87 L580.78 171.2 L581.25 171.53 L581.72 171.86 L582.19 172.18 L582.66 172.5 L583.13 172.81 L583.6 173.13 L584.07 173.44 L584.54 173.75 L585.01 174.06 L585.48 174.36 L585.95 174.66 L586.42 174.96 L586.89 175.26 L587.36 175.55 L587.83 175.85 L588.3 176.14 L588.77 176.42 L589.24 176.71 L589.71 176.99 L590.18 177.27 L590.65 177.55 L591.12 177.83 L591.59 178.1 L592.06 178.37 L592.53 178.64 L593 178.9 L593.47 179.17 L593.94 179.43 L594.41 179.69 L594.88 179.95 L595.35 180.2 L595.82 180.46 L596.29 180.71 L596.76 180.96 L597.23 181.2 L597.7 181.45 L598.17 181.69 L598.64 181.93 L599.11 182.17 L599.58 182.4 L600.05 182.64 L600.52 182.87 L600.99 183.1 L601.46 183.33 L601.93 183.55 L602.4 183.77 L602.87 184 L603.34 184.22 L603.81 184.43 L604.28 184.65 L604.75 184.86 L605.22 185.07 L605.69 185.28 L606.16 185.49 L606.63 185.7 L607.1 185.9 L607.57 186.1 L608.04 186.3 L608.51 186.5 L608.98 186.7 L609.45 186.89 L609.93 187.09 L610.4 187.28 L610.87 187.47 L611.34 187.66 L611.81 187.84 L612.28 188.03 L612.75 188.21 L613.22 188.39 L613.69 188.57 L614.16 188.75 L614.63 188.92 L615.1 189.1 L615.57 189.27 L616.04 189.44 L616.51 189.61 L616.98 189.77 L617.45 189.94 L617.92 190.11 L618.39 190.27 L618.86 190.43 L619.33 190.59 L619.8 190.75 L620.27 190.9 L620.74 191.06 L621.21 191.21 L621.68 191.36 L622.15 191.51 L622.62 191.66 L623.09 191.81 L623.56 191.96 L624.03 192.1 L624.5 192.25 L624.97 192.39 L625.44 192.53 L625.91 192.67 L626.38 192.8 L626.85 192.94 L627.32 193.08 L627.79 193.21 L628.26 193.34 L628.73 193.47 L629.2 193.6 L629.67 193.73 L630.14 193.86 L630.61 193.99 L631.08 194.11 L631.55 194.24 L632.02 194.36 L632.49 194.48 L632.96 194.6 L633.43 194.72 L633.9 194.84 L634.37 194.95 L634.84 195.07 L635.31 195.18 L635.78 195.3 L636.25 195.41 L636.72 195.52 L637.19 195.63 L637.66 195.74 L638.13 195.85 L638.6 195.96 L639.07 196.06 L639.54 196.17 L640.01 196.27 L640.48 196.38 L640.95 196.48 L641.42 196.58 L641.89 196.68 L642.36 196.78 L642.83 196.88 L643.3 196.98 L643.77 197.07 L644.24 197.17 L644.71 197.26 L645.18 197.36 L645.65 197.45 L646.12 197.55 L646.59 197.64 L647.06 197.73 L647.53 197.82 L648 197.91 L648.47 198 L648.94 198.09 L649.41 198.17 L649.88 198.26 L650.36 198.35 L650.83 198.43 L651.3 198.52 L651.77 198.6 L652.24 198.68 L652.71 198.77 L653.18 198.85 L653.65 198.93 L654.12 199.01 L654.59 199.09 L655.06 199.17 L655.53 199.25 L656 199.33 L656.47 199.41 L656.94 199.49 L657.41 199.56 L657.88 199.64 L658.35 199.72 L658.82 199.79 L659.29 199.87 L659.76 199.94 L660.23 200.02 L660.7 200.09 L661.17 200.16 L661.64 200.24 L662.11 200.31 L662.58 200.38 L663.05 200.46 L663.52 200.53 L663.99 200.6 L664.46 200.67 L664.93 200.74 L665.4 200.81 L665.87 200.88 L666.34 200.95 L666.81 201.02 L667.28 201.09 L667.75 201.16 L668.22 201.23 L668.69 201.3 L669.16 201.37 L669.63 201.44 L670.1 201.51" stroke="#e8262a" stroke-width="1.2"/>
<g stroke="#5038c8" stroke-width="1.15" fill="#a868b8" fill-opacity="0.55"><circle cx="388.5" cy="200.55" r="1.65"/><circle cx="392.02" cy="198.35" r="1.65"/><circle cx="395.54" cy="196.36" r="1.65"/><circle cx="399.06" cy="194.52" r="1.65"/><circle cx="402.58" cy="192.75" r="1.65"/><circle cx="406.1" cy="190.97" r="1.65"/><circle cx="409.62" cy="189.13" r="1.65"/><circle cx="413.14" cy="187.14" r="1.65"/><circle cx="416.66" cy="184.93" r="1.65"/><circle cx="420.18" cy="182.43" r="1.65"/><circle cx="423.7" cy="179.58" r="1.65"/><circle cx="427.22" cy="176.29" r="1.65"/><circle cx="430.74" cy="172.49" r="1.65"/><circle cx="434.26" cy="168.12" r="1.65"/><circle cx="437.78" cy="163.1" r="1.65"/><circle cx="441.3" cy="157.35" r="1.65"/><circle cx="444.82" cy="150.82" r="1.65"/><circle cx="448.34" cy="143.41" r="1.65"/><circle cx="451.86" cy="135.07" r="1.65"/><circle cx="455.38" cy="125.73" r="1.65"/><circle cx="458.9" cy="115.32" r="1.65"/><circle cx="462.42" cy="103.87" r="1.65"/><circle cx="465.94" cy="91.39" r="1.65"/><circle cx="469.46" cy="78.09" r="1.65"/><circle cx="472.98" cy="64.71" r="1.65"/><circle cx="476.5" cy="52.12" r="1.65"/><circle cx="480.02" cy="41.16" r="1.65"/><circle cx="483.54" cy="32.69" r="1.65"/><circle cx="487.06" cy="27.19" r="1.65"/><circle cx="490.58" cy="24.3" r="1.65"/><circle cx="494.1" cy="24.3" r="1.65"/><circle cx="497.62" cy="24.4" r="1.65"/><circle cx="501.14" cy="26.98" r="1.65"/><circle cx="504.66" cy="31.32" r="1.65"/><circle cx="508.18" cy="37.65" r="1.65"/><circle cx="511.7" cy="46.01" r="1.65"/><circle cx="515.22" cy="55.8" r="1.65"/><circle cx="518.74" cy="66.24" r="1.65"/><circle cx="522.26" cy="76.66" r="1.65"/><circle cx="525.78" cy="86.82" r="1.65"/><circle cx="529.3" cy="96.55" r="1.65"/><circle cx="532.82" cy="105.66" r="1.65"/><circle cx="536.34" cy="114.01" r="1.65"/><circle cx="539.86" cy="121.6" r="1.65"/><circle cx="543.38" cy="128.48" r="1.65"/><circle cx="546.9" cy="134.7" r="1.65"/><circle cx="550.42" cy="140.31" r="1.65"/><circle cx="553.94" cy="145.38" r="1.65"/><circle cx="557.46" cy="149.94" r="1.65"/><circle cx="560.98" cy="154.04" r="1.65"/><circle cx="564.5" cy="157.75" r="1.65"/><circle cx="568.02" cy="161.12" r="1.65"/><circle cx="571.54" cy="164.18" r="1.65"/><circle cx="575.06" cy="167.01" r="1.65"/><circle cx="578.58" cy="169.64" r="1.65"/><circle cx="582.1" cy="172.12" r="1.65"/><circle cx="585.62" cy="174.45" r="1.65"/><circle cx="589.14" cy="176.65" r="1.65"/><circle cx="592.66" cy="178.71" r="1.65"/><circle cx="596.18" cy="180.65" r="1.65"/><circle cx="599.7" cy="182.46" r="1.65"/><circle cx="603.22" cy="184.16" r="1.65"/><circle cx="606.74" cy="185.74" r="1.65"/><circle cx="610.26" cy="187.22" r="1.65"/><circle cx="613.78" cy="188.6" r="1.65"/><circle cx="617.3" cy="189.89" r="1.65"/><circle cx="620.82" cy="191.08" r="1.65"/><circle cx="624.34" cy="192.2" r="1.65"/><circle cx="627.86" cy="193.23" r="1.65"/><circle cx="631.38" cy="194.19" r="1.65"/><circle cx="634.9" cy="195.08" r="1.65"/><circle cx="638.42" cy="195.92" r="1.65"/><circle cx="641.94" cy="196.69" r="1.65"/><circle cx="645.46" cy="197.41" r="1.65"/><circle cx="648.98" cy="198.09" r="1.65"/><circle cx="652.5" cy="198.73" r="1.65"/><circle cx="656.02" cy="199.33" r="1.65"/><circle cx="659.54" cy="199.91" r="1.65"/><circle cx="663.06" cy="200.46" r="1.65"/><circle cx="666.58" cy="200.99" r="1.65"/><circle cx="670.1" cy="201.51" r="1.65"/></g>
</g>
<rect x="388.5" y="3.6" width="281.7" height="224.7" fill="none" stroke="#1a1a1a" stroke-width="1.3"/>
<path d="M388.5 228.3h5 M388.5 187.5h5 M388.5 146.7h5 M388.5 105.9h5 M388.5 65.1h5 M388.5 24.3h5 M388.5 207.9h3 M388.5 167.1h3 M388.5 126.3h3 M388.5 85.5h3 M388.5 44.7h3" stroke="#1a1a1a" stroke-width="1.2" fill="none"/>
<text x="383.8" y="232.69" text-anchor="end" font-family='"Liberation Sans", sans-serif' font-weight="bold" font-size="12.2">1.0</text>
<text x="383.8" y="191.89" text-anchor="end" font-family='"Liberation Sans", sans-serif' font-weight="bold" font-size="12.2">1.2</text>
<text x="383.8" y="151.09" text-anchor="end" font-family='"Liberation Sans", sans-serif' font-weight="bold" font-size="12.2">1.4</text>
<text x="383.8" y="110.29" text-anchor="end" font-family='"Liberation Sans", sans-serif' font-weight="bold" font-size="12.2">1.6</text>
<text x="383.8" y="69.49" text-anchor="end" font-family='"Liberation Sans", sans-serif' font-weight="bold" font-size="12.2">1.8</text>
<text x="383.8" y="28.69" text-anchor="end" font-family='"Liberation Sans", sans-serif' font-weight="bold" font-size="12.2">2.0</text>
<path d="M388.5 228.3v-5 M458.9 228.3v-5 M529.3 228.3v-5 M599.7 228.3v-5 M670.1 228.3v-5 M423.7 228.3v-3 M494.1 228.3v-3 M564.5 228.3v-3 M634.9 228.3v-3" stroke="#1a1a1a" stroke-width="1.2" fill="none"/>
<text x="388.5" y="243.3" text-anchor="middle" font-family='"Liberation Sans", sans-serif' font-weight="bold" font-size="12.2">0</text>
<text x="458.9" y="243.3" text-anchor="middle" font-family='"Liberation Sans", sans-serif' font-weight="bold" font-size="12.2">1</text>
<text x="529.3" y="243.3" text-anchor="middle" font-family='"Liberation Sans", sans-serif' font-weight="bold" font-size="12.2">2</text>
<text x="599.7" y="243.3" text-anchor="middle" font-family='"Liberation Sans", sans-serif' font-weight="bold" font-size="12.2">3</text>
<text x="670.1" y="243.3" text-anchor="middle" font-family='"Liberation Sans", sans-serif' font-weight="bold" font-size="12.2">4</text>
<circle cx="554" cy="14.6" r="1.65" stroke="#5038c8" stroke-width="1.15" fill="none"/>
<path d="M540.7 33.7H567" stroke="#e8262a" stroke-width="1.4" fill="none"/>
<path d="M540.7 52.1H568.2" stroke="#1e8c28" stroke-width="1.2" stroke-dasharray="1.1 1.4" fill="none"/>
<path d="M540.7 70.4H568.2" stroke="#111" stroke-width="1.3" stroke-dasharray="5.5 3.5" fill="none"/>
<text x="574" y="19.4" font-family='"Liberation Sans", sans-serif' font-size="11.6"><tspan font-family='"Liberation Serif", serif' font-size="12.992">λ</tspan><tspan font-weight="bold" font-size="8.352" dy="4.176">ap</tspan><tspan font-weight="bold" dy="-4.18">= 0.0, </tspan><tspan font-family='"Liberation Serif", serif' font-size="12.992">γ</tspan><tspan font-weight="bold"> = 0.0</tspan></text>
<text x="572.8" y="38.5" font-family='"Liberation Sans", sans-serif' font-size="11.6"><tspan font-family='"Liberation Serif", serif' font-size="12.992">λ</tspan><tspan font-weight="bold" font-size="8.352" dy="4.176">ap</tspan><tspan font-weight="bold" dy="-4.18">= 0.05, </tspan><tspan font-family='"Liberation Serif", serif' font-size="12.992">γ</tspan><tspan font-weight="bold"> = 0.05</tspan></text>
<text x="570.5" y="56.9" font-family='"Liberation Sans", sans-serif' font-size="11.6"><tspan font-family='"Liberation Serif", serif' font-size="12.992">λ</tspan><tspan font-weight="bold" font-size="8.352" dy="4.176">ap</tspan><tspan font-weight="bold" dy="-4.18">= 0.2, </tspan><tspan font-family='"Liberation Serif", serif' font-size="12.992">γ</tspan><tspan font-weight="bold"> = 0.05</tspan></text>
<text x="570.5" y="75.2" font-family='"Liberation Sans", sans-serif' font-size="11.6"><tspan font-family='"Liberation Serif", serif' font-size="12.992">λ</tspan><tspan font-weight="bold" font-size="8.352" dy="4.176">ap</tspan><tspan font-weight="bold" dy="-4.18">= 0.75, </tspan><tspan font-family='"Liberation Serif", serif' font-size="12.992">γ</tspan><tspan font-weight="bold"> = 0.5</tspan></text>
<text x="621.5" y="144.5" font-family='"Liberation Sans", sans-serif' font-size="22.5">(b)</text>
<text x="470" y="164.6" font-family='"Liberation Serif", serif' font-weight="bold" font-size="16">t = 0.2 ω<tspan font-size="11" dy="5">0</tspan></text>
<text x="470" y="190.6" font-family='"Liberation Serif", serif' font-weight="bold" font-size="16">α = 0.8</text>
<text transform="translate(359.2 139) rotate(-90)" font-family='"Liberation Sans", sans-serif' font-weight="bold" font-size="26">E</text>
<text transform="translate(366 121.5) rotate(-90)" font-family='"Liberation Sans", sans-serif' font-size="12.5">ν</text>
<text x="497.8" y="261" font-family='"Liberation Sans", sans-serif' font-weight="bold" font-size="17.5">U</text>
<text x="521" y="261.5" font-family='"Liberation Sans", sans-serif' font-weight="bold" font-size="18">(</text>
<text x="533" y="261" font-family='"Liberation Sans", sans-serif' font-size="15.5">ω</text>
<text x="545" y="267.5" font-family='"Liberation Sans", sans-serif' font-weight="bold" font-size="10.5">0</text>
<text x="556" y="261.5" font-family='"Liberation Sans", sans-serif' font-weight="bold" font-size="18">)</text>
</g>
<path d="M271.48 410.4L271.48 302.4 M322.35 402.5L322.35 294.5 M373.23 394.6L373.23 286.6 M220.6 391.3L424.1 359.7L537.1 417.7 M220.6 364.3L424.1 332.7L537.1 390.7 M220.6 337.3L424.1 305.7L537.1 363.7 M508.85 430.2L508.85 322.2 M480.6 415.7L480.6 307.7 M452.35 401.2L452.35 293.2 M424.1 386.7L424.1 278.7" stroke="#f0f0f0" stroke-width="0.8" fill="none"/>
<g><path d="M427.1 461.23 L428.73 460.97 L430.37 460.71 L432 460.45 L433.63 460.19 L435.27 459.93 L436.9 459.67 L438.53 459.41 L440.17 459.15 L441.8 458.89 L443.43 458.64 L445.07 458.38 L446.7 458.12 L448.33 457.86 L449.97 457.6 L451.6 457.34 L453.23 457.08 L454.87 456.82 L456.5 456.56 L458.13 456.3 L459.77 456.04 L461.4 455.79 L463.03 455.53 L464.67 455.27 L466.3 455.01 L467.93 454.75 L469.57 454.49 L471.2 454.23 L472.83 453.97 L474.47 453.71 L476.1 453.45 L477.73 453.19 L479.37 452.93 L481 452.68 L482.63 452.42 L484.27 452.16 L485.9 451.9 L487.53 451.64 L489.17 451.38 L490.8 451.12 L492.43 450.86 L494.07 450.6 L495.7 450.34 L497.33 450.08 L498.97 449.82 L500.6 449.56 L502.23 449.31 L503.87 449.05 L505.5 448.79 L507.13 448.53 L508.77 448.27 L510.4 448.01 L512.03 447.75 L513.67 447.49 L515.3 447.23 L516.93 446.97 L518.57 446.71 L520.2 446.45 L521.83 446.2 L523.47 445.94 L525.1 445.68 L526.73 445.42 L528.37 445.16 L530 444.9 L529.12 444.42 L528.23 443.94 L527.35 443.46 L526.47 442.98 L525.58 442.5 L524.7 442.01 L523.82 441.53 L522.93 441.05 L522.05 440.57 L521.17 440.09 L520.28 439.61 L519.4 439.13 L518.52 438.65 L517.63 438.17 L516.75 437.69 L515.87 437.21 L514.98 436.73 L514.1 436.25 L513.22 435.76 L512.33 435.28 L511.45 434.8 L510.57 434.32 L509.68 433.84 L508.8 433.36 L507.92 432.88 L507.03 432.4 L506.15 431.92 L505.27 431.44 L504.38 430.96 L503.5 430.47 L502.62 429.99 L501.73 429.51 L500.85 429.03 L499.97 428.55 L499.08 428.07 L498.2 427.59 L497.32 427.11 L496.43 426.63 L495.55 426.15 L494.67 425.67 L493.78 425.19 L492.9 424.7 L492.02 424.22 L491.13 423.74 L490.25 423.26 L489.37 422.78 L488.48 422.3 L487.6 421.82 L486.72 421.34 L485.83 420.86 L484.95 420.38 L484.07 419.9 L483.18 419.42 L482.3 418.93 L481.42 418.45 L480.53 417.97 L479.65 417.49 L478.77 417.01 L477.88 416.53 L477 416.05 L476.12 415.57 L475.23 415.09 L474.35 414.61 L473.47 414.13 L472.58 413.65 L471.7 413.16 L470.82 412.68 L469.93 412.2 L469.05 411.72 L468.17 411.24 L467.28 410.76 L466.4 410.28 L465.52 409.8 L464.63 409.32 L463.75 408.84 L462.87 408.36 L461.98 407.88 L461.1 407.39 L460.22 406.91 L459.33 406.43 L458.45 405.95 L457.57 405.47 L456.68 404.99 L455.8 404.51 L454.92 404.03 L454.03 403.55 L453.15 403.07 L452.27 402.59 L451.38 402.11 L450.5 401.62 L449.62 401.14 L448.73 400.66 L447.85 400.18 L446.97 399.7 L446.08 399.22 L445.2 398.74 L445.15 398.71 L445.12 398.75 L444.74 399.43 L444.65 399.59 L444.37 400.11 L444.16 400.47 L443.98 400.8 L443.66 401.35 L443.59 401.48 L443.21 402.16 L443.17 402.23 L442.85 402.84 L442.7 403.12 L442.49 403.52 L442.22 404.01 L442.12 404.2 L441.74 404.88 L441.73 404.89 L441.4 405.55 L441.27 405.79 L441.05 406.23 L440.81 406.68 L440.7 406.91 L440.34 407.58 L440.33 407.58 L440.01 408.26 L439.89 408.48 L439.68 408.93 L439.44 409.38 L439.34 409.61 L438.99 410.28 L438.99 410.29 L438.68 410.95 L438.56 411.2 L438.36 411.62 L438.12 412.11 L438.03 412.3 L437.71 412.97 L437.68 413.02 L437.41 413.64 L437.27 413.94 L437.1 414.31 L436.84 414.86 L436.79 414.98 L436.49 415.65 L436.43 415.78 L436.2 416.31 L436.02 416.71 L435.91 416.98 L435.61 417.63 L435.61 417.65 L435.34 418.31 L435.23 418.57 L435.06 418.98 L434.83 419.51 L434.78 419.64 L434.5 420.31 L434.45 420.45 L434.25 420.97 L434.07 421.39 L433.98 421.63 L433.71 422.3 L433.69 422.33 L433.47 422.96 L433.34 423.29 L433.22 423.62 L432.97 424.24 L432.96 424.28 L432.73 424.94 L432.63 425.2 L432.49 425.6 L432.28 426.16 L432.25 426.26 L432.02 426.91 L431.95 427.12 L431.81 427.57 L431.62 428.09 L431.58 428.23 L431.36 428.88 L431.3 429.07 L431.16 429.53 L430.99 430.04 L430.94 430.19 L430.74 430.84 L430.68 431.03 L430.55 431.49 L430.38 432.01 L430.35 432.15 L430.16 432.8 L430.1 433 L429.98 433.45 L429.82 434 L429.79 434.1 L429.62 434.75 L429.55 435 L429.45 435.39 L429.28 436.01 L429.27 436.04 L429.13 436.69 L429.04 437.02 L428.97 437.33 L428.81 437.98 L428.79 438.04 L428.67 438.62 L428.57 439.06 L428.52 439.27 L428.39 439.91 L428.35 440.09 L428.26 440.55 L428.13 441.12 L428.12 441.19 L428.01 441.83 L427.94 442.17 L427.89 442.47 L427.77 443.11 L427.75 443.21 L427.67 443.75 L427.58 444.26 L427.56 444.39 L427.47 445.02 L427.42 445.33 L427.38 445.66 L427.28 446.29 L427.27 446.39 L427.21 446.93 L427.13 447.47 L427.12 447.56 L427.06 448.19 L427.01 448.55 L426.99 448.83 L426.93 449.46 L426.91 449.64 L426.88 450.09 L426.81 450.72 L426.81 450.74 L426.78 451.34 L426.74 451.84 L426.73 451.97 L426.7 452.6 L426.68 452.96 L426.67 453.22 L426.65 453.85 L426.64 454.09 L426.63 454.47 L426.62 455.09 L426.61 455.22 L426.62 455.72 L426.6 456.34 L426.6 456.36 L426.62 456.96 L426.62 457.52 L426.62 457.58 L426.65 458.19 L426.66 458.69 L426.66 458.81 L426.7 459.43 L426.71 459.87 L426.72 460.05 L426.77 460.66 L426.79 461.06 L426.81 461.27 L427.1 461.23Z" fill="#3a2a9a" stroke="#3a2a9a" stroke-width="0.4" fill-rule="evenodd"/><path d="M404.23 464.86 L405.87 464.6 L407.5 464.34 L409.13 464.08 L410.77 463.82 L412.4 463.56 L414.03 463.3 L415.67 463.04 L417.3 462.78 L418.93 462.52 L420.57 462.26 L422.2 462 L423.83 461.75 L425.47 461.49 L426.81 461.27 L426.79 461.06 L426.77 460.66 L426.72 460.05 L426.71 459.87 L426.7 459.43 L426.66 458.81 L426.66 458.69 L426.65 458.19 L426.62 457.58 L426.62 457.52 L426.62 456.96 L426.6 456.36 L426.6 456.34 L426.62 455.72 L426.61 455.22 L426.62 455.09 L426.63 454.47 L426.64 454.09 L426.65 453.85 L426.67 453.22 L426.68 452.96 L426.7 452.6 L426.73 451.97 L426.74 451.84 L426.78 451.34 L426.81 450.74 L426.81 450.72 L426.88 450.09 L426.91 449.64 L426.93 449.46 L426.99 448.83 L427.01 448.55 L427.06 448.19 L427.12 447.56 L427.13 447.47 L427.21 446.93 L427.27 446.39 L427.28 446.29 L427.38 445.66 L427.42 445.33 L427.47 445.02 L427.56 444.39 L427.58 444.26 L427.67 443.75 L427.75 443.21 L427.77 443.11 L427.89 442.47 L427.94 442.17 L428.01 441.83 L428.12 441.19 L428.13 441.12 L428.26 440.55 L428.35 440.09 L428.39 439.91 L428.52 439.27 L428.57 439.06 L428.67 438.62 L428.79 438.04 L428.81 437.98 L428.97 437.33 L429.04 437.02 L429.13 436.69 L429.27 436.04 L429.28 436.01 L429.45 435.39 L429.55 435 L429.62 434.75 L429.79 434.1 L429.82 434 L429.98 433.45 L430.1 433 L430.16 432.8 L430.35 432.15 L430.38 432.01 L430.55 431.49 L430.68 431.03 L430.74 430.84 L430.94 430.19 L430.99 430.04 L431.16 429.53 L431.3 429.07 L431.36 428.88 L431.58 428.23 L431.62 428.09 L431.81 427.57 L431.95 427.12 L432.02 426.91 L432.25 426.26 L432.28 426.16 L432.49 425.6 L432.63 425.2 L432.73 424.94 L432.96 424.28 L432.97 424.24 L433.22 423.62 L433.34 423.29 L433.47 422.96 L433.69 422.33 L433.71 422.3 L433.98 421.63 L434.07 421.39 L434.25 420.97 L434.45 420.45 L434.5 420.31 L434.78 419.64 L434.83 419.51 L435.06 418.98 L435.23 418.57 L435.34 418.31 L435.61 417.65 L435.61 417.63 L435.91 416.98 L436.02 416.71 L436.2 416.31 L436.43 415.78 L436.49 415.65 L436.79 414.98 L436.84 414.86 L437.1 414.31 L437.27 413.94 L437.41 413.64 L437.68 413.02 L437.71 412.97 L438.03 412.3 L438.12 412.11 L438.36 411.62 L438.56 411.2 L438.68 410.95 L438.99 410.29 L438.99 410.28 L439.34 409.61 L439.44 409.38 L439.68 408.93 L439.89 408.48 L440.01 408.26 L440.33 407.58 L440.34 407.58 L440.7 406.91 L440.81 406.68 L441.05 406.23 L441.27 405.79 L441.4 405.55 L441.73 404.89 L441.74 404.88 L442.12 404.2 L442.22 404.01 L442.49 403.52 L442.7 403.12 L442.85 402.84 L443.17 402.23 L443.21 402.16 L443.59 401.48 L443.66 401.35 L443.98 400.8 L444.16 400.47 L444.37 400.11 L444.65 399.59 L444.74 399.43 L445.12 398.75 L445.15 398.71 L444.32 398.26 L443.43 397.78 L442.55 397.3 L441.67 396.82 L440.78 396.34 L439.9 395.85 L439.02 395.37 L438.13 394.89 L437.81 394.72 L437.63 394.97 L437.21 395.54 L437.12 395.68 L436.62 396.36 L436.61 396.38 L436.13 397.07 L436.04 397.2 L435.65 397.77 L435.46 398.03 L435.16 398.47 L434.88 398.86 L434.68 399.17 L434.3 399.7 L434.18 399.87 L433.72 400.53 L433.69 400.57 L433.22 401.26 L433.15 401.37 L432.76 401.96 L432.58 402.21 L432.29 402.65 L432.02 403.05 L431.82 403.35 L431.45 403.89 L431.35 404.04 L430.88 404.72 L430.87 404.74 L430.42 405.43 L430.33 405.57 L429.97 406.12 L429.78 406.42 L429.52 406.82 L429.22 407.27 L429.07 407.51 L428.67 408.11 L428.61 408.2 L428.16 408.9 L428.12 408.96 L427.73 409.58 L427.58 409.82 L427.3 410.27 L427.04 410.67 L426.86 410.97 L426.5 411.52 L426.42 411.66 L425.97 412.35 L425.96 412.38 L425.56 413.03 L425.43 413.24 L425.15 413.72 L424.91 414.1 L424.72 414.41 L424.38 414.96 L424.3 415.1 L423.87 415.79 L423.85 415.82 L423.48 416.47 L423.34 416.69 L423.07 417.15 L422.83 417.56 L422.67 417.84 L422.31 418.43 L422.25 418.53 L421.85 419.21 L421.8 419.3 L421.47 419.89 L421.3 420.18 L421.08 420.58 L420.8 421.05 L420.68 421.26 L420.29 421.93 L420.28 421.94 L419.91 422.62 L419.81 422.81 L419.54 423.3 L419.32 423.69 L419.16 423.99 L418.83 424.57 L418.78 424.67 L418.41 425.35 L418.35 425.46 L418.05 426.02 L417.87 426.35 L417.69 426.7 L417.4 427.24 L417.32 427.38 L416.96 428.06 L416.92 428.13 L416.62 428.74 L416.47 429.03 L416.27 429.41 L416 429.92 L415.92 430.09 L415.57 430.77 L415.54 430.82 L415.24 431.44 L415.1 431.73 L414.91 432.11 L414.64 432.63 L414.57 432.79 L414.23 433.46 L414.2 433.54 L413.92 434.13 L413.77 434.45 L413.6 434.8 L413.33 435.36 L413.27 435.48 L412.96 436.15 L412.9 436.27 L412.66 436.82 L412.48 437.19 L412.35 437.49 L412.05 438.11 L412.03 438.16 L411.74 438.82 L411.64 439.04 L411.45 439.49 L411.24 439.96 L411.15 440.16 L410.85 440.83 L410.83 440.89 L410.58 441.49 L410.44 441.82 L410.3 442.16 L410.04 442.75 L410.01 442.83 L409.74 443.49 L409.65 443.69 L409.48 444.15 L409.27 444.63 L409.2 444.82 L408.93 445.48 L408.9 445.58 L408.69 446.14 L408.53 446.53 L408.43 446.8 L408.16 447.47 L408.16 447.47 L407.93 448.12 L407.81 448.43 L407.69 448.78 L407.46 449.39 L407.43 449.44 L407.21 450.1 L407.12 450.35 L406.98 450.76 L406.78 451.31 L406.74 451.42 L406.52 452.07 L406.45 452.28 L406.31 452.73 L406.12 453.25 L406.08 453.38 L405.87 454.04 L405.81 454.23 L405.67 454.69 L405.5 455.21 L405.46 455.35 L405.26 456 L405.2 456.2 L405.07 456.65 L404.91 457.18 L404.87 457.3 L404.69 457.95 L404.62 458.18 L404.51 458.6 L404.34 459.17 L404.32 459.25 L404.16 459.9 L404.08 460.18 L403.99 460.55 L403.81 461.18 L403.81 461.2 L403.66 461.84 L403.57 462.2 L403.5 462.49 L403.34 463.13 L403.32 463.21 L403.21 463.78 L403.1 464.24 L403.06 464.42 L402.92 465.06 L404.23 464.86Z M285.53 427.8 L287.17 427.54 L288.8 427.28 L290.43 427.02 L292.07 426.76 L293.7 426.5 L295.33 426.25 L296.97 425.99 L298.6 425.73 L298.6 425.73 L300.2 425.45 L301.73 425.13 L303.26 424.82 L304.76 424.49 L306.24 424.15 L307.71 423.8 L309.16 423.44 L309.27 423.41 L310.6 423.07 L312.01 422.69 L313.42 422.31 L314.81 421.92 L314.86 421.91 L316.18 421.52 L317.54 421.11 L318.89 420.69 L319.19 420.6 L320.22 420.27 L321.53 419.84 L322.84 419.4 L322.87 419.39 L324.13 418.95 L325.41 418.5 L326.07 418.26 L326.67 418.04 L327.93 417.58 L328.98 417.18 L329.17 417.11 L330.4 416.63 L331.63 416.15 L331.65 416.14 L332.83 415.65 L334.03 415.16 L334.12 415.12 L335.21 414.66 L336.4 414.15 L336.43 414.14 L337.56 413.64 L338.61 413.17 L338.72 413.12 L339.87 412.59 L340.68 412.22 L341.01 412.07 L342.14 411.53 L342.65 411.29 L343.26 410.99 L344.37 410.45 L344.56 410.36 L345.47 409.9 L346.38 409.45 L346.57 409.35 L347.66 408.8 L348.13 408.55 L348.74 408.24 L349.82 407.68 L349.84 407.66 L350.88 407.1 L351.48 406.78 L351.94 406.53 L352.99 405.96 L353.09 405.9 L354.03 405.38 L354.64 405.04 L355.07 404.8 L356.11 404.21 L356.18 404.17 L357.13 403.62 L357.65 403.32 L358.15 403.03 L359.12 402.46 L359.17 402.43 L360.17 401.83 L360.53 401.62 L361.17 401.23 L361.93 400.78 L362.17 400.62 L363.17 400.02 L363.3 399.94 L364.15 399.4 L364.64 399.1 L365.13 398.79 L365.97 398.27 L366.12 398.18 L367.09 397.56 L367.27 397.44 L368.05 396.94 L368.54 396.62 L369.02 396.31 L369.81 395.8 L368.47 396.01 L366.83 396.27 L365.2 396.53 L363.57 396.79 L361.93 397.05 L360.3 397.31 L358.67 397.57 L357.03 397.83 L355.4 398.09 L353.77 398.34 L352.13 398.6 L350.5 398.86 L348.87 399.12 L347.23 399.38 L345.6 399.64 L343.97 399.9 L342.33 400.16 L340.7 400.42 L339.07 400.68 L337.43 400.94 L335.8 401.19 L334.17 401.45 L332.53 401.71 L330.9 401.97 L329.27 402.23 L327.63 402.49 L326 402.75 L324.37 403.01 L322.73 403.27 L321.1 403.53 L319.47 403.79 L317.83 404.05 L316.2 404.31 L314.57 404.56 L312.93 404.82 L311.3 405.08 L309.67 405.34 L308.03 405.6 L306.4 405.86 L304.77 406.12 L303.13 406.38 L301.5 406.64 L299.87 406.9 L298.23 407.16 L296.6 407.42 L294.97 407.67 L293.33 407.93 L291.7 408.19 L290.07 408.45 L288.43 408.71 L286.8 408.97 L285.17 409.23 L283.53 409.49 L281.9 409.75 L280.27 410.01 L278.63 410.27 L277 410.53 L275.37 410.78 L273.73 411.04 L272.1 411.3 L270.47 411.56 L268.83 411.82 L267.2 412.08 L265.57 412.34 L263.93 412.6 L262.3 412.86 L260.67 413.12 L259.03 413.38 L257.4 413.63 L255.77 413.89 L254.13 414.15 L252.5 414.41 L250.87 414.67 L249.23 414.93 L247.6 415.19 L245.97 415.45 L244.33 415.71 L242.7 415.97 L241.07 416.23 L239.43 416.49 L237.8 416.75 L236.17 417 L234.53 417.26 L232.9 417.52 L231.27 417.78 L229.63 418.04 L228 418.3 L228.88 418.78 L229.77 419.26 L230.65 419.74 L231.53 420.22 L232.42 420.7 L233.3 421.19 L234.18 421.67 L235.07 422.15 L235.95 422.63 L236.83 423.11 L237.72 423.59 L238.6 424.07 L239.48 424.55 L240.37 425.03 L241.25 425.51 L242.13 425.99 L243.02 426.47 L243.9 426.95 L244.78 427.44 L245.67 427.92 L246.55 428.4 L247.43 428.88 L248.32 429.36 L248.72 429.58 L250.69 429.6 L250.88 429.61 L253.01 429.62 L254.5 429.62 L255.12 429.62 L257.2 429.6 L258.64 429.58 L259.26 429.58 L261.29 429.53 L263.21 429.48 L263.3 429.48 L265.28 429.41 L267.24 429.32 L268.48 429.26 L269.17 429.23 L271.08 429.12 L272.97 429 L274.83 428.87 L274.99 428.85 L276.67 428.72 L278.49 428.56 L280.28 428.39 L282.06 428.2 L283.81 428.01 L285.53 427.8Z" fill="#1f52c4" stroke="#1f52c4" stroke-width="0.4" fill-rule="evenodd"/><path d="M392.8 466.67 L394.43 466.41 L396.07 466.15 L397.7 465.89 L399.33 465.63 L400.97 465.37 L402.6 465.12 L402.92 465.06 L403.06 464.42 L403.1 464.24 L403.21 463.78 L403.32 463.21 L403.34 463.13 L403.5 462.49 L403.57 462.2 L403.66 461.84 L403.81 461.2 L403.81 461.18 L403.99 460.55 L404.08 460.18 L404.16 459.9 L404.32 459.25 L404.34 459.17 L404.51 458.6 L404.62 458.18 L404.69 457.95 L404.87 457.3 L404.91 457.18 L405.07 456.65 L405.2 456.2 L405.26 456 L405.46 455.35 L405.5 455.21 L405.67 454.69 L405.81 454.23 L405.87 454.04 L406.08 453.38 L406.12 453.25 L406.31 452.73 L406.45 452.28 L406.52 452.07 L406.74 451.42 L406.78 451.31 L406.98 450.76 L407.12 450.35 L407.21 450.1 L407.43 449.44 L407.46 449.39 L407.69 448.78 L407.81 448.43 L407.93 448.12 L408.16 447.47 L408.16 447.47 L408.43 446.8 L408.53 446.53 L408.69 446.14 L408.9 445.58 L408.93 445.48 L409.2 444.82 L409.27 444.63 L409.48 444.15 L409.65 443.69 L409.74 443.49 L410.01 442.83 L410.04 442.75 L410.3 442.16 L410.44 441.82 L410.58 441.49 L410.83 440.89 L410.85 440.83 L411.15 440.16 L411.24 439.96 L411.45 439.49 L411.64 439.04 L411.74 438.82 L412.03 438.16 L412.05 438.11 L412.35 437.49 L412.48 437.19 L412.66 436.82 L412.9 436.27 L412.96 436.15 L413.27 435.48 L413.33 435.36 L413.6 434.8 L413.77 434.45 L413.92 434.13 L414.2 433.54 L414.23 433.46 L414.57 432.79 L414.64 432.63 L414.91 432.11 L415.1 431.73 L415.24 431.44 L415.54 430.82 L415.57 430.77 L415.92 430.09 L416 429.92 L416.27 429.41 L416.47 429.03 L416.62 428.74 L416.92 428.13 L416.96 428.06 L417.32 427.38 L417.4 427.24 L417.69 426.7 L417.87 426.35 L418.05 426.02 L418.35 425.46 L418.41 425.35 L418.78 424.67 L418.83 424.57 L419.16 423.99 L419.32 423.69 L419.54 423.3 L419.81 422.81 L419.91 422.62 L420.28 421.94 L420.29 421.93 L420.68 421.26 L420.8 421.05 L421.08 420.58 L421.3 420.18 L421.47 419.89 L421.8 419.3 L421.85 419.21 L422.25 418.53 L422.31 418.43 L422.67 417.84 L422.83 417.56 L423.07 417.15 L423.34 416.69 L423.48 416.47 L423.85 415.82 L423.87 415.79 L424.3 415.1 L424.38 414.96 L424.72 414.41 L424.91 414.1 L425.15 413.72 L425.43 413.24 L425.56 413.03 L425.96 412.38 L425.97 412.35 L426.42 411.66 L426.5 411.52 L426.86 410.97 L427.04 410.67 L427.3 410.27 L427.58 409.82 L427.73 409.58 L428.12 408.96 L428.16 408.9 L428.61 408.2 L428.67 408.11 L429.07 407.51 L429.22 407.27 L429.52 406.82 L429.78 406.42 L429.97 406.12 L430.33 405.57 L430.42 405.43 L430.87 404.74 L430.88 404.72 L431.35 404.04 L431.45 403.89 L431.82 403.35 L432.02 403.05 L432.29 402.65 L432.58 402.21 L432.76 401.96 L433.15 401.37 L433.22 401.26 L433.69 400.57 L433.72 400.53 L434.18 399.87 L434.3 399.7 L434.68 399.17 L434.88 398.86 L435.16 398.47 L435.46 398.03 L435.65 397.77 L436.04 397.2 L436.13 397.07 L436.61 396.38 L436.62 396.36 L437.12 395.68 L437.21 395.54 L437.63 394.97 L437.81 394.72 L437.25 394.41 L436.37 393.93 L435.48 393.45 L434.6 392.97 L434.59 392.96 L434.58 392.97 L434.04 393.68 L433.97 393.77 L433.51 394.39 L433.35 394.59 L432.97 395.09 L432.73 395.4 L432.43 395.8 L432.11 396.21 L431.89 396.51 L431.49 397.02 L431.35 397.21 L430.87 397.83 L430.8 397.92 L430.26 398.63 L430.25 398.64 L429.74 399.33 L429.65 399.46 L429.23 400.03 L429.04 400.28 L428.71 400.74 L428.44 401.1 L428.19 401.44 L427.83 401.91 L427.66 402.14 L427.22 402.73 L427.13 402.85 L426.61 403.55 L426.6 403.55 L426.11 404.25 L426.02 404.37 L425.61 404.95 L425.43 405.2 L425.11 405.65 L424.83 406.03 L424.6 406.36 L424.24 406.85 L424.1 407.06 L423.64 407.67 L423.59 407.76 L423.08 408.46 L423.05 408.5 L422.6 409.16 L422.48 409.34 L422.12 409.85 L421.9 410.17 L421.64 410.55 L421.32 411 L421.15 411.25 L420.73 411.83 L420.65 411.95 L420.16 412.65 L420.15 412.66 L419.7 413.34 L419.59 413.5 L419.23 414.04 L419.02 414.34 L418.76 414.73 L418.45 415.18 L418.29 415.43 L417.88 416.02 L417.81 416.13 L417.34 416.82 L417.31 416.86 L416.89 417.51 L416.76 417.71 L416.44 418.21 L416.21 418.55 L415.98 418.9 L415.65 419.4 L415.53 419.59 L415.09 420.24 L415.06 420.29 L414.62 420.98 L414.55 421.09 L414.19 421.67 L414.01 421.95 L413.75 422.36 L413.46 422.8 L413.31 423.05 L412.92 423.65 L412.86 423.74 L412.42 424.43 L412.38 424.51 L412 425.12 L411.85 425.37 L411.58 425.81 L411.32 426.23 L411.15 426.5 L410.78 427.08 L410.72 427.19 L410.3 427.88 L410.26 427.95 L409.9 428.56 L409.74 428.81 L409.49 429.25 L409.22 429.68 L409.07 429.93 L408.7 430.54 L408.65 430.62 L408.25 431.31 L408.19 431.41 L407.86 431.99 L407.68 432.29 L407.47 432.67 L407.18 433.16 L407.06 433.36 L406.67 434.03 L406.66 434.04 L406.28 434.72 L406.17 434.91 L405.9 435.4 L405.68 435.79 L405.52 436.09 L405.18 436.67 L405.13 436.77 L404.75 437.45 L404.69 437.55 L404.39 438.13 L404.22 438.44 L404.02 438.81 L403.73 439.32 L403.64 439.49 L403.27 440.17 L403.25 440.21 L402.92 440.85 L402.78 441.1 L402.57 441.52 L402.31 441.99 L402.21 442.2 L401.84 442.88 L401.84 442.88 L401.51 443.55 L401.39 443.79 L401.17 444.23 L400.93 444.68 L400.82 444.9 L400.47 445.58 L400.46 445.58 L400.14 446.25 L400.02 446.49 L399.82 446.93 L399.58 447.4 L399.48 447.6 L399.14 448.28 L399.13 448.3 L398.84 448.95 L398.7 449.21 L398.52 449.62 L398.27 450.13 L398.2 450.29 L397.88 450.96 L397.84 451.04 L397.58 451.63 L397.42 451.96 L397.27 452.3 L397 452.88 L396.96 452.97 L396.67 453.64 L396.59 453.81 L396.38 454.3 L396.18 454.73 L396.08 454.97 L395.78 455.64 L395.77 455.66 L395.51 456.3 L395.38 456.59 L395.23 456.97 L394.99 457.53 L394.94 457.64 L394.67 458.3 L394.6 458.47 L394.41 458.96 L394.22 459.41 L394.14 459.63 L393.86 460.29 L393.84 460.35 L393.62 460.95 L393.48 461.3 L393.36 461.61 L393.11 462.24 L393.09 462.28 L392.85 462.94 L392.75 463.2 L392.61 463.59 L392.4 464.15 L392.36 464.26 L392.13 464.91 L392.05 465.11 L391.9 465.57 L391.71 466.08 L391.66 466.23 L391.43 466.89 L392.8 466.67Z M283.77 441.77 L285.52 441.57 L287.24 441.36 L288.93 441.13 L290.6 440.89 L292.24 440.64 L293.85 440.37 L295.44 440.09 L297.01 439.79 L298.55 439.48 L300.07 439.16 L300.16 439.14 L301.57 438.83 L303.04 438.48 L304.5 438.12 L305.93 437.76 L307.34 437.38 L307.35 437.38 L308.74 436.99 L310.11 436.59 L311.47 436.18 L311.96 436.03 L312.81 435.76 L314.13 435.33 L315.44 434.89 L315.65 434.82 L316.73 434.45 L318 433.99 L318.78 433.7 L319.26 433.53 L320.5 433.05 L321.56 432.64 L321.73 432.58 L322.94 432.09 L324.07 431.62 L324.14 431.59 L325.32 431.09 L326.37 430.64 L326.51 430.58 L327.73 430.1 L328.94 429.61 L328.97 429.6 L330.14 429.12 L331.33 428.62 L331.36 428.6 L332.5 428.11 L333.6 427.63 L333.67 427.59 L334.82 427.07 L335.7 426.67 L335.97 426.55 L337.1 426.02 L337.7 425.73 L338.23 425.48 L339.34 424.94 L339.6 424.81 L340.44 424.39 L341.43 423.9 L341.54 423.84 L342.63 423.28 L343.17 423 L343.71 422.72 L344.78 422.16 L344.86 422.11 L345.84 421.59 L346.48 421.23 L346.89 421.01 L347.94 420.43 L348.07 420.36 L348.97 419.85 L349.59 419.5 L350 419.26 L351.03 418.67 L351.09 418.64 L352.04 418.07 L352.52 417.79 L353.05 417.48 L353.95 416.95 L354.06 416.88 L355.06 416.27 L355.32 416.11 L356.04 415.66 L356.67 415.27 L357.03 415.05 L358.01 414.44 L358.01 414.43 L358.98 413.81 L359.29 413.61 L359.95 413.19 L360.57 412.79 L360.91 412.57 L361.83 411.97 L361.87 411.94 L362.82 411.31 L363.05 411.15 L363.76 410.68 L364.26 410.34 L364.71 410.04 L365.46 409.53 L365.65 409.4 L366.58 408.76 L366.65 408.72 L367.51 408.12 L367.8 407.92 L368.43 407.47 L368.94 407.11 L369.35 406.83 L370.08 406.31 L370.27 406.18 L371.19 405.53 L371.21 405.51 L372.09 404.87 L372.31 404.72 L372.99 404.22 L373.4 403.92 L373.89 403.56 L374.48 403.13 L374.79 402.9 L375.56 402.34 L375.69 402.24 L376.59 401.58 L376.63 401.55 L377.47 400.91 L377.68 400.76 L378.36 400.25 L378.72 399.97 L379.24 399.58 L379.76 399.19 L380.12 398.91 L380.79 398.4 L381 398.24 L381.82 397.62 L381.88 397.57 L382.75 396.9 L382.83 396.84 L383.62 396.22 L383.83 396.06 L384.49 395.55 L384.83 395.28 L385.35 394.87 L385.82 394.5 L386.22 394.19 L386.82 393.72 L387.08 393.51 L387.81 392.94 L386.43 393.16 L384.8 393.42 L383.17 393.68 L381.53 393.94 L379.9 394.2 L378.27 394.46 L376.63 394.72 L375 394.98 L373.37 395.23 L371.73 395.49 L370.1 395.75 L369.81 395.8 L369.02 396.31 L368.54 396.62 L368.05 396.94 L367.27 397.44 L367.09 397.56 L366.12 398.18 L365.97 398.27 L365.13 398.79 L364.64 399.1 L364.15 399.4 L363.3 399.94 L363.17 400.02 L362.17 400.62 L361.93 400.78 L361.17 401.23 L360.53 401.62 L360.17 401.83 L359.17 402.43 L359.12 402.46 L358.15 403.03 L357.65 403.32 L357.13 403.62 L356.18 404.17 L356.11 404.21 L355.07 404.8 L354.64 405.04 L354.03 405.38 L353.09 405.9 L352.99 405.96 L351.94 406.53 L351.48 406.78 L350.88 407.1 L349.84 407.66 L349.82 407.68 L348.74 408.24 L348.13 408.55 L347.66 408.8 L346.57 409.35 L346.38 409.45 L345.47 409.9 L344.56 410.36 L344.37 410.45 L343.26 410.99 L342.65 411.29 L342.14 411.53 L341.01 412.07 L340.68 412.22 L339.87 412.59 L338.72 413.12 L338.61 413.17 L337.56 413.64 L336.43 414.14 L336.4 414.15 L335.21 414.66 L334.12 415.12 L334.03 415.16 L332.83 415.65 L331.65 416.14 L331.63 416.15 L330.4 416.63 L329.17 417.11 L328.98 417.18 L327.93 417.58 L326.67 418.04 L326.07 418.26 L325.41 418.5 L324.13 418.95 L322.87 419.39 L322.84 419.4 L321.53 419.84 L320.22 420.27 L319.19 420.6 L318.89 420.69 L317.54 421.11 L316.18 421.52 L314.86 421.91 L314.81 421.92 L313.42 422.31 L312.01 422.69 L310.6 423.07 L309.27 423.41 L309.16 423.44 L307.71 423.8 L306.24 424.15 L304.76 424.49 L303.26 424.82 L301.73 425.13 L300.2 425.45 L298.6 425.73 L298.6 425.73 L296.97 425.99 L295.33 426.25 L293.7 426.5 L292.07 426.76 L290.43 427.02 L288.8 427.28 L287.17 427.54 L285.53 427.8 L285.53 427.8 L283.81 428.01 L282.06 428.2 L280.28 428.39 L278.49 428.56 L276.67 428.72 L274.99 428.85 L274.83 428.87 L272.97 429 L271.08 429.12 L269.17 429.23 L268.48 429.26 L267.24 429.32 L265.28 429.41 L263.3 429.48 L263.21 429.48 L261.29 429.53 L259.26 429.58 L258.64 429.58 L257.2 429.6 L255.12 429.62 L254.5 429.62 L253.01 429.62 L250.88 429.61 L250.69 429.6 L248.72 429.58 L249.2 429.84 L250.08 430.32 L250.97 430.8 L251.85 431.28 L252.73 431.76 L253.62 432.24 L254.5 432.73 L255.38 433.21 L256.27 433.69 L257.15 434.17 L258.03 434.65 L258.92 435.13 L259.8 435.61 L260.68 436.09 L261.57 436.57 L262.45 437.05 L263.33 437.53 L264.22 438.01 L265.1 438.5 L265.98 438.98 L266.87 439.46 L267.75 439.94 L268.63 440.42 L269.52 440.9 L270.4 441.38 L271.28 441.86 L272.17 442.34 L272.62 442.59 L274.56 442.49 L275.43 442.45 L276.46 442.38 L278.33 442.25 L280.18 442.11 L281.99 441.95 L283.34 441.81 L283.77 441.77Z" fill="#1f6ad4" stroke="#1f6ad4" stroke-width="0.4" fill-rule="evenodd"/><path d="M384.63 467.97 L386.27 467.71 L387.9 467.45 L389.53 467.19 L391.17 466.93 L391.43 466.89 L391.66 466.23 L391.71 466.08 L391.9 465.57 L392.05 465.11 L392.13 464.91 L392.36 464.26 L392.4 464.15 L392.61 463.59 L392.75 463.2 L392.85 462.94 L393.09 462.28 L393.11 462.24 L393.36 461.61 L393.48 461.3 L393.62 460.95 L393.84 460.35 L393.86 460.29 L394.14 459.63 L394.22 459.41 L394.41 458.96 L394.6 458.47 L394.67 458.3 L394.94 457.64 L394.99 457.53 L395.23 456.97 L395.38 456.59 L395.51 456.3 L395.77 455.66 L395.78 455.64 L396.08 454.97 L396.18 454.73 L396.38 454.3 L396.59 453.81 L396.67 453.64 L396.96 452.97 L397 452.88 L397.27 452.3 L397.42 451.96 L397.58 451.63 L397.84 451.04 L397.88 450.96 L398.2 450.29 L398.27 450.13 L398.52 449.62 L398.7 449.21 L398.84 448.95 L399.13 448.3 L399.14 448.28 L399.48 447.6 L399.58 447.4 L399.82 446.93 L400.02 446.49 L400.14 446.25 L400.46 445.58 L400.47 445.58 L400.82 444.9 L400.93 444.68 L401.17 444.23 L401.39 443.79 L401.51 443.55 L401.84 442.88 L401.84 442.88 L402.21 442.2 L402.31 441.99 L402.57 441.52 L402.78 441.1 L402.92 440.85 L403.25 440.21 L403.27 440.17 L403.64 439.49 L403.73 439.32 L404.02 438.81 L404.22 438.44 L404.39 438.13 L404.69 437.55 L404.75 437.45 L405.13 436.77 L405.18 436.67 L405.52 436.09 L405.68 435.79 L405.9 435.4 L406.17 434.91 L406.28 434.72 L406.66 434.04 L406.67 434.03 L407.06 433.36 L407.18 433.16 L407.47 432.67 L407.68 432.29 L407.86 431.99 L408.19 431.41 L408.25 431.31 L408.65 430.62 L408.7 430.54 L409.07 429.93 L409.22 429.68 L409.49 429.25 L409.74 428.81 L409.9 428.56 L410.26 427.95 L410.3 427.88 L410.72 427.19 L410.78 427.08 L411.15 426.5 L411.32 426.23 L411.58 425.81 L411.85 425.37 L412 425.12 L412.38 424.51 L412.42 424.43 L412.86 423.74 L412.92 423.65 L413.31 423.05 L413.46 422.8 L413.75 422.36 L414.01 421.95 L414.19 421.67 L414.55 421.09 L414.62 420.98 L415.06 420.29 L415.09 420.24 L415.53 419.59 L415.65 419.4 L415.98 418.9 L416.21 418.55 L416.44 418.21 L416.76 417.71 L416.89 417.51 L417.31 416.86 L417.34 416.82 L417.81 416.13 L417.88 416.02 L418.29 415.43 L418.45 415.18 L418.76 414.73 L419.02 414.34 L419.23 414.04 L419.59 413.5 L419.7 413.34 L420.15 412.66 L420.16 412.65 L420.65 411.95 L420.73 411.83 L421.15 411.25 L421.32 411 L421.64 410.55 L421.9 410.17 L422.12 409.85 L422.48 409.34 L422.6 409.16 L423.05 408.5 L423.08 408.46 L423.59 407.76 L423.64 407.67 L424.1 407.06 L424.24 406.85 L424.6 406.36 L424.83 406.03 L425.11 405.65 L425.43 405.2 L425.61 404.95 L426.02 404.37 L426.11 404.25 L426.6 403.55 L426.61 403.55 L427.13 402.85 L427.22 402.73 L427.66 402.14 L427.83 401.91 L428.19 401.44 L428.44 401.1 L428.71 400.74 L429.04 400.28 L429.23 400.03 L429.65 399.46 L429.74 399.33 L430.25 398.64 L430.26 398.63 L430.8 397.92 L430.87 397.83 L431.35 397.21 L431.49 397.02 L431.89 396.51 L432.11 396.21 L432.43 395.8 L432.73 395.4 L432.97 395.09 L433.35 394.59 L433.51 394.39 L433.97 393.77 L434.04 393.68 L434.58 392.97 L434.59 392.96 L433.72 392.49 L432.83 392.01 L432.62 391.89 L432.47 392.07 L431.96 392.68 L431.89 392.78 L431.31 393.48 L431.3 393.49 L430.73 394.2 L430.67 394.28 L430.17 394.91 L430.04 395.08 L429.61 395.63 L429.4 395.88 L429.04 396.34 L428.77 396.68 L428.48 397.05 L428.13 397.48 L427.91 397.76 L427.49 398.29 L427.35 398.47 L426.85 399.09 L426.78 399.18 L426.21 399.89 L426.21 399.89 L425.67 400.6 L425.59 400.7 L425.13 401.3 L424.97 401.51 L424.59 402.01 L424.35 402.32 L424.04 402.72 L423.72 403.13 L423.5 403.43 L423.1 403.93 L422.95 404.13 L422.48 404.74 L422.4 404.84 L421.85 405.55 L421.85 405.55 L421.33 406.25 L421.24 406.37 L420.81 406.96 L420.63 407.18 L420.28 407.66 L420.02 408 L419.75 408.37 L419.41 408.82 L419.23 409.07 L418.8 409.63 L418.7 409.78 L418.19 410.45 L418.16 410.48 L417.65 411.18 L417.59 411.27 L417.15 411.89 L416.99 412.09 L416.64 412.59 L416.4 412.92 L416.13 413.29 L415.8 413.74 L415.62 413.99 L415.2 414.56 L415.1 414.69 L414.6 415.38 L414.59 415.4 L414.1 416.1 L414.01 416.21 L413.61 416.79 L413.43 417.04 L413.11 417.49 L412.84 417.87 L412.62 418.19 L412.26 418.7 L412.12 418.89 L411.67 419.53 L411.62 419.59 L411.14 420.29 L411.09 420.36 L410.67 420.99 L410.52 421.2 L410.19 421.68 L409.95 422.03 L409.71 422.38 L409.37 422.87 L409.23 423.08 L408.79 423.7 L408.75 423.77 L408.28 424.47 L408.23 424.54 L407.82 425.16 L407.67 425.39 L407.36 425.86 L407.11 426.23 L406.9 426.55 L406.54 427.07 L406.43 427.25 L405.98 427.91 L405.96 427.94 L405.51 428.64 L405.43 428.76 L405.07 429.33 L404.88 429.61 L404.62 430.02 L404.33 430.46 L404.17 430.71 L403.78 431.31 L403.72 431.4 L403.27 432.1 L403.23 432.16 L402.84 432.78 L402.7 433.02 L402.41 433.47 L402.16 433.87 L401.98 434.16 L401.62 434.73 L401.54 434.85 L401.1 435.54 L401.08 435.58 L400.69 436.23 L400.56 436.44 L400.27 436.92 L400.03 437.31 L399.85 437.61 L399.5 438.17 L399.43 438.3 L399 438.98 L398.98 439.03 L398.6 439.67 L398.46 439.9 L398.2 440.35 L397.95 440.77 L397.79 441.04 L397.43 441.63 L397.38 441.72 L396.98 442.41 L396.92 442.5 L396.59 443.09 L396.42 443.38 L396.2 443.77 L395.92 444.25 L395.8 444.46 L395.41 445.13 L395.4 445.14 L395.03 445.82 L394.92 446.01 L394.65 446.5 L394.43 446.89 L394.27 447.19 L393.94 447.77 L393.88 447.87 L393.51 448.55 L393.45 448.65 L393.14 449.23 L392.97 449.54 L392.78 449.91 L392.49 450.43 L392.41 450.59 L392.04 451.27 L392.01 451.31 L391.69 451.94 L391.55 452.21 L391.33 452.62 L391.08 453.1 L390.98 453.3 L390.61 453.98 L390.61 453.99 L390.28 454.65 L390.15 454.89 L389.94 455.33 L389.7 455.79 L389.59 456 L389.24 456.68 L389.24 456.69 L388.92 457.35 L388.8 457.6 L388.59 458.02 L388.35 458.51 L388.26 458.7 L387.93 459.37 L387.91 459.41 L387.61 460.04 L387.48 460.33 L387.3 460.71 L387.04 461.24 L386.97 461.38 L386.66 462.06 L386.61 462.15 L386.36 462.72 L386.19 463.07 L386.05 463.39 L385.77 463.99 L385.74 464.06 L385.44 464.73 L385.36 464.92 L385.15 465.4 L384.95 465.84 L384.86 466.07 L384.56 466.74 L384.54 466.77 L384.28 467.4 L384.15 467.7 L384 468.07 L384.63 467.97Z M290.67 451.26 L292.27 450.99 L293.86 450.7 L293.98 450.68 L295.41 450.4 L296.94 450.09 L298.45 449.76 L299.94 449.42 L301.4 449.07 L302.85 448.71 L303.43 448.56 L304.27 448.34 L305.68 447.95 L307.06 447.56 L308.43 447.15 L308.5 447.13 L309.78 446.74 L311.1 446.31 L312.37 445.9 L312.42 445.88 L313.71 445.44 L314.99 444.99 L315.6 444.77 L316.26 444.52 L317.5 444.05 L318.44 443.69 L318.74 443.58 L319.95 443.09 L321 442.67 L321.16 442.6 L322.35 442.1 L323.34 441.67 L323.53 441.59 L324.69 441.08 L325.5 440.71 L325.84 440.55 L326.98 440.03 L327.52 439.77 L328.1 439.49 L329.22 438.95 L329.43 438.84 L330.32 438.4 L331.24 437.94 L331.42 437.85 L332.49 437.29 L332.96 437.04 L333.57 436.72 L334.63 436.16 L334.63 436.16 L335.68 435.58 L336.2 435.29 L336.72 435 L337.74 434.42 L337.76 434.41 L338.78 433.82 L339.21 433.57 L339.79 433.22 L340.64 432.72 L340.8 432.62 L341.8 432.02 L342.03 431.88 L342.79 431.41 L343.37 431.04 L343.77 430.8 L344.7 430.21 L344.75 430.18 L345.71 429.56 L345.97 429.39 L346.67 428.93 L347.22 428.57 L347.63 428.3 L348.46 427.75 L348.58 427.67 L349.52 427.03 L349.65 426.94 L350.5 426.42 L351.01 426.11 L351.49 425.81 L352.36 425.27 L352.47 425.2 L353.44 424.58 L353.66 424.44 L354.41 423.96 L354.93 423.62 L355.37 423.33 L356.19 422.8 L356.33 422.71 L357.28 422.08 L357.42 421.98 L358.22 421.44 L358.62 421.17 L359.16 420.8 L359.81 420.36 L360.1 420.16 L360.99 419.55 L361.03 419.52 L361.96 418.88 L362.13 418.75 L362.87 418.23 L363.26 417.95 L363.79 417.58 L364.39 417.15 L364.7 416.93 L365.5 416.35 L365.61 416.27 L366.51 415.62 L366.59 415.56 L367.41 414.96 L367.66 414.77 L368.3 414.29 L368.72 413.98 L369.19 413.63 L369.78 413.19 L370.08 412.97 L370.83 412.4 L370.97 412.3 L371.85 411.63 L371.87 411.62 L372.72 410.96 L372.89 410.84 L373.6 410.29 L373.89 410.05 L374.46 409.61 L374.9 409.27 L375.33 408.94 L375.9 408.49 L376.2 408.26 L376.89 407.72 L377.06 407.58 L377.88 406.94 L377.93 406.9 L378.78 406.22 L378.85 406.16 L379.63 405.54 L379.81 405.39 L380.48 404.85 L380.77 404.62 L381.33 404.16 L381.73 403.84 L382.18 403.48 L382.68 403.07 L383.02 402.79 L383.62 402.3 L383.87 402.1 L384.57 401.53 L384.71 401.41 L385.51 400.76 L385.56 400.72 L386.39 400.03 L386.44 399.99 L387.23 399.33 L387.36 399.22 L388.06 398.64 L388.27 398.46 L388.89 397.94 L389.19 397.69 L389.72 397.25 L390.1 396.93 L390.55 396.55 L391.01 396.16 L391.38 395.85 L391.91 395.4 L392.2 395.15 L392.82 394.63 L393.03 394.45 L393.73 393.87 L393.86 393.76 L394.63 393.1 L394.68 393.06 L395.5 392.36 L395.52 392.34 L396.32 391.65 L396.41 391.58 L396.23 391.61 L394.6 391.87 L392.97 392.12 L391.33 392.38 L389.7 392.64 L388.07 392.9 L387.81 392.94 L387.08 393.51 L386.82 393.72 L386.22 394.19 L385.82 394.5 L385.35 394.87 L384.83 395.28 L384.49 395.55 L383.83 396.06 L383.62 396.22 L382.83 396.84 L382.75 396.9 L381.88 397.57 L381.82 397.62 L381 398.24 L380.79 398.4 L380.12 398.91 L379.76 399.19 L379.24 399.58 L378.72 399.97 L378.36 400.25 L377.68 400.76 L377.47 400.91 L376.63 401.55 L376.59 401.58 L375.69 402.24 L375.56 402.34 L374.79 402.9 L374.48 403.13 L373.89 403.56 L373.4 403.92 L372.99 404.22 L372.31 404.72 L372.09 404.87 L371.21 405.51 L371.19 405.53 L370.27 406.18 L370.08 406.31 L369.35 406.83 L368.94 407.11 L368.43 407.47 L367.8 407.92 L367.51 408.12 L366.65 408.72 L366.58 408.76 L365.65 409.4 L365.46 409.53 L364.71 410.04 L364.26 410.34 L363.76 410.68 L363.05 411.15 L362.82 411.31 L361.87 411.94 L361.83 411.97 L360.91 412.57 L360.57 412.79 L359.95 413.19 L359.29 413.61 L358.98 413.81 L358.01 414.43 L358.01 414.44 L357.03 415.05 L356.67 415.27 L356.04 415.66 L355.32 416.11 L355.06 416.27 L354.06 416.88 L353.95 416.95 L353.05 417.48 L352.52 417.79 L352.04 418.07 L351.09 418.64 L351.03 418.67 L350 419.26 L349.59 419.5 L348.97 419.85 L348.07 420.36 L347.94 420.43 L346.89 421.01 L346.48 421.23 L345.84 421.59 L344.86 422.11 L344.78 422.16 L343.71 422.72 L343.17 423 L342.63 423.28 L341.54 423.84 L341.43 423.9 L340.44 424.39 L339.6 424.81 L339.34 424.94 L338.23 425.48 L337.7 425.73 L337.1 426.02 L335.97 426.55 L335.7 426.67 L334.82 427.07 L333.67 427.59 L333.6 427.63 L332.5 428.11 L331.36 428.6 L331.33 428.62 L330.14 429.12 L328.97 429.6 L328.94 429.61 L327.73 430.1 L326.51 430.58 L326.37 430.64 L325.32 431.09 L324.14 431.59 L324.07 431.62 L322.94 432.09 L321.73 432.58 L321.56 432.64 L320.5 433.05 L319.26 433.53 L318.78 433.7 L318 433.99 L316.73 434.45 L315.65 434.82 L315.44 434.89 L314.13 435.33 L312.81 435.76 L311.96 436.03 L311.47 436.18 L310.11 436.59 L308.74 436.99 L307.35 437.38 L307.34 437.38 L305.93 437.76 L304.5 438.12 L303.04 438.48 L301.57 438.83 L300.16 439.14 L300.07 439.16 L298.55 439.48 L297.01 439.79 L295.44 440.09 L293.85 440.37 L292.24 440.64 L290.6 440.89 L288.93 441.13 L287.24 441.36 L285.52 441.57 L283.77 441.77 L283.34 441.81 L281.99 441.95 L280.18 442.11 L278.33 442.25 L276.46 442.38 L275.43 442.45 L274.56 442.49 L272.62 442.59 L273.05 442.82 L273.93 443.3 L274.82 443.78 L275.7 444.26 L276.58 444.75 L277.47 445.23 L278.35 445.71 L279.23 446.19 L280.12 446.67 L281 447.15 L281.88 447.63 L282.77 448.11 L283.65 448.59 L284.53 449.07 L285.42 449.55 L286.3 450.03 L287.18 450.52 L288.07 451 L288.95 451.48 L289.04 451.53 L290.67 451.26Z" fill="#2084d8" stroke="#2084d8" stroke-width="0.4" fill-rule="evenodd"/><path d="M379.73 468.74 L381.37 468.48 L383 468.23 L384 468.07 L384.15 467.7 L384.28 467.4 L384.54 466.77 L384.56 466.74 L384.86 466.07 L384.95 465.84 L385.15 465.4 L385.36 464.92 L385.44 464.73 L385.74 464.06 L385.77 463.99 L386.05 463.39 L386.19 463.07 L386.36 462.72 L386.61 462.15 L386.66 462.06 L386.97 461.38 L387.04 461.24 L387.3 460.71 L387.48 460.33 L387.61 460.04 L387.91 459.41 L387.93 459.37 L388.26 458.7 L388.35 458.51 L388.59 458.02 L388.8 457.6 L388.92 457.35 L389.24 456.69 L389.24 456.68 L389.59 456 L389.7 455.79 L389.94 455.33 L390.15 454.89 L390.28 454.65 L390.61 453.99 L390.61 453.98 L390.98 453.3 L391.08 453.1 L391.33 452.62 L391.55 452.21 L391.69 451.94 L392.01 451.31 L392.04 451.27 L392.41 450.59 L392.49 450.43 L392.78 449.91 L392.97 449.54 L393.14 449.23 L393.45 448.65 L393.51 448.55 L393.88 447.87 L393.94 447.77 L394.27 447.19 L394.43 446.89 L394.65 446.5 L394.92 446.01 L395.03 445.82 L395.4 445.14 L395.41 445.13 L395.8 444.46 L395.92 444.25 L396.2 443.77 L396.42 443.38 L396.59 443.09 L396.92 442.5 L396.98 442.41 L397.38 441.72 L397.43 441.63 L397.79 441.04 L397.95 440.77 L398.2 440.35 L398.46 439.9 L398.6 439.67 L398.98 439.03 L399 438.98 L399.43 438.3 L399.5 438.17 L399.85 437.61 L400.03 437.31 L400.27 436.92 L400.56 436.44 L400.69 436.23 L401.08 435.58 L401.1 435.54 L401.54 434.85 L401.62 434.73 L401.98 434.16 L402.16 433.87 L402.41 433.47 L402.7 433.02 L402.84 432.78 L403.23 432.16 L403.27 432.1 L403.72 431.4 L403.78 431.31 L404.17 430.71 L404.33 430.46 L404.62 430.02 L404.88 429.61 L405.07 429.33 L405.43 428.76 L405.51 428.64 L405.96 427.94 L405.98 427.91 L406.43 427.25 L406.54 427.07 L406.9 426.55 L407.11 426.23 L407.36 425.86 L407.67 425.39 L407.82 425.16 L408.23 424.54 L408.28 424.47 L408.75 423.77 L408.79 423.7 L409.23 423.08 L409.37 422.87 L409.71 422.38 L409.95 422.03 L410.19 421.68 L410.52 421.2 L410.67 420.99 L411.09 420.36 L411.14 420.29 L411.62 419.59 L411.67 419.53 L412.12 418.89 L412.26 418.7 L412.62 418.19 L412.84 417.87 L413.11 417.49 L413.43 417.04 L413.61 416.79 L414.01 416.21 L414.1 416.1 L414.59 415.4 L414.6 415.38 L415.1 414.69 L415.2 414.56 L415.62 413.99 L415.8 413.74 L416.13 413.29 L416.4 412.92 L416.64 412.59 L416.99 412.09 L417.15 411.89 L417.59 411.27 L417.65 411.18 L418.16 410.48 L418.19 410.45 L418.7 409.78 L418.8 409.63 L419.23 409.07 L419.41 408.82 L419.75 408.37 L420.02 408 L420.28 407.66 L420.63 407.18 L420.81 406.96 L421.24 406.37 L421.33 406.25 L421.85 405.55 L421.85 405.55 L422.4 404.84 L422.48 404.74 L422.95 404.13 L423.1 403.93 L423.5 403.43 L423.72 403.13 L424.04 402.72 L424.35 402.32 L424.59 402.01 L424.97 401.51 L425.13 401.3 L425.59 400.7 L425.67 400.6 L426.21 399.89 L426.21 399.89 L426.78 399.18 L426.85 399.09 L427.35 398.47 L427.49 398.29 L427.91 397.76 L428.13 397.48 L428.48 397.05 L428.77 396.68 L429.04 396.34 L429.4 395.88 L429.61 395.63 L430.04 395.08 L430.17 394.91 L430.67 394.28 L430.73 394.2 L431.3 393.49 L431.31 393.48 L431.89 392.78 L431.96 392.68 L432.47 392.07 L432.62 391.89 L431.95 391.53 L431.17 391.1 L430.64 391.74 L430.51 391.89 L430.05 392.45 L429.85 392.68 L429.46 393.17 L429.2 393.47 L428.86 393.88 L428.54 394.26 L428.27 394.6 L427.88 395.06 L427.67 395.31 L427.23 395.85 L427.08 396.03 L426.57 396.64 L426.49 396.74 L425.92 397.43 L425.9 397.46 L425.32 398.17 L425.27 398.23 L424.75 398.88 L424.63 399.02 L424.18 399.59 L423.99 399.82 L423.6 400.3 L423.34 400.62 L423.03 401.02 L422.7 401.42 L422.46 401.73 L422.06 402.22 L421.89 402.44 L421.42 403.02 L421.31 403.15 L420.78 403.82 L420.74 403.86 L420.18 404.57 L420.14 404.62 L419.63 405.28 L419.51 405.43 L419.07 405.99 L418.88 406.23 L418.52 406.7 L418.25 407.04 L417.97 407.41 L417.63 407.84 L417.41 408.12 L417 408.65 L416.86 408.83 L416.37 409.45 L416.3 409.53 L415.75 410.24 L415.74 410.26 L415.22 410.95 L415.12 411.07 L414.69 411.65 L414.51 411.89 L414.15 412.36 L413.89 412.7 L413.62 413.07 L413.28 413.51 L413.08 413.77 L412.66 414.33 L412.54 414.48 L412.04 415.14 L412.01 415.19 L411.48 415.89 L411.43 415.95 L410.97 416.59 L410.83 416.77 L410.45 417.3 L410.23 417.59 L409.93 418 L409.62 418.41 L409.41 418.7 L409.02 419.23 L408.89 419.41 L408.41 420.05 L408.37 420.11 L407.86 420.81 L407.81 420.87 L407.36 421.51 L407.22 421.7 L406.86 422.21 L406.63 422.53 L406.36 422.91 L406.04 423.35 L405.85 423.61 L405.44 424.18 L405.35 424.31 L404.85 425 L404.84 425.02 L404.36 425.71 L404.27 425.83 L403.87 426.41 L403.69 426.67 L403.38 427.11 L403.11 427.5 L402.9 427.81 L402.53 428.33 L402.41 428.51 L401.95 429.16 L401.92 429.21 L401.44 429.9 L401.37 430 L400.97 430.6 L400.81 430.84 L400.5 431.29 L400.24 431.68 L400.03 431.99 L399.67 432.52 L399.55 432.69 L399.09 433.35 L399.07 433.38 L398.62 434.08 L398.54 434.2 L398.16 434.77 L397.98 435.04 L397.7 435.46 L397.42 435.89 L397.24 436.16 L396.86 436.73 L396.78 436.85 L396.32 437.55 L396.3 437.57 L395.88 438.24 L395.76 438.43 L395.44 438.93 L395.21 439.28 L395 439.62 L394.67 440.13 L394.55 440.31 L394.12 440.98 L394.1 441 L393.67 441.69 L393.58 441.83 L393.24 442.38 L393.05 442.69 L392.81 443.07 L392.51 443.55 L392.38 443.76 L391.97 444.4 L391.95 444.45 L391.53 445.14 L391.45 445.27 L391.11 445.82 L390.92 446.13 L390.69 446.51 L390.4 446.99 L390.27 447.2 L389.87 447.85 L389.85 447.89 L389.45 448.57 L389.36 448.72 L389.05 449.26 L388.85 449.59 L388.64 449.94 L388.33 450.46 L388.23 450.63 L387.83 451.31 L387.82 451.33 L387.44 452 L387.32 452.2 L387.05 452.68 L386.82 453.08 L386.66 453.36 L386.31 453.95 L386.26 454.05 L385.87 454.73 L385.82 454.83 L385.5 455.41 L385.33 455.71 L385.12 456.09 L384.83 456.59 L384.74 456.77 L384.35 457.45 L384.34 457.47 L383.99 458.13 L383.86 458.36 L383.62 458.81 L383.38 459.25 L383.26 459.49 L382.9 460.13 L382.88 460.17 L382.53 460.85 L382.43 461.03 L382.18 461.52 L381.97 461.92 L381.82 462.2 L381.49 462.81 L381.46 462.88 L381.11 463.56 L381.03 463.71 L380.77 464.23 L380.58 464.61 L380.43 464.91 L380.12 465.51 L380.08 465.58 L379.75 466.26 L379.67 466.41 L379.42 466.93 L379.22 467.32 L379.09 467.6 L378.78 468.22 L378.75 468.28 L378.43 468.95 L379.73 468.74Z M299.62 457.24 L300.99 456.88 L302.4 456.5 L303.8 456.11 L305.02 455.76 L305.17 455.71 L306.52 455.3 L307.86 454.88 L309.04 454.5 L309.18 454.45 L310.48 454.01 L311.77 453.56 L312.35 453.35 L313.03 453.11 L314.29 452.64 L315.24 452.27 L315.53 452.16 L316.75 451.68 L317.83 451.24 L317.96 451.19 L319.15 450.69 L320.19 450.25 L320.33 450.19 L321.49 449.67 L322.37 449.28 L322.65 449.15 L323.79 448.62 L324.4 448.34 L324.92 448.09 L326.03 447.55 L326.32 447.41 L327.14 447 L328.14 446.5 L328.24 446.45 L329.31 445.89 L329.85 445.61 L330.39 445.33 L331.45 444.76 L331.52 444.72 L332.5 444.18 L333.09 443.85 L333.54 443.6 L334.58 443.02 L334.63 442.99 L335.6 442.42 L336.09 442.13 L336.61 441.83 L337.52 441.29 L337.62 441.23 L338.62 440.62 L338.9 440.45 L339.61 440.01 L340.24 439.61 L340.59 439.4 L341.57 438.78 L341.57 438.78 L342.53 438.16 L342.83 437.96 L343.49 437.53 L344.07 437.14 L344.44 436.9 L345.3 436.33 L345.39 436.27 L346.32 435.63 L346.49 435.52 L347.25 434.99 L347.65 434.71 L348.18 434.34 L348.8 433.91 L349.1 433.7 L349.93 433.11 L350.02 433.05 L350.93 432.39 L351.04 432.31 L351.83 431.74 L352.12 431.52 L352.72 431.07 L353.19 430.73 L353.61 430.41 L354.25 429.94 L354.5 429.75 L355.29 429.15 L355.39 429.08 L356.27 428.41 L356.32 428.37 L357.14 427.74 L357.33 427.59 L358 427.06 L358.32 426.81 L358.87 426.38 L359.31 426.03 L359.73 425.7 L360.29 425.25 L360.6 425.03 L361.39 424.46 L361.5 424.37 L362.4 423.71 L362.46 423.67 L363.29 423.05 L363.52 422.88 L364.18 422.38 L364.56 422.09 L365.06 421.72 L365.6 421.31 L365.94 421.05 L366.63 420.52 L366.82 420.38 L367.65 419.74 L367.69 419.7 L368.56 419.03 L368.65 418.96 L369.42 418.35 L369.64 418.18 L370.29 417.67 L370.62 417.4 L371.14 416.99 L371.59 416.63 L372 416.31 L372.57 415.85 L372.85 415.62 L373.53 415.08 L373.71 414.94 L374.49 414.31 L374.56 414.25 L375.4 413.57 L375.44 413.54 L376.24 412.87 L376.37 412.77 L377.08 412.18 L377.3 412 L377.92 411.49 L378.23 411.23 L378.75 410.79 L379.15 410.46 L379.58 410.1 L380.06 409.7 L380.41 409.4 L380.98 408.93 L381.24 408.71 L381.89 408.17 L382.07 408.01 L382.79 407.4 L382.9 407.31 L383.7 406.64 L383.72 406.61 L384.54 405.91 L384.59 405.87 L385.36 405.21 L385.47 405.11 L386.18 404.5 L386.35 404.35 L386.99 403.8 L387.23 403.59 L387.81 403.09 L388.11 402.83 L388.62 402.39 L388.98 402.07 L389.43 401.68 L389.85 401.31 L390.24 400.98 L390.72 400.55 L391.05 400.27 L391.59 399.79 L391.86 399.56 L392.46 399.04 L392.67 398.85 L393.32 398.28 L393.48 398.14 L394.19 397.52 L394.28 397.43 L395.05 396.76 L395.09 396.72 L395.89 396.01 L395.91 396 L396.69 395.3 L396.75 395.25 L397.49 394.59 L397.6 394.49 L398.29 393.88 L398.45 393.74 L399.09 393.16 L399.29 392.98 L399.89 392.45 L400.13 392.23 L400.69 391.73 L400.98 391.47 L401.48 391.02 L401.82 390.72 L401.13 390.83 L399.5 391.09 L397.87 391.35 L396.41 391.58 L396.32 391.65 L395.52 392.34 L395.5 392.36 L394.68 393.06 L394.63 393.1 L393.86 393.76 L393.73 393.87 L393.03 394.45 L392.82 394.63 L392.2 395.15 L391.91 395.4 L391.38 395.85 L391.01 396.16 L390.55 396.55 L390.1 396.93 L389.72 397.25 L389.19 397.69 L388.89 397.94 L388.27 398.46 L388.06 398.64 L387.36 399.22 L387.23 399.33 L386.44 399.99 L386.39 400.03 L385.56 400.72 L385.51 400.76 L384.71 401.41 L384.57 401.53 L383.87 402.1 L383.62 402.3 L383.02 402.79 L382.68 403.07 L382.18 403.48 L381.73 403.84 L381.33 404.16 L380.77 404.62 L380.48 404.85 L379.81 405.39 L379.63 405.54 L378.85 406.16 L378.78 406.22 L377.93 406.9 L377.88 406.94 L377.06 407.58 L376.89 407.72 L376.2 408.26 L375.9 408.49 L375.33 408.94 L374.9 409.27 L374.46 409.61 L373.89 410.05 L373.6 410.29 L372.89 410.84 L372.72 410.96 L371.87 411.62 L371.85 411.63 L370.97 412.3 L370.83 412.4 L370.08 412.97 L369.78 413.19 L369.19 413.63 L368.72 413.98 L368.3 414.29 L367.66 414.77 L367.41 414.96 L366.59 415.56 L366.51 415.62 L365.61 416.27 L365.5 416.35 L364.7 416.93 L364.39 417.15 L363.79 417.58 L363.26 417.95 L362.87 418.23 L362.13 418.75 L361.96 418.88 L361.03 419.52 L360.99 419.55 L360.1 420.16 L359.81 420.36 L359.16 420.8 L358.62 421.17 L358.22 421.44 L357.42 421.98 L357.28 422.08 L356.33 422.71 L356.19 422.8 L355.37 423.33 L354.93 423.62 L354.41 423.96 L353.66 424.44 L353.44 424.58 L352.47 425.2 L352.36 425.27 L351.49 425.81 L351.01 426.11 L350.5 426.42 L349.65 426.94 L349.52 427.03 L348.58 427.67 L348.46 427.75 L347.63 428.3 L347.22 428.57 L346.67 428.93 L345.97 429.39 L345.71 429.56 L344.75 430.18 L344.7 430.21 L343.77 430.8 L343.37 431.04 L342.79 431.41 L342.03 431.88 L341.8 432.02 L340.8 432.62 L340.64 432.72 L339.79 433.22 L339.21 433.57 L338.78 433.82 L337.76 434.41 L337.74 434.42 L336.72 435 L336.2 435.29 L335.68 435.58 L334.63 436.16 L334.63 436.16 L333.57 436.72 L332.96 437.04 L332.49 437.29 L331.42 437.85 L331.24 437.94 L330.32 438.4 L329.43 438.84 L329.22 438.95 L328.1 439.49 L327.52 439.77 L326.98 440.03 L325.84 440.55 L325.5 440.71 L324.69 441.08 L323.53 441.59 L323.34 441.67 L322.35 442.1 L321.16 442.6 L321 442.67 L319.95 443.09 L318.74 443.58 L318.44 443.69 L317.5 444.05 L316.26 444.52 L315.6 444.77 L314.99 444.99 L313.71 445.44 L312.42 445.88 L312.37 445.9 L311.1 446.31 L309.78 446.74 L308.5 447.13 L308.43 447.15 L307.06 447.56 L305.68 447.95 L304.27 448.34 L303.43 448.56 L302.85 448.71 L301.4 449.07 L299.94 449.42 L298.45 449.76 L296.94 450.09 L295.41 450.4 L293.98 450.68 L293.86 450.7 L292.27 450.99 L290.67 451.26 L289.04 451.53 L289.83 451.96 L290.72 452.44 L291.6 452.92 L292.48 453.4 L293.37 453.88 L294.25 454.36 L295.13 454.84 L296.02 455.32 L296.9 455.81 L297.78 456.29 L298.67 456.77 L299.55 457.25 L299.56 457.25 L299.62 457.24Z" fill="#12a0cc" stroke="#12a0cc" stroke-width="0.4" fill-rule="evenodd"/><path d="M374.83 469.52 L376.47 469.26 L378.1 469 L378.43 468.95 L378.75 468.28 L378.78 468.22 L379.09 467.6 L379.22 467.32 L379.42 466.93 L379.67 466.41 L379.75 466.26 L380.08 465.58 L380.12 465.51 L380.43 464.91 L380.58 464.61 L380.77 464.23 L381.03 463.71 L381.11 463.56 L381.46 462.88 L381.49 462.81 L381.82 462.2 L381.97 461.92 L382.18 461.52 L382.43 461.03 L382.53 460.85 L382.88 460.17 L382.9 460.13 L383.26 459.49 L383.38 459.25 L383.62 458.81 L383.86 458.36 L383.99 458.13 L384.34 457.47 L384.35 457.45 L384.74 456.77 L384.83 456.59 L385.12 456.09 L385.33 455.71 L385.5 455.41 L385.82 454.83 L385.87 454.73 L386.26 454.05 L386.31 453.95 L386.66 453.36 L386.82 453.08 L387.05 452.68 L387.32 452.2 L387.44 452 L387.82 451.33 L387.83 451.31 L388.23 450.63 L388.33 450.46 L388.64 449.94 L388.85 449.59 L389.05 449.26 L389.36 448.72 L389.45 448.57 L389.85 447.89 L389.87 447.85 L390.27 447.2 L390.4 446.99 L390.69 446.51 L390.92 446.13 L391.11 445.82 L391.45 445.27 L391.53 445.14 L391.95 444.45 L391.97 444.4 L392.38 443.76 L392.51 443.55 L392.81 443.07 L393.05 442.69 L393.24 442.38 L393.58 441.83 L393.67 441.69 L394.1 441 L394.12 440.98 L394.55 440.31 L394.67 440.13 L395 439.62 L395.21 439.28 L395.44 438.93 L395.76 438.43 L395.88 438.24 L396.3 437.57 L396.32 437.55 L396.78 436.85 L396.86 436.73 L397.24 436.16 L397.42 435.89 L397.7 435.46 L397.98 435.04 L398.16 434.77 L398.54 434.2 L398.62 434.08 L399.07 433.38 L399.09 433.35 L399.55 432.69 L399.67 432.52 L400.03 431.99 L400.24 431.68 L400.5 431.29 L400.81 430.84 L400.97 430.6 L401.37 430 L401.44 429.9 L401.92 429.21 L401.95 429.16 L402.41 428.51 L402.53 428.33 L402.9 427.81 L403.11 427.5 L403.38 427.11 L403.69 426.67 L403.87 426.41 L404.27 425.83 L404.36 425.71 L404.84 425.02 L404.85 425 L405.35 424.31 L405.44 424.18 L405.85 423.61 L406.04 423.35 L406.36 422.91 L406.63 422.53 L406.86 422.21 L407.22 421.7 L407.36 421.51 L407.81 420.87 L407.86 420.81 L408.37 420.11 L408.41 420.05 L408.89 419.41 L409.02 419.23 L409.41 418.7 L409.62 418.41 L409.93 418 L410.23 417.59 L410.45 417.3 L410.83 416.77 L410.97 416.59 L411.43 415.95 L411.48 415.89 L412.01 415.19 L412.04 415.14 L412.54 414.48 L412.66 414.33 L413.08 413.77 L413.28 413.51 L413.62 413.07 L413.89 412.7 L414.15 412.36 L414.51 411.89 L414.69 411.65 L415.12 411.07 L415.22 410.95 L415.74 410.26 L415.75 410.24 L416.3 409.53 L416.37 409.45 L416.86 408.83 L417 408.65 L417.41 408.12 L417.63 407.84 L417.97 407.41 L418.25 407.04 L418.52 406.7 L418.88 406.23 L419.07 405.99 L419.51 405.43 L419.63 405.28 L420.14 404.62 L420.18 404.57 L420.74 403.86 L420.78 403.82 L421.31 403.15 L421.42 403.02 L421.89 402.44 L422.06 402.22 L422.46 401.73 L422.7 401.42 L423.03 401.02 L423.34 400.62 L423.6 400.3 L423.99 399.82 L424.18 399.59 L424.63 399.02 L424.75 398.88 L425.27 398.23 L425.32 398.17 L425.9 397.46 L425.92 397.43 L426.49 396.74 L426.57 396.64 L427.08 396.03 L427.23 395.85 L427.67 395.31 L427.88 395.06 L428.27 394.6 L428.54 394.26 L428.86 393.88 L429.2 393.47 L429.46 393.17 L429.85 392.68 L430.05 392.45 L430.51 391.89 L430.64 391.74 L431.17 391.1 L431.07 391.05 L430.18 390.57 L430.01 390.47 L429.89 390.61 L429.34 391.25 L429.27 391.33 L428.66 392.03 L428.64 392.05 L428.03 392.77 L427.99 392.82 L427.43 393.49 L427.33 393.61 L426.82 394.2 L426.66 394.39 L426.22 394.92 L426 395.18 L425.62 395.64 L425.34 395.97 L425.01 396.35 L424.68 396.75 L424.41 397.07 L424.01 397.54 L423.81 397.79 L423.35 398.33 L423.2 398.5 L422.69 399.12 L422.6 399.22 L422.03 399.91 L422 399.94 L421.42 400.65 L421.38 400.7 L420.83 401.36 L420.73 401.49 L420.25 402.08 L420.08 402.29 L419.67 402.79 L419.43 403.08 L419.08 403.5 L418.78 403.88 L418.5 404.22 L418.13 404.67 L417.92 404.93 L417.48 405.47 L417.34 405.64 L416.83 406.26 L416.76 406.36 L416.19 407.06 L416.18 407.07 L415.61 407.78 L415.55 407.86 L415.05 408.49 L414.91 408.66 L414.49 409.2 L414.28 409.47 L413.92 409.91 L413.64 410.27 L413.36 410.62 L413.01 411.07 L412.8 411.33 L412.37 411.87 L412.23 412.04 L411.74 412.67 L411.67 412.75 L411.11 413.46 L411.1 413.48 L410.57 414.17 L410.48 414.29 L410.02 414.88 L409.86 415.1 L409.48 415.59 L409.23 415.91 L408.93 416.29 L408.61 416.71 L408.39 417 L407.99 417.52 L407.84 417.71 L407.36 418.33 L407.3 418.42 L406.76 419.12 L406.74 419.14 L406.23 419.83 L406.13 419.96 L405.7 420.53 L405.52 420.77 L405.17 421.24 L404.91 421.59 L404.64 421.94 L404.3 422.4 L404.11 422.65 L403.68 423.22 L403.59 423.35 L403.07 424.04 L403.06 424.06 L402.54 424.76 L402.47 424.86 L402.03 425.46 L401.87 425.68 L401.52 426.16 L401.27 426.5 L401.01 426.87 L400.67 427.32 L400.49 427.57 L400.07 428.14 L399.98 428.27 L399.47 428.96 L399.47 428.97 L398.97 429.67 L398.88 429.79 L398.47 430.37 L398.3 430.62 L397.97 431.07 L397.71 431.45 L397.48 431.77 L397.12 432.28 L396.98 432.47 L396.53 433.1 L396.48 433.17 L395.99 433.87 L395.95 433.93 L395.51 434.57 L395.37 434.77 L395.03 435.27 L394.79 435.6 L394.54 435.96 L394.21 436.44 L394.06 436.66 L393.64 437.27 L393.57 437.36 L393.1 438.06 L393.06 438.11 L392.63 438.75 L392.5 438.95 L392.16 439.45 L391.93 439.79 L391.69 440.14 L391.36 440.63 L391.22 440.84 L390.8 441.47 L390.75 441.53 L390.29 442.23 L390.24 442.31 L389.84 442.92 L389.68 443.16 L389.38 443.61 L389.13 444 L388.92 444.31 L388.57 444.85 L388.47 445 L388.01 445.69 L388.01 445.7 L387.57 446.39 L387.47 446.54 L387.13 447.08 L386.92 447.4 L386.69 447.77 L386.38 448.25 L386.24 448.46 L385.83 449.1 L385.8 449.15 L385.37 449.84 L385.3 449.95 L384.94 450.53 L384.76 450.81 L384.51 451.22 L384.23 451.67 L384.08 451.91 L383.69 452.53 L383.65 452.6 L383.23 453.29 L383.16 453.39 L382.81 453.97 L382.64 454.25 L382.4 454.66 L382.12 455.11 L381.98 455.35 L381.59 455.98 L381.56 456.03 L381.15 456.72 L381.08 456.84 L380.75 457.4 L380.57 457.71 L380.34 458.09 L380.05 458.58 L379.94 458.77 L379.54 459.45 L379.53 459.46 L379.14 460.14 L379.04 460.33 L378.75 460.83 L378.53 461.2 L378.36 461.51 L378.03 462.08 L377.96 462.19 L377.58 462.88 L377.53 462.95 L377.2 463.56 L377.04 463.83 L376.82 464.24 L376.55 464.71 L376.44 464.92 L376.06 465.59 L376.05 465.6 L375.69 466.28 L375.58 466.48 L375.32 466.96 L375.1 467.37 L374.95 467.64 L374.61 468.25 L374.58 468.32 L374.22 469 L374.14 469.14 L373.86 469.67 L374.83 469.52Z M308.59 461.02 L309.8 460.59 L309.87 460.57 L311.12 460.1 L312.36 459.63 L312.63 459.52 L313.58 459.14 L314.79 458.65 L315.17 458.49 L315.98 458.16 L317.17 457.65 L317.5 457.5 L318.33 457.14 L319.49 456.62 L319.65 456.54 L320.63 456.09 L321.67 455.6 L321.76 455.56 L322.87 455.02 L323.55 454.68 L323.98 454.47 L325.07 453.92 L325.34 453.78 L326.15 453.36 L327.05 452.88 L327.23 452.79 L328.29 452.22 L328.68 452 L329.34 451.64 L330.25 451.13 L330.38 451.06 L331.41 450.48 L331.76 450.27 L332.43 449.88 L333.22 449.42 L333.44 449.29 L334.45 448.69 L334.63 448.58 L335.44 448.08 L335.99 447.74 L336.43 447.47 L337.33 446.91 L337.41 446.85 L338.38 446.23 L338.61 446.08 L339.34 445.61 L339.87 445.26 L340.3 444.98 L341.11 444.44 L341.25 444.35 L342.19 443.72 L342.32 443.63 L343.13 443.08 L343.49 442.82 L344.05 442.43 L344.64 442.02 L344.98 441.79 L345.79 441.22 L345.9 441.14 L346.81 440.49 L346.9 440.42 L347.71 439.83 L347.99 439.63 L348.61 439.17 L349.06 438.83 L349.5 438.51 L350.12 438.05 L350.39 437.84 L351.17 437.26 L351.28 437.18 L352.16 436.51 L352.2 436.47 L353.03 435.83 L353.21 435.69 L353.9 435.16 L354.21 434.91 L354.76 434.48 L355.19 434.14 L355.62 433.8 L356.17 433.36 L356.48 433.12 L357.14 432.58 L357.33 432.43 L358.1 431.81 L358.18 431.75 L359.02 431.06 L359.05 431.04 L359.86 430.37 L359.98 430.27 L360.7 429.67 L360.9 429.5 L361.53 428.98 L361.82 428.74 L362.36 428.28 L362.72 427.97 L363.18 427.58 L363.62 427.21 L364.01 426.88 L364.52 426.45 L364.83 426.18 L365.41 425.68 L365.65 425.48 L366.29 424.92 L366.46 424.78 L367.17 424.16 L367.28 424.07 L368.13 423.39 L368.13 423.39 L368.98 422.7 L369.07 422.62 L369.82 422.01 L370.01 421.85 L370.66 421.32 L370.94 421.08 L371.49 420.62 L371.86 420.31 L372.33 419.93 L372.78 419.55 L373.16 419.23 L373.7 418.78 L373.99 418.54 L374.61 418.01 L374.81 417.84 L375.51 417.25 L375.64 417.14 L376.41 416.49 L376.46 416.44 L377.29 415.74 L377.3 415.72 L378.1 415.04 L378.19 414.96 L378.92 414.33 L379.06 414.2 L379.73 413.62 L379.94 413.44 L380.54 412.92 L380.81 412.68 L381.35 412.21 L381.67 411.92 L382.16 411.5 L382.54 411.17 L382.96 410.79 L383.4 410.41 L383.77 410.08 L384.26 409.65 L384.57 409.37 L385.11 408.9 L385.38 408.66 L385.96 408.14 L386.18 407.95 L386.82 407.38 L386.98 407.24 L387.66 406.63 L387.78 406.52 L388.51 405.87 L388.58 405.81 L389.35 405.12 L389.38 405.1 L390.17 404.38 L390.19 404.36 L390.96 403.66 L391.02 403.61 L391.76 402.95 L391.85 402.86 L392.55 402.23 L392.68 402.11 L393.34 401.51 L393.51 401.35 L394.13 400.79 L394.34 400.6 L394.92 400.07 L395.16 399.85 L395.7 399.36 L395.98 399.1 L396.49 398.64 L396.81 398.35 L397.28 397.92 L397.63 397.59 L398.06 397.2 L398.45 396.84 L398.85 396.48 L399.27 396.09 L399.64 395.75 L400.09 395.34 L400.42 395.03 L400.9 394.59 L401.21 394.31 L401.72 393.84 L401.99 393.59 L402.54 393.09 L402.77 392.87 L403.35 392.34 L403.56 392.15 L404.17 391.59 L404.34 391.43 L404.98 390.84 L405.13 390.71 L405.79 390.09 L404.4 390.31 L402.77 390.57 L401.82 390.72 L401.48 391.02 L400.98 391.47 L400.69 391.73 L400.13 392.23 L399.89 392.45 L399.29 392.98 L399.09 393.16 L398.45 393.74 L398.29 393.88 L397.6 394.49 L397.49 394.59 L396.75 395.25 L396.69 395.3 L395.91 396 L395.89 396.01 L395.09 396.72 L395.05 396.76 L394.28 397.43 L394.19 397.52 L393.48 398.14 L393.32 398.28 L392.67 398.85 L392.46 399.04 L391.86 399.56 L391.59 399.79 L391.05 400.27 L390.72 400.55 L390.24 400.98 L389.85 401.31 L389.43 401.68 L388.98 402.07 L388.62 402.39 L388.11 402.83 L387.81 403.09 L387.23 403.59 L386.99 403.8 L386.35 404.35 L386.18 404.5 L385.47 405.11 L385.36 405.21 L384.59 405.87 L384.54 405.91 L383.72 406.61 L383.7 406.64 L382.9 407.31 L382.79 407.4 L382.07 408.01 L381.89 408.17 L381.24 408.71 L380.98 408.93 L380.41 409.4 L380.06 409.7 L379.58 410.1 L379.15 410.46 L378.75 410.79 L378.23 411.23 L377.92 411.49 L377.3 412 L377.08 412.18 L376.37 412.77 L376.24 412.87 L375.44 413.54 L375.4 413.57 L374.56 414.25 L374.49 414.31 L373.71 414.94 L373.53 415.08 L372.85 415.62 L372.57 415.85 L372 416.31 L371.59 416.63 L371.14 416.99 L370.62 417.4 L370.29 417.67 L369.64 418.18 L369.42 418.35 L368.65 418.96 L368.56 419.03 L367.69 419.7 L367.65 419.74 L366.82 420.38 L366.63 420.52 L365.94 421.05 L365.6 421.31 L365.06 421.72 L364.56 422.09 L364.18 422.38 L363.52 422.88 L363.29 423.05 L362.46 423.67 L362.4 423.71 L361.5 424.37 L361.39 424.46 L360.6 425.03 L360.29 425.25 L359.73 425.7 L359.31 426.03 L358.87 426.38 L358.32 426.81 L358 427.06 L357.33 427.59 L357.14 427.74 L356.32 428.37 L356.27 428.41 L355.39 429.08 L355.29 429.15 L354.5 429.75 L354.25 429.94 L353.61 430.41 L353.19 430.73 L352.72 431.07 L352.12 431.52 L351.83 431.74 L351.04 432.31 L350.93 432.39 L350.02 433.05 L349.93 433.11 L349.1 433.7 L348.8 433.91 L348.18 434.34 L347.65 434.71 L347.25 434.99 L346.49 435.52 L346.32 435.63 L345.39 436.27 L345.3 436.33 L344.44 436.9 L344.07 437.14 L343.49 437.53 L342.83 437.96 L342.53 438.16 L341.57 438.78 L341.57 438.78 L340.59 439.4 L340.24 439.61 L339.61 440.01 L338.9 440.45 L338.62 440.62 L337.62 441.23 L337.52 441.29 L336.61 441.83 L336.09 442.13 L335.6 442.42 L334.63 442.99 L334.58 443.02 L333.54 443.6 L333.09 443.85 L332.5 444.18 L331.52 444.72 L331.45 444.76 L330.39 445.33 L329.85 445.61 L329.31 445.89 L328.24 446.45 L328.14 446.5 L327.14 447 L326.32 447.41 L326.03 447.55 L324.92 448.09 L324.4 448.34 L323.79 448.62 L322.65 449.15 L322.37 449.28 L321.49 449.67 L320.33 450.19 L320.19 450.25 L319.15 450.69 L317.96 451.19 L317.83 451.24 L316.75 451.68 L315.53 452.16 L315.24 452.27 L314.29 452.64 L313.03 453.11 L312.35 453.35 L311.77 453.56 L310.48 454.01 L309.18 454.45 L309.04 454.5 L307.86 454.88 L306.52 455.3 L305.17 455.71 L305.02 455.76 L303.8 456.11 L302.4 456.5 L300.99 456.88 L299.62 457.24 L299.56 457.25 L300.43 457.73 L301.32 458.21 L302.2 458.69 L303.08 459.17 L303.97 459.65 L304.85 460.13 L305.73 460.61 L306.62 461.09 L307.3 461.47 L308.59 461.02Z" fill="#20b0b0" stroke="#20b0b0" stroke-width="0.4" fill-rule="evenodd"/><path d="M369.93 470.3 L371.57 470.04 L373.2 469.78 L373.86 469.67 L374.14 469.14 L374.22 469 L374.58 468.32 L374.61 468.25 L374.95 467.64 L375.1 467.37 L375.32 466.96 L375.58 466.48 L375.69 466.28 L376.05 465.6 L376.06 465.59 L376.44 464.92 L376.55 464.71 L376.82 464.24 L377.04 463.83 L377.2 463.56 L377.53 462.95 L377.58 462.88 L377.96 462.19 L378.03 462.08 L378.36 461.51 L378.53 461.2 L378.75 460.83 L379.04 460.33 L379.14 460.14 L379.53 459.46 L379.54 459.45 L379.94 458.77 L380.05 458.58 L380.34 458.09 L380.57 457.71 L380.75 457.4 L381.08 456.84 L381.15 456.72 L381.56 456.03 L381.59 455.98 L381.98 455.35 L382.12 455.11 L382.4 454.66 L382.64 454.25 L382.81 453.97 L383.16 453.39 L383.23 453.29 L383.65 452.6 L383.69 452.53 L384.08 451.91 L384.23 451.67 L384.51 451.22 L384.76 450.81 L384.94 450.53 L385.3 449.95 L385.37 449.84 L385.8 449.15 L385.83 449.1 L386.24 448.46 L386.38 448.25 L386.69 447.77 L386.92 447.4 L387.13 447.08 L387.47 446.54 L387.57 446.39 L388.01 445.7 L388.01 445.69 L388.47 445 L388.57 444.85 L388.92 444.31 L389.13 444 L389.38 443.61 L389.68 443.16 L389.84 442.92 L390.24 442.31 L390.29 442.23 L390.75 441.53 L390.8 441.47 L391.22 440.84 L391.36 440.63 L391.69 440.14 L391.93 439.79 L392.16 439.45 L392.5 438.95 L392.63 438.75 L393.06 438.11 L393.1 438.06 L393.57 437.36 L393.64 437.27 L394.06 436.66 L394.21 436.44 L394.54 435.96 L394.79 435.6 L395.03 435.27 L395.37 434.77 L395.51 434.57 L395.95 433.93 L395.99 433.87 L396.48 433.17 L396.53 433.1 L396.98 432.47 L397.12 432.28 L397.48 431.77 L397.71 431.45 L397.97 431.07 L398.3 430.62 L398.47 430.37 L398.88 429.79 L398.97 429.67 L399.47 428.97 L399.47 428.96 L399.98 428.27 L400.07 428.14 L400.49 427.57 L400.67 427.32 L401.01 426.87 L401.27 426.5 L401.52 426.16 L401.87 425.68 L402.03 425.46 L402.47 424.86 L402.54 424.76 L403.06 424.06 L403.07 424.04 L403.59 423.35 L403.68 423.22 L404.11 422.65 L404.3 422.4 L404.64 421.94 L404.91 421.59 L405.17 421.24 L405.52 420.77 L405.7 420.53 L406.13 419.96 L406.23 419.83 L406.74 419.14 L406.76 419.12 L407.3 418.42 L407.36 418.33 L407.84 417.71 L407.99 417.52 L408.39 417 L408.61 416.71 L408.93 416.29 L409.23 415.91 L409.48 415.59 L409.86 415.1 L410.02 414.88 L410.48 414.29 L410.57 414.17 L411.1 413.48 L411.11 413.46 L411.67 412.75 L411.74 412.67 L412.23 412.04 L412.37 411.87 L412.8 411.33 L413.01 411.07 L413.36 410.62 L413.64 410.27 L413.92 409.91 L414.28 409.47 L414.49 409.2 L414.91 408.66 L415.05 408.49 L415.55 407.86 L415.61 407.78 L416.18 407.07 L416.19 407.06 L416.76 406.36 L416.83 406.26 L417.34 405.64 L417.48 405.47 L417.92 404.93 L418.13 404.67 L418.5 404.22 L418.78 403.88 L419.08 403.5 L419.43 403.08 L419.67 402.79 L420.08 402.29 L420.25 402.08 L420.73 401.49 L420.83 401.36 L421.38 400.7 L421.42 400.65 L422 399.94 L422.03 399.91 L422.6 399.22 L422.69 399.12 L423.2 398.5 L423.35 398.33 L423.81 397.79 L424.01 397.54 L424.41 397.07 L424.68 396.75 L425.01 396.35 L425.34 395.97 L425.62 395.64 L426 395.18 L426.22 394.92 L426.66 394.39 L426.82 394.2 L427.33 393.61 L427.43 393.49 L427.99 392.82 L428.03 392.77 L428.64 392.05 L428.66 392.03 L429.27 391.33 L429.34 391.25 L429.89 390.61 L430.01 390.47 L429.3 390.08 L429 389.92 L428.78 390.17 L428.32 390.7 L428.15 390.89 L427.64 391.48 L427.52 391.61 L426.96 392.25 L426.89 392.33 L426.28 393.03 L426.26 393.05 L425.64 393.77 L425.6 393.81 L425.02 394.49 L424.93 394.59 L424.4 395.21 L424.26 395.38 L423.78 395.93 L423.58 396.16 L423.16 396.65 L422.91 396.94 L422.55 397.37 L422.24 397.73 L421.93 398.09 L421.57 398.51 L421.32 398.8 L420.9 399.29 L420.71 399.52 L420.24 400.08 L420.1 400.24 L419.57 400.86 L419.49 400.96 L418.9 401.65 L418.89 401.67 L418.29 402.39 L418.24 402.44 L417.69 403.11 L417.59 403.23 L417.09 403.82 L416.93 404.02 L416.5 404.54 L416.27 404.81 L415.9 405.25 L415.61 405.6 L415.31 405.97 L414.96 406.39 L414.72 406.68 L414.3 407.18 L414.13 407.4 L413.65 407.98 L413.54 408.11 L413 408.77 L412.95 408.83 L412.37 409.54 L412.35 409.56 L411.79 410.25 L411.7 410.36 L411.21 410.96 L411.06 411.16 L410.64 411.68 L410.41 411.96 L410.06 412.39 L409.77 412.75 L409.49 413.1 L409.13 413.55 L408.92 413.81 L408.49 414.35 L408.35 414.52 L407.85 415.15 L407.78 415.23 L407.21 415.95 L407.21 415.95 L406.65 416.66 L406.57 416.76 L406.09 417.36 L405.94 417.56 L405.54 418.07 L405.31 418.36 L404.98 418.78 L404.68 419.17 L404.42 419.49 L404.05 419.97 L403.87 420.2 L403.42 420.78 L403.32 420.91 L402.79 421.59 L402.77 421.62 L402.22 422.33 L402.17 422.4 L401.68 423.03 L401.55 423.21 L401.14 423.74 L400.93 424.02 L400.6 424.45 L400.31 424.83 L400.06 425.15 L399.69 425.64 L399.52 425.86 L399.07 426.45 L398.99 426.57 L398.46 427.26 L398.45 427.27 L397.93 427.98 L397.85 428.08 L397.4 428.68 L397.24 428.9 L396.88 429.38 L396.63 429.71 L396.35 430.09 L396.02 430.53 L395.83 430.79 L395.42 431.35 L395.31 431.5 L394.81 432.17 L394.79 432.2 L394.28 432.9 L394.21 432.99 L393.77 433.6 L393.61 433.81 L393.26 434.31 L393.02 434.64 L392.75 435.01 L392.42 435.46 L392.24 435.71 L391.82 436.28 L391.73 436.41 L391.23 437.11 L391.23 437.11 L390.73 437.81 L390.64 437.94 L390.24 438.51 L390.06 438.77 L389.74 439.21 L389.47 439.6 L389.25 439.91 L388.88 440.43 L388.75 440.61 L388.3 441.26 L388.26 441.31 L387.78 442.01 L387.72 442.09 L387.3 442.7 L387.14 442.92 L386.81 443.4 L386.57 443.76 L386.33 444.1 L385.99 444.59 L385.85 444.8 L385.42 445.43 L385.38 445.49 L384.9 446.19 L384.85 446.27 L384.43 446.88 L384.28 447.11 L383.97 447.58 L383.72 447.95 L383.5 448.27 L383.16 448.79 L383.03 448.97 L382.59 449.63 L382.57 449.66 L382.11 450.36 L382.03 450.48 L381.66 451.05 L381.48 451.32 L381.2 451.74 L380.92 452.17 L380.75 452.44 L380.37 453.01 L380.3 453.13 L379.85 453.82 L379.82 453.86 L379.4 454.51 L379.28 454.71 L378.96 455.2 L378.73 455.57 L378.52 455.9 L378.19 456.42 L378.08 456.59 L377.64 457.27 L377.64 457.28 L377.21 457.97 L377.11 458.13 L376.78 458.66 L376.57 458.99 L376.35 459.34 L376.04 459.84 L375.92 460.03 L375.51 460.7 L375.5 460.72 L375.08 461.41 L374.98 461.56 L374.66 462.1 L374.46 462.43 L374.24 462.78 L373.93 463.29 L373.82 463.47 L373.41 464.15 L373.41 464.16 L373 464.84 L372.9 465.02 L372.6 465.53 L372.38 465.89 L372.19 466.21 L371.87 466.76 L371.79 466.9 L371.39 467.58 L371.36 467.63 L370.99 468.27 L370.86 468.5 L370.6 468.95 L370.35 469.38 L370.2 469.63 L369.85 470.25 L369.81 470.32 L369.93 470.3Z M314.81 464.4 L315.7 464 L315.96 463.88 L317.1 463.36 L317.74 463.06 L318.23 462.82 L319.35 462.28 L319.66 462.13 L320.45 461.74 L321.48 461.22 L321.55 461.18 L322.63 460.62 L323.19 460.33 L323.7 460.06 L324.76 459.49 L324.84 459.44 L325.81 458.91 L326.41 458.57 L326.85 458.33 L327.88 457.74 L327.94 457.71 L328.9 457.15 L329.39 456.86 L329.91 456.55 L330.81 456.01 L330.92 455.95 L331.91 455.34 L332.18 455.18 L332.89 454.73 L333.5 454.34 L333.87 454.11 L334.81 453.52 L334.84 453.49 L335.8 452.87 L336.06 452.7 L336.76 452.24 L337.29 451.88 L337.7 451.61 L338.5 451.07 L338.64 450.97 L339.58 450.33 L339.68 450.26 L340.5 449.68 L340.82 449.46 L341.42 449.04 L341.95 448.66 L342.33 448.39 L343.06 447.86 L343.24 447.73 L344.15 447.07 L344.16 447.06 L345.04 446.41 L345.22 446.27 L345.93 445.75 L346.27 445.49 L346.81 445.08 L347.31 444.7 L347.69 444.41 L348.34 443.92 L348.57 443.74 L349.35 443.14 L349.44 443.07 L350.3 442.39 L350.35 442.36 L351.16 441.71 L351.32 441.58 L352.02 441.03 L352.29 440.81 L352.87 440.34 L353.25 440.03 L353.72 439.65 L354.19 439.26 L354.56 438.97 L355.13 438.49 L355.4 438.27 L356.06 437.72 L356.24 437.58 L356.99 436.96 L357.07 436.89 L357.9 436.19 L357.9 436.19 L358.72 435.49 L358.8 435.43 L359.55 434.79 L359.69 434.66 L360.36 434.09 L360.57 433.9 L361.18 433.38 L361.45 433.14 L361.99 432.68 L362.32 432.38 L362.8 431.97 L363.19 431.62 L363.61 431.26 L364.05 430.87 L364.41 430.55 L364.9 430.11 L365.21 429.84 L365.75 429.36 L366.01 429.12 L366.59 428.6 L366.81 428.41 L367.43 427.85 L367.6 427.69 L368.27 427.09 L368.4 426.98 L369.1 426.34 L369.19 426.26 L369.92 425.59 L369.98 425.54 L370.74 424.84 L370.76 424.82 L371.55 424.1 L371.56 424.09 L372.33 423.38 L372.37 423.34 L373.14 422.67 L373.24 422.58 L373.95 421.96 L374.11 421.82 L374.76 421.25 L374.97 421.06 L375.56 420.54 L375.83 420.3 L376.37 419.83 L376.68 419.55 L377.17 419.12 L377.53 418.79 L377.97 418.41 L378.38 418.04 L378.77 417.69 L379.22 417.28 L379.56 416.98 L380.06 416.53 L380.36 416.26 L380.9 415.77 L381.15 415.55 L381.73 415.02 L381.95 414.83 L382.57 414.27 L382.74 414.11 L383.39 413.51 L383.53 413.4 L384.22 412.76 L384.32 412.68 L385.04 412.01 L385.1 411.96 L385.87 411.26 L385.89 411.24 L386.68 410.52 L386.69 410.51 L387.46 409.8 L387.5 409.76 L388.24 409.07 L388.31 409.01 L389.02 408.35 L389.12 408.26 L389.8 407.63 L389.93 407.51 L390.58 406.9 L390.74 406.76 L391.36 406.18 L391.54 406.01 L392.14 405.45 L392.34 405.26 L392.92 404.73 L393.15 404.52 L393.7 404 L393.95 403.77 L394.47 403.28 L394.75 403.02 L395.25 402.55 L395.55 402.27 L396.02 401.83 L396.34 401.52 L396.8 401.1 L397.14 400.78 L397.57 400.37 L397.94 400.03 L398.35 399.65 L398.73 399.28 L399.12 398.92 L399.53 398.54 L399.89 398.19 L400.32 397.79 L400.67 397.46 L401.11 397.04 L401.44 396.74 L401.91 396.29 L402.21 396.01 L402.7 395.55 L402.98 395.28 L403.49 394.8 L403.76 394.55 L404.28 394.05 L404.53 393.82 L405.07 393.31 L405.3 393.1 L405.86 392.56 L406.07 392.37 L406.65 391.82 L406.84 391.64 L407.44 391.07 L407.61 390.91 L408.23 390.32 L408.38 390.18 L409.02 389.58 L407.67 389.79 L406.03 390.05 L405.79 390.09 L405.13 390.71 L404.98 390.84 L404.34 391.43 L404.17 391.59 L403.56 392.15 L403.35 392.34 L402.77 392.87 L402.54 393.09 L401.99 393.59 L401.72 393.84 L401.21 394.31 L400.9 394.59 L400.42 395.03 L400.09 395.34 L399.64 395.75 L399.27 396.09 L398.85 396.48 L398.45 396.84 L398.06 397.2 L397.63 397.59 L397.28 397.92 L396.81 398.35 L396.49 398.64 L395.98 399.1 L395.7 399.36 L395.16 399.85 L394.92 400.07 L394.34 400.6 L394.13 400.79 L393.51 401.35 L393.34 401.51 L392.68 402.11 L392.55 402.23 L391.85 402.86 L391.76 402.95 L391.02 403.61 L390.96 403.66 L390.19 404.36 L390.17 404.38 L389.38 405.1 L389.35 405.12 L388.58 405.81 L388.51 405.87 L387.78 406.52 L387.66 406.63 L386.98 407.24 L386.82 407.38 L386.18 407.95 L385.96 408.14 L385.38 408.66 L385.11 408.9 L384.57 409.37 L384.26 409.65 L383.77 410.08 L383.4 410.41 L382.96 410.79 L382.54 411.17 L382.16 411.5 L381.67 411.92 L381.35 412.21 L380.81 412.68 L380.54 412.92 L379.94 413.44 L379.73 413.62 L379.06 414.2 L378.92 414.33 L378.19 414.96 L378.1 415.04 L377.3 415.72 L377.29 415.74 L376.46 416.44 L376.41 416.49 L375.64 417.14 L375.51 417.25 L374.81 417.84 L374.61 418.01 L373.99 418.54 L373.7 418.78 L373.16 419.23 L372.78 419.55 L372.33 419.93 L371.86 420.31 L371.49 420.62 L370.94 421.08 L370.66 421.32 L370.01 421.85 L369.82 422.01 L369.07 422.62 L368.98 422.7 L368.13 423.39 L368.13 423.39 L367.28 424.07 L367.17 424.16 L366.46 424.78 L366.29 424.92 L365.65 425.48 L365.41 425.68 L364.83 426.18 L364.52 426.45 L364.01 426.88 L363.62 427.21 L363.18 427.58 L362.72 427.97 L362.36 428.28 L361.82 428.74 L361.53 428.98 L360.9 429.5 L360.7 429.67 L359.98 430.27 L359.86 430.37 L359.05 431.04 L359.02 431.06 L358.18 431.75 L358.1 431.81 L357.33 432.43 L357.14 432.58 L356.48 433.12 L356.17 433.36 L355.62 433.8 L355.19 434.14 L354.76 434.48 L354.21 434.91 L353.9 435.16 L353.21 435.69 L353.03 435.83 L352.2 436.47 L352.16 436.51 L351.28 437.18 L351.17 437.26 L350.39 437.84 L350.12 438.05 L349.5 438.51 L349.06 438.83 L348.61 439.17 L347.99 439.63 L347.71 439.83 L346.9 440.42 L346.81 440.49 L345.9 441.14 L345.79 441.22 L344.98 441.79 L344.64 442.02 L344.05 442.43 L343.49 442.82 L343.13 443.08 L342.32 443.63 L342.19 443.72 L341.25 444.35 L341.11 444.44 L340.3 444.98 L339.87 445.26 L339.34 445.61 L338.61 446.08 L338.38 446.23 L337.41 446.85 L337.33 446.91 L336.43 447.47 L335.99 447.74 L335.44 448.08 L334.63 448.58 L334.45 448.69 L333.44 449.29 L333.22 449.42 L332.43 449.88 L331.76 450.27 L331.41 450.48 L330.38 451.06 L330.25 451.13 L329.34 451.64 L328.68 452 L328.29 452.22 L327.23 452.79 L327.05 452.88 L326.15 453.36 L325.34 453.78 L325.07 453.92 L323.98 454.47 L323.55 454.68 L322.87 455.02 L321.76 455.56 L321.67 455.6 L320.63 456.09 L319.65 456.54 L319.49 456.62 L318.33 457.14 L317.5 457.5 L317.17 457.65 L315.98 458.16 L315.17 458.49 L314.79 458.65 L313.58 459.14 L312.63 459.52 L312.36 459.63 L311.12 460.1 L309.87 460.57 L309.8 460.59 L308.59 461.02 L307.3 461.47 L307.5 461.57 L308.38 462.06 L309.27 462.54 L310.15 463.02 L311.03 463.5 L311.92 463.98 L312.8 464.46 L313.64 464.92 L314.81 464.4Z" fill="#48b894" stroke="#48b894" stroke-width="0.4" fill-rule="evenodd"/><path d="M366.67 470.82 L368.3 470.56 L369.81 470.32 L369.85 470.25 L370.2 469.63 L370.35 469.38 L370.6 468.95 L370.86 468.5 L370.99 468.27 L371.36 467.63 L371.39 467.58 L371.79 466.9 L371.87 466.76 L372.19 466.21 L372.38 465.89 L372.6 465.53 L372.9 465.02 L373 464.84 L373.41 464.16 L373.41 464.15 L373.82 463.47 L373.93 463.29 L374.24 462.78 L374.46 462.43 L374.66 462.1 L374.98 461.56 L375.08 461.41 L375.5 460.72 L375.51 460.7 L375.92 460.03 L376.04 459.84 L376.35 459.34 L376.57 458.99 L376.78 458.66 L377.11 458.13 L377.21 457.97 L377.64 457.28 L377.64 457.27 L378.08 456.59 L378.19 456.42 L378.52 455.9 L378.73 455.57 L378.96 455.2 L379.28 454.71 L379.4 454.51 L379.82 453.86 L379.85 453.82 L380.3 453.13 L380.37 453.01 L380.75 452.44 L380.92 452.17 L381.2 451.74 L381.48 451.32 L381.66 451.05 L382.03 450.48 L382.11 450.36 L382.57 449.66 L382.59 449.63 L383.03 448.97 L383.16 448.79 L383.5 448.27 L383.72 447.95 L383.97 447.58 L384.28 447.11 L384.43 446.88 L384.85 446.27 L384.9 446.19 L385.38 445.49 L385.42 445.43 L385.85 444.8 L385.99 444.59 L386.33 444.1 L386.57 443.76 L386.81 443.4 L387.14 442.92 L387.3 442.7 L387.72 442.09 L387.78 442.01 L388.26 441.31 L388.3 441.26 L388.75 440.61 L388.88 440.43 L389.25 439.91 L389.47 439.6 L389.74 439.21 L390.06 438.77 L390.24 438.51 L390.64 437.94 L390.73 437.81 L391.23 437.11 L391.23 437.11 L391.73 436.41 L391.82 436.28 L392.24 435.71 L392.42 435.46 L392.75 435.01 L393.02 434.64 L393.26 434.31 L393.61 433.81 L393.77 433.6 L394.21 432.99 L394.28 432.9 L394.79 432.2 L394.81 432.17 L395.31 431.5 L395.42 431.35 L395.83 430.79 L396.02 430.53 L396.35 430.09 L396.63 429.71 L396.88 429.38 L397.24 428.9 L397.4 428.68 L397.85 428.08 L397.93 427.98 L398.45 427.27 L398.46 427.26 L398.99 426.57 L399.07 426.45 L399.52 425.86 L399.69 425.64 L400.06 425.15 L400.31 424.83 L400.6 424.45 L400.93 424.02 L401.14 423.74 L401.55 423.21 L401.68 423.03 L402.17 422.4 L402.22 422.33 L402.77 421.62 L402.79 421.59 L403.32 420.91 L403.42 420.78 L403.87 420.2 L404.05 419.97 L404.42 419.49 L404.68 419.17 L404.98 418.78 L405.31 418.36 L405.54 418.07 L405.94 417.56 L406.09 417.36 L406.57 416.76 L406.65 416.66 L407.21 415.95 L407.21 415.95 L407.78 415.23 L407.85 415.15 L408.35 414.52 L408.49 414.35 L408.92 413.81 L409.13 413.55 L409.49 413.1 L409.77 412.75 L410.06 412.39 L410.41 411.96 L410.64 411.68 L411.06 411.16 L411.21 410.96 L411.7 410.36 L411.79 410.25 L412.35 409.56 L412.37 409.54 L412.95 408.83 L413 408.77 L413.54 408.11 L413.65 407.98 L414.13 407.4 L414.3 407.18 L414.72 406.68 L414.96 406.39 L415.31 405.97 L415.61 405.6 L415.9 405.25 L416.27 404.81 L416.5 404.54 L416.93 404.02 L417.09 403.82 L417.59 403.23 L417.69 403.11 L418.24 402.44 L418.29 402.39 L418.89 401.67 L418.9 401.65 L419.49 400.96 L419.57 400.86 L420.1 400.24 L420.24 400.08 L420.71 399.52 L420.9 399.29 L421.32 398.8 L421.57 398.51 L421.93 398.09 L422.24 397.73 L422.55 397.37 L422.91 396.94 L423.16 396.65 L423.58 396.16 L423.78 395.93 L424.26 395.38 L424.4 395.21 L424.93 394.59 L425.02 394.49 L425.6 393.81 L425.64 393.77 L426.26 393.05 L426.28 393.03 L426.89 392.33 L426.96 392.25 L427.52 391.61 L427.64 391.48 L428.15 390.89 L428.32 390.7 L428.78 390.17 L429 389.92 L428.42 389.6 L428.04 389.4 L427.76 389.71 L427.35 390.17 L427.11 390.43 L426.66 390.94 L426.47 391.16 L425.97 391.72 L425.83 391.88 L425.29 392.49 L425.19 392.6 L424.6 393.27 L424.55 393.32 L423.92 394.04 L423.92 394.05 L423.28 394.77 L423.24 394.82 L422.65 395.49 L422.55 395.6 L422.01 396.21 L421.87 396.37 L421.38 396.93 L421.19 397.15 L420.75 397.65 L420.51 397.93 L420.12 398.37 L419.83 398.71 L419.49 399.09 L419.15 399.49 L418.87 399.81 L418.48 400.27 L418.25 400.53 L417.8 401.05 L417.63 401.25 L417.13 401.83 L417.01 401.97 L416.46 402.62 L416.4 402.69 L415.8 403.4 L415.79 403.41 L415.18 404.12 L415.13 404.19 L414.57 404.84 L414.46 404.97 L413.95 405.56 L413.79 405.76 L413.34 406.28 L413.13 406.54 L412.74 407 L412.46 407.33 L412.13 407.71 L411.8 408.12 L411.53 408.43 L411.14 408.9 L410.93 409.15 L410.48 409.69 L410.34 409.86 L409.82 410.48 L409.74 410.58 L409.17 411.28 L409.15 411.29 L408.56 412.01 L408.51 412.07 L407.97 412.72 L407.86 412.86 L407.38 413.44 L407.2 413.65 L406.79 414.15 L406.55 414.45 L406.2 414.86 L405.9 415.24 L405.62 415.58 L405.25 416.03 L405.04 416.29 L404.6 416.83 L404.46 417 L403.96 417.63 L403.89 417.72 L403.32 418.43 L403.32 418.43 L402.74 419.14 L402.67 419.23 L402.17 419.85 L402.03 420.02 L401.6 420.56 L401.39 420.82 L401.03 421.27 L400.75 421.62 L400.46 421.98 L400.11 422.43 L399.9 422.7 L399.48 423.23 L399.34 423.41 L398.85 424.03 L398.78 424.11 L398.23 424.82 L398.22 424.84 L397.67 425.53 L397.59 425.64 L397.11 426.24 L396.95 426.45 L396.56 426.95 L396.33 427.25 L396 427.66 L395.7 428.06 L395.46 428.37 L395.08 428.87 L394.91 429.08 L394.45 429.68 L394.37 429.78 L393.83 430.49 L393.83 430.49 L393.29 431.2 L393.21 431.3 L392.75 431.9 L392.59 432.11 L392.21 432.61 L391.98 432.92 L391.67 433.31 L391.36 433.74 L391.14 434.02 L390.75 434.55 L390.61 434.73 L390.14 435.37 L390.09 435.43 L389.57 436.13 L389.53 436.18 L389.04 436.84 L388.92 437 L388.51 437.54 L388.31 437.82 L387.99 438.25 L387.71 438.64 L387.47 438.95 L387.1 439.46 L386.96 439.65 L386.5 440.28 L386.45 440.35 L385.94 441.06 L385.91 441.1 L385.43 441.76 L385.31 441.92 L384.91 442.46 L384.71 442.75 L384.41 443.16 L384.12 443.57 L383.9 443.86 L383.52 444.4 L383.4 444.56 L382.94 445.22 L382.91 445.26 L382.41 445.96 L382.35 446.05 L381.91 446.66 L381.76 446.88 L381.42 447.36 L381.17 447.71 L380.92 448.06 L380.59 448.54 L380.44 448.76 L380.01 449.37 L379.95 449.46 L379.47 450.16 L379.43 450.21 L378.98 450.85 L378.86 451.04 L378.5 451.55 L378.28 451.88 L378.02 452.25 L377.71 452.71 L377.54 452.94 L377.14 453.55 L377.07 453.64 L376.6 454.34 L376.57 454.39 L376.13 455.03 L376 455.23 L375.66 455.73 L375.43 456.07 L375.19 456.42 L374.87 456.91 L374.73 457.12 L374.31 457.75 L374.27 457.81 L373.81 458.5 L373.75 458.6 L373.35 459.2 L373.2 459.44 L372.9 459.89 L372.64 460.29 L372.44 460.58 L372.09 461.14 L372 461.28 L371.55 461.97 L371.54 461.99 L371.1 462.66 L370.99 462.84 L370.66 463.35 L370.45 463.69 L370.21 464.04 L369.9 464.54 L369.78 464.73 L369.36 465.39 L369.34 465.42 L368.91 466.11 L368.82 466.25 L368.47 466.8 L368.29 467.11 L368.04 467.49 L367.75 467.96 L367.61 468.18 L367.22 468.82 L367.19 468.87 L366.77 469.56 L366.69 469.68 L366.34 470.25 L366.17 470.54 L365.92 470.93 L366.67 470.82Z M320.08 467.65 L320.43 467.47 L321.48 466.89 L321.68 466.78 L322.52 466.31 L323.21 465.91 L323.55 465.72 L324.57 465.13 L324.69 465.06 L325.58 464.53 L326.1 464.21 L326.58 463.93 L327.49 463.37 L327.58 463.32 L328.56 462.71 L328.82 462.54 L329.54 462.09 L330.12 461.71 L330.5 461.47 L331.39 460.89 L331.46 460.84 L332.42 460.21 L332.62 460.07 L333.36 459.58 L333.82 459.26 L334.3 458.94 L334.99 458.45 L335.23 458.3 L336.15 457.65 L336.15 457.65 L337.07 457 L337.28 456.85 L337.98 456.35 L338.38 456.05 L338.88 455.69 L339.47 455.26 L339.78 455.03 L340.54 454.47 L340.67 454.37 L341.56 453.71 L341.59 453.68 L342.44 453.04 L342.62 452.9 L343.32 452.37 L343.64 452.12 L344.19 451.69 L344.64 451.34 L345.05 451.01 L345.63 450.56 L345.91 450.33 L346.61 449.78 L346.77 449.65 L347.57 449.01 L347.62 448.97 L348.47 448.28 L348.53 448.23 L349.31 447.59 L349.46 447.46 L350.15 446.9 L350.39 446.7 L350.99 446.21 L351.31 445.93 L351.82 445.51 L352.23 445.16 L352.65 444.81 L353.13 444.4 L353.47 444.11 L354.02 443.64 L354.29 443.41 L354.91 442.87 L355.11 442.71 L355.79 442.11 L355.92 442 L356.66 441.35 L356.73 441.29 L357.52 440.6 L357.54 440.59 L358.34 439.88 L358.38 439.84 L359.14 439.16 L359.23 439.08 L359.94 438.45 L360.08 438.33 L360.74 437.74 L360.91 437.57 L361.53 437.02 L361.75 436.82 L362.32 436.3 L362.58 436.07 L363.11 435.58 L363.4 435.32 L363.9 434.86 L364.22 434.57 L364.68 434.14 L365.03 433.82 L365.47 433.42 L365.84 433.07 L366.25 432.7 L366.65 432.32 L367.02 431.97 L367.45 431.57 L367.8 431.24 L368.25 430.82 L368.57 430.52 L369.04 430.08 L369.35 429.79 L369.83 429.33 L370.12 429.06 L370.62 428.58 L370.89 428.33 L371.4 427.84 L371.65 427.6 L372.19 427.09 L372.42 426.87 L372.96 426.35 L373.19 426.14 L373.74 425.6 L373.95 425.41 L374.51 424.86 L374.71 424.67 L375.28 424.12 L375.47 423.94 L376.05 423.37 L376.23 423.2 L376.82 422.63 L377 422.47 L377.63 421.88 L377.78 421.75 L378.44 421.13 L378.56 421.03 L379.25 420.38 L379.34 420.3 L380.05 419.63 L380.12 419.58 L380.86 418.89 L380.89 418.85 L381.66 418.14 L381.67 418.13 L382.44 417.4 L382.45 417.39 L383.22 416.67 L383.25 416.64 L383.99 415.95 L384.04 415.9 L384.76 415.22 L384.83 415.15 L385.54 414.49 L385.62 414.4 L386.31 413.76 L386.41 413.66 L387.07 413.03 L387.2 412.91 L387.84 412.3 L387.98 412.17 L388.61 411.57 L388.77 411.42 L389.38 410.84 L389.55 410.68 L390.14 410.11 L390.33 409.93 L390.91 409.38 L391.11 409.19 L391.68 408.65 L391.89 408.44 L392.44 407.91 L392.66 407.7 L393.21 407.18 L393.44 406.95 L393.97 406.45 L394.22 406.21 L394.73 405.72 L394.99 405.46 L395.5 404.98 L395.77 404.72 L396.26 404.25 L396.54 403.98 L397.02 403.52 L397.31 403.23 L397.78 402.78 L398.08 402.49 L398.54 402.05 L398.86 401.75 L399.31 401.32 L399.63 401 L400.07 400.58 L400.4 400.26 L400.83 399.85 L401.17 399.52 L401.59 399.11 L401.94 398.77 L402.35 398.38 L402.71 398.03 L403.11 397.65 L403.48 397.29 L403.87 396.91 L404.25 396.54 L404.63 396.18 L405.02 395.8 L405.39 395.44 L405.79 395.06 L406.15 394.71 L406.56 394.31 L406.91 393.97 L407.33 393.57 L407.67 393.24 L408.1 392.83 L408.43 392.51 L408.87 392.09 L409.19 391.77 L409.64 391.34 L409.95 391.04 L410.41 390.6 L410.71 390.3 L411.18 389.86 L411.48 389.57 L411.95 389.11 L410.93 389.27 L409.3 389.53 L409.02 389.58 L408.38 390.18 L408.23 390.32 L407.61 390.91 L407.44 391.07 L406.84 391.64 L406.65 391.82 L406.07 392.37 L405.86 392.56 L405.3 393.1 L405.07 393.31 L404.53 393.82 L404.28 394.05 L403.76 394.55 L403.49 394.8 L402.98 395.28 L402.7 395.55 L402.21 396.01 L401.91 396.29 L401.44 396.74 L401.11 397.04 L400.67 397.46 L400.32 397.79 L399.89 398.19 L399.53 398.54 L399.12 398.92 L398.73 399.28 L398.35 399.65 L397.94 400.03 L397.57 400.37 L397.14 400.78 L396.8 401.1 L396.34 401.52 L396.02 401.83 L395.55 402.27 L395.25 402.55 L394.75 403.02 L394.47 403.28 L393.95 403.77 L393.7 404 L393.15 404.52 L392.92 404.73 L392.34 405.26 L392.14 405.45 L391.54 406.01 L391.36 406.18 L390.74 406.76 L390.58 406.9 L389.93 407.51 L389.8 407.63 L389.12 408.26 L389.02 408.35 L388.31 409.01 L388.24 409.07 L387.5 409.76 L387.46 409.8 L386.69 410.51 L386.68 410.52 L385.89 411.24 L385.87 411.26 L385.1 411.96 L385.04 412.01 L384.32 412.68 L384.22 412.76 L383.53 413.4 L383.39 413.51 L382.74 414.11 L382.57 414.27 L381.95 414.83 L381.73 415.02 L381.15 415.55 L380.9 415.77 L380.36 416.26 L380.06 416.53 L379.56 416.98 L379.22 417.28 L378.77 417.69 L378.38 418.04 L377.97 418.41 L377.53 418.79 L377.17 419.12 L376.68 419.55 L376.37 419.83 L375.83 420.3 L375.56 420.54 L374.97 421.06 L374.76 421.25 L374.11 421.82 L373.95 421.96 L373.24 422.58 L373.14 422.67 L372.37 423.34 L372.33 423.38 L371.56 424.09 L371.55 424.1 L370.76 424.82 L370.74 424.84 L369.98 425.54 L369.92 425.59 L369.19 426.26 L369.1 426.34 L368.4 426.98 L368.27 427.09 L367.6 427.69 L367.43 427.85 L366.81 428.41 L366.59 428.6 L366.01 429.12 L365.75 429.36 L365.21 429.84 L364.9 430.11 L364.41 430.55 L364.05 430.87 L363.61 431.26 L363.19 431.62 L362.8 431.97 L362.32 432.38 L361.99 432.68 L361.45 433.14 L361.18 433.38 L360.57 433.9 L360.36 434.09 L359.69 434.66 L359.55 434.79 L358.8 435.43 L358.72 435.49 L357.9 436.19 L357.9 436.19 L357.07 436.89 L356.99 436.96 L356.24 437.58 L356.06 437.72 L355.4 438.27 L355.13 438.49 L354.56 438.97 L354.19 439.26 L353.72 439.65 L353.25 440.03 L352.87 440.34 L352.29 440.81 L352.02 441.03 L351.32 441.58 L351.16 441.71 L350.35 442.36 L350.3 442.39 L349.44 443.07 L349.35 443.14 L348.57 443.74 L348.34 443.92 L347.69 444.41 L347.31 444.7 L346.81 445.08 L346.27 445.49 L345.93 445.75 L345.22 446.27 L345.04 446.41 L344.16 447.06 L344.15 447.07 L343.24 447.73 L343.06 447.86 L342.33 448.39 L341.95 448.66 L341.42 449.04 L340.82 449.46 L340.5 449.68 L339.68 450.26 L339.58 450.33 L338.64 450.97 L338.5 451.07 L337.7 451.61 L337.29 451.88 L336.76 452.24 L336.06 452.7 L335.8 452.87 L334.84 453.49 L334.81 453.52 L333.87 454.11 L333.5 454.34 L332.89 454.73 L332.18 455.18 L331.91 455.34 L330.92 455.95 L330.81 456.01 L329.91 456.55 L329.39 456.86 L328.9 457.15 L327.94 457.71 L327.88 457.74 L326.85 458.33 L326.41 458.57 L325.81 458.91 L324.84 459.44 L324.76 459.49 L323.7 460.06 L323.19 460.33 L322.63 460.62 L321.55 461.18 L321.48 461.22 L320.45 461.74 L319.66 462.13 L319.35 462.28 L318.23 462.82 L317.74 463.06 L317.1 463.36 L315.96 463.88 L315.7 464 L314.81 464.4 L313.64 464.92 L313.68 464.94 L314.57 465.42 L315.45 465.9 L316.33 466.38 L317.22 466.86 L318.1 467.35 L318.98 467.83 L319.37 468.04 L320.08 467.65Z" fill="#78c46c" stroke="#78c46c" stroke-width="0.4" fill-rule="evenodd"/><path d="M361.77 471.59 L363.4 471.33 L365.03 471.08 L365.92 470.93 L366.17 470.54 L366.34 470.25 L366.69 469.68 L366.77 469.56 L367.19 468.87 L367.22 468.82 L367.61 468.18 L367.75 467.96 L368.04 467.49 L368.29 467.11 L368.47 466.8 L368.82 466.25 L368.91 466.11 L369.34 465.42 L369.36 465.39 L369.78 464.73 L369.9 464.54 L370.21 464.04 L370.45 463.69 L370.66 463.35 L370.99 462.84 L371.1 462.66 L371.54 461.99 L371.55 461.97 L372 461.28 L372.09 461.14 L372.44 460.58 L372.64 460.29 L372.9 459.89 L373.2 459.44 L373.35 459.2 L373.75 458.6 L373.81 458.5 L374.27 457.81 L374.31 457.75 L374.73 457.12 L374.87 456.91 L375.19 456.42 L375.43 456.07 L375.66 455.73 L376 455.23 L376.13 455.03 L376.57 454.39 L376.6 454.34 L377.07 453.64 L377.14 453.55 L377.54 452.94 L377.71 452.71 L378.02 452.25 L378.28 451.88 L378.5 451.55 L378.86 451.04 L378.98 450.85 L379.43 450.21 L379.47 450.16 L379.95 449.46 L380.01 449.37 L380.44 448.76 L380.59 448.54 L380.92 448.06 L381.17 447.71 L381.42 447.36 L381.76 446.88 L381.91 446.66 L382.35 446.05 L382.41 445.96 L382.91 445.26 L382.94 445.22 L383.4 444.56 L383.52 444.4 L383.9 443.86 L384.12 443.57 L384.41 443.16 L384.71 442.75 L384.91 442.46 L385.31 441.92 L385.43 441.76 L385.91 441.1 L385.94 441.06 L386.45 440.35 L386.5 440.28 L386.96 439.65 L387.1 439.46 L387.47 438.95 L387.71 438.64 L387.99 438.25 L388.31 437.82 L388.51 437.54 L388.92 437 L389.04 436.84 L389.53 436.18 L389.57 436.13 L390.09 435.43 L390.14 435.37 L390.61 434.73 L390.75 434.55 L391.14 434.02 L391.36 433.74 L391.67 433.31 L391.98 432.92 L392.21 432.61 L392.59 432.11 L392.75 431.9 L393.21 431.3 L393.29 431.2 L393.83 430.49 L393.83 430.49 L394.37 429.78 L394.45 429.68 L394.91 429.08 L395.08 428.87 L395.46 428.37 L395.7 428.06 L396 427.66 L396.33 427.25 L396.56 426.95 L396.95 426.45 L397.11 426.24 L397.59 425.64 L397.67 425.53 L398.22 424.84 L398.23 424.82 L398.78 424.11 L398.85 424.03 L399.34 423.41 L399.48 423.23 L399.9 422.7 L400.11 422.43 L400.46 421.98 L400.75 421.62 L401.03 421.27 L401.39 420.82 L401.6 420.56 L402.03 420.02 L402.17 419.85 L402.67 419.23 L402.74 419.14 L403.32 418.43 L403.32 418.43 L403.89 417.72 L403.96 417.63 L404.46 417 L404.6 416.83 L405.04 416.29 L405.25 416.03 L405.62 415.58 L405.9 415.24 L406.2 414.86 L406.55 414.45 L406.79 414.15 L407.2 413.65 L407.38 413.44 L407.86 412.86 L407.97 412.72 L408.51 412.07 L408.56 412.01 L409.15 411.29 L409.17 411.28 L409.74 410.58 L409.82 410.48 L410.34 409.86 L410.48 409.69 L410.93 409.15 L411.14 408.9 L411.53 408.43 L411.8 408.12 L412.13 407.71 L412.46 407.33 L412.74 407 L413.13 406.54 L413.34 406.28 L413.79 405.76 L413.95 405.56 L414.46 404.97 L414.57 404.84 L415.13 404.19 L415.18 404.12 L415.79 403.41 L415.8 403.4 L416.4 402.69 L416.46 402.62 L417.01 401.97 L417.13 401.83 L417.63 401.25 L417.8 401.05 L418.25 400.53 L418.48 400.27 L418.87 399.81 L419.15 399.49 L419.49 399.09 L419.83 398.71 L420.12 398.37 L420.51 397.93 L420.75 397.65 L421.19 397.15 L421.38 396.93 L421.87 396.37 L422.01 396.21 L422.55 395.6 L422.65 395.49 L423.24 394.82 L423.28 394.77 L423.92 394.05 L423.92 394.04 L424.55 393.32 L424.6 393.27 L425.19 392.6 L425.29 392.49 L425.83 391.88 L425.97 391.72 L426.47 391.16 L426.66 390.94 L427.11 390.43 L427.35 390.17 L427.76 389.71 L428.04 389.4 L427.53 389.12 L427 388.83 L426.59 389.27 L426.3 389.6 L425.92 390 L425.6 390.37 L425.26 390.73 L424.9 391.13 L424.6 391.45 L424.2 391.9 L423.95 392.18 L423.51 392.67 L423.3 392.9 L422.82 393.45 L422.65 393.62 L422.13 394.22 L422.01 394.35 L421.44 394.99 L421.38 395.07 L420.76 395.77 L420.74 395.79 L420.1 396.51 L420.07 396.54 L419.44 397.24 L419.38 397.31 L418.79 397.96 L418.68 398.09 L418.14 398.69 L417.99 398.86 L417.49 399.41 L417.3 399.63 L416.85 400.13 L416.61 400.4 L416.21 400.86 L415.93 401.18 L415.57 401.58 L415.25 401.96 L414.93 402.3 L414.57 402.73 L414.3 403.02 L413.89 403.51 L413.68 403.74 L413.21 404.29 L413.06 404.46 L412.54 405.08 L412.45 405.18 L411.87 405.86 L411.84 405.9 L411.22 406.62 L411.2 406.64 L410.59 407.34 L410.52 407.42 L409.96 408.06 L409.84 408.2 L409.33 408.78 L409.17 408.98 L408.71 409.5 L408.49 409.76 L408.09 410.22 L407.82 410.54 L407.47 410.94 L407.15 411.33 L406.86 411.65 L406.48 412.11 L406.26 412.37 L405.82 412.9 L405.66 413.09 L405.16 413.69 L405.07 413.8 L404.51 414.48 L404.48 414.52 L403.88 415.23 L403.85 415.27 L403.27 415.95 L403.18 416.06 L402.66 416.67 L402.52 416.84 L402.05 417.39 L401.85 417.63 L401.45 418.1 L401.2 418.42 L400.86 418.82 L400.54 419.21 L400.26 419.53 L399.89 420 L399.68 420.25 L399.24 420.8 L399.1 420.96 L398.59 421.6 L398.53 421.67 L397.96 422.38 L397.95 422.4 L397.37 423.1 L397.29 423.19 L396.77 423.81 L396.64 423.98 L396.19 424.53 L395.99 424.77 L395.6 425.24 L395.34 425.57 L395.02 425.95 L394.7 426.37 L394.45 426.66 L394.06 427.17 L393.89 427.37 L393.43 427.97 L393.33 428.08 L392.8 428.77 L392.78 428.79 L392.21 429.5 L392.15 429.57 L391.63 430.22 L391.51 430.37 L391.06 430.93 L390.87 431.17 L390.49 431.64 L390.24 431.97 L389.93 432.35 L389.6 432.78 L389.37 433.06 L388.98 433.59 L388.83 433.77 L388.35 434.39 L388.29 434.47 L387.75 435.18 L387.73 435.2 L387.19 435.89 L387.1 436.01 L386.63 436.6 L386.47 436.81 L386.07 437.31 L385.84 437.62 L385.53 438.02 L385.22 438.43 L384.98 438.72 L384.6 439.24 L384.45 439.43 L383.99 440.06 L383.93 440.13 L383.4 440.84 L383.38 440.87 L382.85 441.55 L382.75 441.68 L382.31 442.25 L382.13 442.49 L381.77 442.96 L381.52 443.31 L381.24 443.66 L380.91 444.12 L380.72 444.37 L380.3 444.94 L380.2 445.07 L379.71 445.76 L379.7 445.77 L379.16 446.48 L379.09 446.58 L378.63 447.18 L378.48 447.39 L378.11 447.89 L377.88 448.21 L377.59 448.59 L377.28 449.03 L377.08 449.29 L376.68 449.86 L376.58 449.99 L376.09 450.69 L376.09 450.69 L375.57 451.4 L375.49 451.51 L375.05 452.1 L374.89 452.33 L374.54 452.8 L374.29 453.15 L374.03 453.5 L373.7 453.98 L373.54 454.2 L373.12 454.81 L373.05 454.9 L372.56 455.6 L372.54 455.64 L372.06 456.3 L371.94 456.47 L371.56 457 L371.36 457.29 L371.06 457.7 L370.77 458.13 L370.57 458.4 L370.2 458.96 L370.1 459.09 L369.63 459.79 L369.63 459.8 L369.13 460.49 L369.04 460.63 L368.64 461.19 L368.46 461.46 L368.16 461.89 L367.89 462.3 L367.68 462.58 L367.32 463.14 L367.22 463.28 L366.76 463.97 L366.76 463.98 L366.28 464.67 L366.18 464.81 L365.8 465.37 L365.62 465.65 L365.33 466.06 L365.05 466.49 L364.87 466.76 L364.49 467.34 L364.42 467.45 L363.97 468.14 L363.94 468.18 L363.49 468.84 L363.37 469.02 L363.03 469.53 L362.82 469.87 L362.57 470.22 L362.26 470.72 L362.13 470.92 L361.72 471.57 L361.69 471.61 L361.77 471.59Z M325.71 471.11 L326.35 470.69 L326.92 470.29 L327.29 470.05 L328.1 469.48 L328.22 469.41 L329.14 468.76 L329.25 468.68 L330.06 468.12 L330.38 467.88 L330.98 467.46 L331.49 467.08 L331.88 466.81 L332.58 466.29 L332.78 466.15 L333.64 465.5 L333.67 465.48 L334.56 464.82 L334.69 464.71 L335.44 464.15 L335.72 463.93 L336.32 463.48 L336.74 463.15 L337.18 462.81 L337.74 462.37 L338.05 462.13 L338.72 461.59 L338.91 461.45 L339.69 460.81 L339.76 460.76 L340.61 460.08 L340.65 460.04 L341.45 459.39 L341.6 459.27 L342.3 458.7 L342.53 458.5 L343.13 458.01 L343.46 457.73 L343.97 457.31 L344.37 456.97 L344.79 456.61 L345.27 456.2 L345.62 455.91 L346.16 455.44 L346.44 455.21 L347.05 454.68 L347.25 454.51 L347.92 453.92 L348.06 453.8 L348.79 453.16 L348.87 453.09 L349.65 452.4 L349.67 452.38 L350.48 451.67 L350.5 451.65 L351.28 450.96 L351.35 450.89 L352.08 450.24 L352.19 450.14 L352.87 449.53 L353.03 449.38 L353.66 448.81 L353.86 448.63 L354.45 448.09 L354.68 447.88 L355.24 447.37 L355.5 447.13 L356.02 446.65 L356.31 446.38 L356.8 445.93 L357.12 445.63 L357.58 445.2 L357.92 444.88 L358.36 444.48 L358.72 444.13 L359.13 443.75 L359.51 443.39 L359.9 443.02 L360.3 442.64 L360.67 442.29 L361.08 441.89 L361.44 441.56 L361.87 441.15 L362.21 440.83 L362.64 440.41 L362.97 440.1 L363.42 439.66 L363.73 439.36 L364.19 438.92 L364.49 438.63 L364.96 438.18 L365.25 437.89 L365.72 437.43 L366.01 437.16 L366.48 436.69 L366.76 436.42 L367.24 435.95 L367.52 435.68 L368 435.21 L368.27 434.95 L368.75 434.47 L369.02 434.21 L369.51 433.73 L369.77 433.47 L370.26 432.99 L370.52 432.73 L371 432.25 L371.27 431.99 L371.75 431.51 L372.02 431.24 L372.49 430.77 L372.76 430.5 L373.24 430.03 L373.51 429.76 L373.98 429.29 L374.25 429.02 L374.72 428.55 L375 428.27 L375.45 427.82 L375.74 427.53 L376.19 427.08 L376.48 426.79 L376.92 426.34 L377.22 426.04 L377.66 425.6 L377.96 425.3 L378.39 424.87 L378.7 424.55 L379.12 424.13 L379.44 423.8 L379.85 423.39 L380.18 423.06 L380.58 422.66 L380.92 422.31 L381.31 421.92 L381.67 421.57 L382.07 421.18 L382.42 420.83 L382.82 420.44 L383.18 420.09 L383.58 419.7 L383.93 419.36 L384.34 418.95 L384.68 418.62 L385.09 418.21 L385.44 417.88 L385.85 417.47 L386.19 417.14 L386.6 416.73 L386.94 416.4 L387.35 415.99 L387.69 415.66 L388.11 415.25 L388.44 414.92 L388.86 414.51 L389.19 414.18 L389.61 413.77 L389.94 413.44 L390.36 413.03 L390.69 412.7 L391.1 412.29 L391.44 411.96 L391.85 411.55 L392.19 411.22 L392.6 410.81 L392.94 410.48 L393.35 410.07 L393.69 409.74 L394.1 409.33 L394.44 409 L394.84 408.59 L395.18 408.26 L395.59 407.85 L395.93 407.52 L396.34 407.11 L396.68 406.78 L397.08 406.38 L397.43 406.03 L397.83 405.64 L398.18 405.29 L398.57 404.9 L398.92 404.55 L399.32 404.16 L399.67 403.81 L400.07 403.42 L400.42 403.07 L400.81 402.68 L401.17 402.33 L401.56 401.94 L401.91 401.59 L402.3 401.2 L402.66 400.85 L403.05 400.46 L403.41 400.11 L403.8 399.72 L404.16 399.36 L404.54 398.98 L404.91 398.62 L405.29 398.24 L405.66 397.88 L406.04 397.5 L406.4 397.14 L406.79 396.76 L407.15 396.4 L407.53 396.02 L407.9 395.66 L408.28 395.28 L408.65 394.92 L409.03 394.54 L409.4 394.18 L409.78 393.8 L410.15 393.44 L410.53 393.06 L410.9 392.7 L411.28 392.32 L411.65 391.96 L412.03 391.58 L412.4 391.22 L412.78 390.84 L413.15 390.48 L413.53 390.1 L413.9 389.74 L414.28 389.36 L414.65 389 L415.04 388.62 L414.2 388.75 L412.57 389.01 L411.95 389.11 L411.48 389.57 L411.18 389.86 L410.71 390.3 L410.41 390.6 L409.95 391.04 L409.64 391.34 L409.19 391.77 L408.87 392.09 L408.43 392.51 L408.1 392.83 L407.67 393.24 L407.33 393.57 L406.91 393.97 L406.56 394.31 L406.15 394.71 L405.79 395.06 L405.39 395.44 L405.02 395.8 L404.63 396.18 L404.25 396.54 L403.87 396.91 L403.48 397.29 L403.11 397.65 L402.71 398.03 L402.35 398.38 L401.94 398.77 L401.59 399.11 L401.17 399.52 L400.83 399.85 L400.4 400.26 L400.07 400.58 L399.63 401 L399.31 401.32 L398.86 401.75 L398.54 402.05 L398.08 402.49 L397.78 402.78 L397.31 403.23 L397.02 403.52 L396.54 403.98 L396.26 404.25 L395.77 404.72 L395.5 404.98 L394.99 405.46 L394.73 405.72 L394.22 406.21 L393.97 406.45 L393.44 406.95 L393.21 407.18 L392.66 407.7 L392.44 407.91 L391.89 408.44 L391.68 408.65 L391.11 409.19 L390.91 409.38 L390.33 409.93 L390.14 410.11 L389.55 410.68 L389.38 410.84 L388.77 411.42 L388.61 411.57 L387.98 412.17 L387.84 412.3 L387.2 412.91 L387.07 413.03 L386.41 413.66 L386.31 413.76 L385.62 414.4 L385.54 414.49 L384.83 415.15 L384.76 415.22 L384.04 415.9 L383.99 415.95 L383.25 416.64 L383.22 416.67 L382.45 417.39 L382.44 417.4 L381.67 418.13 L381.66 418.14 L380.89 418.85 L380.86 418.89 L380.12 419.58 L380.05 419.63 L379.34 420.3 L379.25 420.38 L378.56 421.03 L378.44 421.13 L377.78 421.75 L377.63 421.88 L377 422.47 L376.82 422.63 L376.23 423.2 L376.05 423.37 L375.47 423.94 L375.28 424.12 L374.71 424.67 L374.51 424.86 L373.95 425.41 L373.74 425.6 L373.19 426.14 L372.96 426.35 L372.42 426.87 L372.19 427.09 L371.65 427.6 L371.4 427.84 L370.89 428.33 L370.62 428.58 L370.12 429.06 L369.83 429.33 L369.35 429.79 L369.04 430.08 L368.57 430.52 L368.25 430.82 L367.8 431.24 L367.45 431.57 L367.02 431.97 L366.65 432.32 L366.25 432.7 L365.84 433.07 L365.47 433.42 L365.03 433.82 L364.68 434.14 L364.22 434.57 L363.9 434.86 L363.4 435.32 L363.11 435.58 L362.58 436.07 L362.32 436.3 L361.75 436.82 L361.53 437.02 L360.91 437.57 L360.74 437.74 L360.08 438.33 L359.94 438.45 L359.23 439.08 L359.14 439.16 L358.38 439.84 L358.34 439.88 L357.54 440.59 L357.52 440.6 L356.73 441.29 L356.66 441.35 L355.92 442 L355.79 442.11 L355.11 442.71 L354.91 442.87 L354.29 443.41 L354.02 443.64 L353.47 444.11 L353.13 444.4 L352.65 444.81 L352.23 445.16 L351.82 445.51 L351.31 445.93 L350.99 446.21 L350.39 446.7 L350.15 446.9 L349.46 447.46 L349.31 447.59 L348.53 448.23 L348.47 448.28 L347.62 448.97 L347.57 449.01 L346.77 449.65 L346.61 449.78 L345.91 450.33 L345.63 450.56 L345.05 451.01 L344.64 451.34 L344.19 451.69 L343.64 452.12 L343.32 452.37 L342.62 452.9 L342.44 453.04 L341.59 453.68 L341.56 453.71 L340.67 454.37 L340.54 454.47 L339.78 455.03 L339.47 455.26 L338.88 455.69 L338.38 456.05 L337.98 456.35 L337.28 456.85 L337.07 457 L336.15 457.65 L336.15 457.65 L335.23 458.3 L334.99 458.45 L334.3 458.94 L333.82 459.26 L333.36 459.58 L332.62 460.07 L332.42 460.21 L331.46 460.84 L331.39 460.89 L330.5 461.47 L330.12 461.71 L329.54 462.09 L328.82 462.54 L328.56 462.71 L327.58 463.32 L327.49 463.37 L326.58 463.93 L326.1 464.21 L325.58 464.53 L324.69 465.06 L324.57 465.13 L323.55 465.72 L323.21 465.91 L322.52 466.31 L321.68 466.78 L321.48 466.89 L320.43 467.47 L320.08 467.65 L319.37 468.04 L319.87 468.31 L320.75 468.79 L321.63 469.27 L322.52 469.75 L323.4 470.23 L324.28 470.71 L325.17 471.19 L325.4 471.32 L325.71 471.11Z" fill="#b4d040" stroke="#b4d040" stroke-width="0.4" fill-rule="evenodd"/><path d="M335.63 475.74 L337.27 475.48 L338.9 475.22 L340.53 474.96 L342.17 474.7 L343.8 474.44 L345.43 474.19 L347.07 473.93 L348.7 473.67 L350.33 473.41 L351.97 473.15 L353.6 472.89 L355.23 472.63 L356.87 472.37 L358.5 472.11 L360.13 471.85 L361.69 471.61 L361.72 471.57 L362.13 470.92 L362.26 470.72 L362.57 470.22 L362.82 469.87 L363.03 469.53 L363.37 469.02 L363.49 468.84 L363.94 468.18 L363.97 468.14 L364.42 467.45 L364.49 467.34 L364.87 466.76 L365.05 466.49 L365.33 466.06 L365.62 465.65 L365.8 465.37 L366.18 464.81 L366.28 464.67 L366.76 463.98 L366.76 463.97 L367.22 463.28 L367.32 463.14 L367.68 462.58 L367.89 462.3 L368.16 461.89 L368.46 461.46 L368.64 461.19 L369.04 460.63 L369.13 460.49 L369.63 459.8 L369.63 459.79 L370.1 459.09 L370.2 458.96 L370.57 458.4 L370.77 458.13 L371.06 457.7 L371.36 457.29 L371.56 457 L371.94 456.47 L372.06 456.3 L372.54 455.64 L372.56 455.6 L373.05 454.9 L373.12 454.81 L373.54 454.2 L373.7 453.98 L374.03 453.5 L374.29 453.15 L374.54 452.8 L374.89 452.33 L375.05 452.1 L375.49 451.51 L375.57 451.4 L376.09 450.69 L376.09 450.69 L376.58 449.99 L376.68 449.86 L377.08 449.29 L377.28 449.03 L377.59 448.59 L377.88 448.21 L378.11 447.89 L378.48 447.39 L378.63 447.18 L379.09 446.58 L379.16 446.48 L379.7 445.77 L379.71 445.76 L380.2 445.07 L380.3 444.94 L380.72 444.37 L380.91 444.12 L381.24 443.66 L381.52 443.31 L381.77 442.96 L382.13 442.49 L382.31 442.25 L382.75 441.68 L382.85 441.55 L383.38 440.87 L383.4 440.84 L383.93 440.13 L383.99 440.06 L384.45 439.43 L384.6 439.24 L384.98 438.72 L385.22 438.43 L385.53 438.02 L385.84 437.62 L386.07 437.31 L386.47 436.81 L386.63 436.6 L387.1 436.01 L387.19 435.89 L387.73 435.2 L387.75 435.18 L388.29 434.47 L388.35 434.39 L388.83 433.77 L388.98 433.59 L389.37 433.06 L389.6 432.78 L389.93 432.35 L390.24 431.97 L390.49 431.64 L390.87 431.17 L391.06 430.93 L391.51 430.37 L391.63 430.22 L392.15 429.57 L392.21 429.5 L392.78 428.79 L392.8 428.77 L393.33 428.08 L393.43 427.97 L393.89 427.37 L394.06 427.17 L394.45 426.66 L394.7 426.37 L395.02 425.95 L395.34 425.57 L395.6 425.24 L395.99 424.77 L396.19 424.53 L396.64 423.98 L396.77 423.81 L397.29 423.19 L397.37 423.1 L397.95 422.4 L397.96 422.38 L398.53 421.67 L398.59 421.6 L399.1 420.96 L399.24 420.8 L399.68 420.25 L399.89 420 L400.26 419.53 L400.54 419.21 L400.86 418.82 L401.2 418.42 L401.45 418.1 L401.85 417.63 L402.05 417.39 L402.52 416.84 L402.66 416.67 L403.18 416.06 L403.27 415.95 L403.85 415.27 L403.88 415.23 L404.48 414.52 L404.51 414.48 L405.07 413.8 L405.16 413.69 L405.66 413.09 L405.82 412.9 L406.26 412.37 L406.48 412.11 L406.86 411.65 L407.15 411.33 L407.47 410.94 L407.82 410.54 L408.09 410.22 L408.49 409.76 L408.71 409.5 L409.17 408.98 L409.33 408.78 L409.84 408.2 L409.96 408.06 L410.52 407.42 L410.59 407.34 L411.2 406.64 L411.22 406.62 L411.84 405.9 L411.87 405.86 L412.45 405.18 L412.54 405.08 L413.06 404.46 L413.21 404.29 L413.68 403.74 L413.89 403.51 L414.3 403.02 L414.57 402.73 L414.93 402.3 L415.25 401.96 L415.57 401.58 L415.93 401.18 L416.21 400.86 L416.61 400.4 L416.85 400.13 L417.3 399.63 L417.49 399.41 L417.99 398.86 L418.14 398.69 L418.68 398.09 L418.79 397.96 L419.38 397.31 L419.44 397.24 L420.07 396.54 L420.1 396.51 L420.74 395.79 L420.76 395.77 L421.38 395.07 L421.44 394.99 L422.01 394.35 L422.13 394.22 L422.65 393.62 L422.82 393.45 L423.3 392.9 L423.51 392.67 L423.95 392.18 L424.2 391.9 L424.6 391.45 L424.9 391.13 L425.26 390.73 L425.6 390.37 L425.92 390 L426.3 389.6 L426.59 389.27 L427 388.83 L426.65 388.64 L425.77 388.16 L424.88 387.68 L424 387.2 L422.37 387.46 L420.73 387.72 L419.1 387.98 L417.47 388.24 L415.83 388.5 L415.04 388.62 L414.65 389 L414.28 389.36 L413.9 389.74 L413.53 390.1 L413.15 390.48 L412.78 390.84 L412.4 391.22 L412.03 391.58 L411.65 391.96 L411.28 392.32 L410.9 392.7 L410.53 393.06 L410.15 393.44 L409.78 393.8 L409.4 394.18 L409.03 394.54 L408.65 394.92 L408.28 395.28 L407.9 395.66 L407.53 396.02 L407.15 396.4 L406.79 396.76 L406.4 397.14 L406.04 397.5 L405.66 397.88 L405.29 398.24 L404.91 398.62 L404.54 398.98 L404.16 399.36 L403.8 399.72 L403.41 400.11 L403.05 400.46 L402.66 400.85 L402.3 401.2 L401.91 401.59 L401.56 401.94 L401.17 402.33 L400.81 402.68 L400.42 403.07 L400.07 403.42 L399.67 403.81 L399.32 404.16 L398.92 404.55 L398.57 404.9 L398.18 405.29 L397.83 405.64 L397.43 406.03 L397.08 406.38 L396.68 406.78 L396.34 407.11 L395.93 407.52 L395.59 407.85 L395.18 408.26 L394.84 408.59 L394.44 409 L394.1 409.33 L393.69 409.74 L393.35 410.07 L392.94 410.48 L392.6 410.81 L392.19 411.22 L391.85 411.55 L391.44 411.96 L391.1 412.29 L390.69 412.7 L390.36 413.03 L389.94 413.44 L389.61 413.77 L389.19 414.18 L388.86 414.51 L388.44 414.92 L388.11 415.25 L387.69 415.66 L387.35 415.99 L386.94 416.4 L386.6 416.73 L386.19 417.14 L385.85 417.47 L385.44 417.88 L385.09 418.21 L384.68 418.62 L384.34 418.95 L383.93 419.36 L383.58 419.7 L383.18 420.09 L382.82 420.44 L382.42 420.83 L382.07 421.18 L381.67 421.57 L381.31 421.92 L380.92 422.31 L380.58 422.66 L380.18 423.06 L379.85 423.39 L379.44 423.8 L379.12 424.13 L378.7 424.55 L378.39 424.87 L377.96 425.3 L377.66 425.6 L377.22 426.04 L376.92 426.34 L376.48 426.79 L376.19 427.08 L375.74 427.53 L375.45 427.82 L375 428.27 L374.72 428.55 L374.25 429.02 L373.98 429.29 L373.51 429.76 L373.24 430.03 L372.76 430.5 L372.49 430.77 L372.02 431.24 L371.75 431.51 L371.27 431.99 L371 432.25 L370.52 432.73 L370.26 432.99 L369.77 433.47 L369.51 433.73 L369.02 434.21 L368.75 434.47 L368.27 434.95 L368 435.21 L367.52 435.68 L367.24 435.95 L366.76 436.42 L366.48 436.69 L366.01 437.16 L365.72 437.43 L365.25 437.89 L364.96 438.18 L364.49 438.63 L364.19 438.92 L363.73 439.36 L363.42 439.66 L362.97 440.1 L362.64 440.41 L362.21 440.83 L361.87 441.15 L361.44 441.56 L361.08 441.89 L360.67 442.29 L360.3 442.64 L359.9 443.02 L359.51 443.39 L359.13 443.75 L358.72 444.13 L358.36 444.48 L357.92 444.88 L357.58 445.2 L357.12 445.63 L356.8 445.93 L356.31 446.38 L356.02 446.65 L355.5 447.13 L355.24 447.37 L354.68 447.88 L354.45 448.09 L353.86 448.63 L353.66 448.81 L353.03 449.38 L352.87 449.53 L352.19 450.14 L352.08 450.24 L351.35 450.89 L351.28 450.96 L350.5 451.65 L350.48 451.67 L349.67 452.38 L349.65 452.4 L348.87 453.09 L348.79 453.16 L348.06 453.8 L347.92 453.92 L347.25 454.51 L347.05 454.68 L346.44 455.21 L346.16 455.44 L345.62 455.91 L345.27 456.2 L344.79 456.61 L344.37 456.97 L343.97 457.31 L343.46 457.73 L343.13 458.01 L342.53 458.5 L342.3 458.7 L341.6 459.27 L341.45 459.39 L340.65 460.04 L340.61 460.08 L339.76 460.76 L339.69 460.81 L338.91 461.45 L338.72 461.59 L338.05 462.13 L337.74 462.37 L337.18 462.81 L336.74 463.15 L336.32 463.48 L335.72 463.93 L335.44 464.15 L334.69 464.71 L334.56 464.82 L333.67 465.48 L333.64 465.5 L332.78 466.15 L332.58 466.29 L331.88 466.81 L331.49 467.08 L330.98 467.46 L330.38 467.88 L330.06 468.12 L329.25 468.68 L329.14 468.76 L328.22 469.41 L328.1 469.48 L327.29 470.05 L326.92 470.29 L326.35 470.69 L325.71 471.11 L325.4 471.32 L326.05 471.67 L326.93 472.15 L327.82 472.63 L328.7 473.12 L329.58 473.6 L330.47 474.08 L331.35 474.56 L332.23 475.04 L333.12 475.52 L334 476 L335.63 475.74Z" fill="#f0ec1c" stroke="#f0ec1c" stroke-width="0.4" fill-rule="evenodd"/></g>
<path d="M220.6 418.3L424.1 386.7L537.1 444.7" stroke="#b0b0b0" stroke-width="0.8" fill="none"/>
<g stroke="#000" stroke-width="0.4" stroke-opacity="0.6" stroke-linejoin="round"><path d="M377.65 330.16 L387.45 324.7 L384.8 325.8 L375 330.31Z" fill="#3a88d7"/><path d="M387.45 324.7 L397.25 316 L394.6 319.05 L384.8 325.8Z" fill="#349cd3"/><path d="M367.85 334.04 L377.65 330.16 L375 330.31 L365.2 333.69Z" fill="#397cd5"/><path d="M358.05 337.08 L367.85 334.04 L365.2 333.69 L355.4 336.44Z" fill="#3976d2"/><path d="M397.25 316 L407.05 300.98 L404.4 307.54 L394.6 319.05Z" fill="#3fb7b2"/><path d="M348.25 339.62 L358.05 337.08 L355.4 336.44 L345.6 338.81Z" fill="#3971cf"/><path d="M338.45 341.86 L348.25 339.62 L345.6 338.81 L335.8 340.94Z" fill="#396ecd"/><path d="M328.65 343.89 L338.45 341.86 L335.8 340.94 L326 342.89Z" fill="#396ccc"/><path d="M407.05 300.98 L416.85 285.05 L414.2 289.35 L404.4 307.54Z" fill="#a8ce62"/><path d="M318.85 345.77 L328.65 343.89 L326 342.89 L316.2 344.71Z" fill="#396bcb"/><path d="M380.3 329.59 L390.1 322.79 L387.45 324.7 L377.65 330.16Z" fill="#3991d8"/><path d="M370.5 334.15 L380.3 329.59 L377.65 330.16 L367.85 334.04Z" fill="#3a82d6"/><path d="M360.7 337.56 L370.5 334.15 L367.85 334.04 L358.05 337.08Z" fill="#3979d5"/><path d="M390.1 322.79 L399.9 311.38 L397.25 316 L387.45 324.7Z" fill="#31acc8"/><path d="M416.85 285.05 L426.65 286.3 L424 281.2 L414.2 289.35Z" fill="#edea37"/><path d="M309.05 347.53 L318.85 345.77 L316.2 344.71 L306.4 346.44Z" fill="#396aca"/><path d="M350.9 340.34 L360.7 337.56 L358.05 337.08 L348.25 339.62Z" fill="#3974d1"/><path d="M299.25 349.2 L309.05 347.53 L306.4 346.44 L296.6 348.08Z" fill="#3969ca"/><path d="M341.1 342.72 L350.9 340.34 L348.25 339.62 L338.45 341.86Z" fill="#3971cf"/><path d="M399.9 311.38 L409.7 293.73 L407.05 300.98 L397.25 316Z" fill="#6dc190"/><path d="M331.3 344.84 L341.1 342.72 L338.45 341.86 L328.65 343.89Z" fill="#396ecd"/><path d="M289.45 350.78 L299.25 349.2 L296.6 348.08 L286.8 349.64Z" fill="#3969ca"/><path d="M321.5 346.79 L331.3 344.84 L328.65 343.89 L318.85 345.77Z" fill="#396dcc"/><path d="M279.65 352.29 L289.45 350.78 L286.8 349.64 L277 351.14Z" fill="#3969ca"/><path d="M419.5 285.64 L429.3 301.64 L426.65 286.3 L416.85 285.05Z" fill="#e1e43e"/><path d="M373.15 333.94 L382.95 328.44 L380.3 329.59 L370.5 334.15Z" fill="#3a8ad7"/><path d="M382.95 328.44 L392.75 319.74 L390.1 322.79 L380.3 329.59Z" fill="#339fd2"/><path d="M363.35 337.86 L373.15 333.94 L370.5 334.15 L360.7 337.56Z" fill="#397fd6"/><path d="M311.7 348.59 L321.5 346.79 L318.85 345.77 L309.05 347.53Z" fill="#396bcb"/><path d="M409.7 293.73 L419.5 285.64 L416.85 285.05 L407.05 300.98Z" fill="#e0e33f"/><path d="M269.85 353.73 L279.65 352.29 L277 351.14 L267.2 352.57Z" fill="#396aca"/><path d="M353.55 340.93 L363.35 337.86 L360.7 337.56 L350.9 340.34Z" fill="#3978d4"/><path d="M301.9 350.29 L311.7 348.59 L309.05 347.53 L299.25 349.2Z" fill="#396bcb"/><path d="M392.75 319.74 L402.55 305.04 L399.9 311.38 L390.1 322.79Z" fill="#43b8b0"/><path d="M422.15 289.71 L431.95 315.11 L429.3 301.64 L419.5 285.64Z" fill="#9fcc69"/><path d="M343.75 343.49 L353.55 340.93 L350.9 340.34 L341.1 342.72Z" fill="#3973d1"/><path d="M260.05 355.1 L269.85 353.73 L267.2 352.57 L257.4 353.94Z" fill="#396acb"/><path d="M292.1 351.9 L301.9 350.29 L299.25 349.2 L289.45 350.78Z" fill="#396acb"/><path d="M333.95 345.73 L343.75 343.49 L341.1 342.72 L331.3 344.84Z" fill="#3970cf"/><path d="M250.25 356.39 L260.05 355.1 L257.4 353.94 L247.6 355.23Z" fill="#396bcb"/><path d="M424.8 303.78 L434.6 324.1 L431.95 315.11 L422.15 289.71Z" fill="#58bca1"/><path d="M324.15 347.75 L333.95 345.73 L331.3 344.84 L321.5 346.79Z" fill="#396ecd"/><path d="M282.3 353.42 L292.1 351.9 L289.45 350.78 L279.65 352.29Z" fill="#396acb"/><path d="M240.45 357.59 L250.25 356.39 L247.6 355.23 L237.8 356.44Z" fill="#396ccc"/><path d="M402.55 305.04 L412.35 289.58 L409.7 293.73 L399.9 311.38Z" fill="#aace61"/><path d="M314.35 349.62 L324.15 347.75 L321.5 346.79 L311.7 348.59Z" fill="#396dcc"/><path d="M375.8 333.31 L385.6 326.48 L382.95 328.44 L373.15 333.94Z" fill="#3895d6"/><path d="M427.45 317.37 L437.25 330.12 L434.6 324.1 L424.8 303.78Z" fill="#30abca"/><path d="M272.5 354.87 L282.3 353.42 L279.65 352.29 L269.85 353.73Z" fill="#396bcb"/><path d="M366 337.91 L375.8 333.31 L373.15 333.94 L363.35 337.86Z" fill="#3a85d7"/><path d="M356.2 341.36 L366 337.91 L363.35 337.86 L353.55 340.93Z" fill="#397cd5"/><path d="M230.65 358.71 L240.45 357.59 L237.8 356.44 L228 357.56Z" fill="#396ecd"/><path d="M385.6 326.48 L395.4 315.2 L392.75 319.74 L382.95 328.44Z" fill="#33aec5"/><path d="M412.35 289.58 L422.15 289.71 L419.5 285.64 L409.7 293.73Z" fill="#edea37"/><path d="M304.55 351.35 L314.35 349.62 L311.7 348.59 L301.9 350.29Z" fill="#396ccc"/><path d="M262.7 356.24 L272.5 354.87 L269.85 353.73 L260.05 355.1Z" fill="#396bcb"/><path d="M346.4 344.16 L356.2 341.36 L353.55 340.93 L343.75 343.49Z" fill="#3977d3"/><path d="M294.75 352.99 L304.55 351.35 L301.9 350.29 L292.1 351.9Z" fill="#396ccc"/><path d="M336.6 346.55 L346.4 344.16 L343.75 343.49 L333.95 345.73Z" fill="#3973d0"/><path d="M430.1 326.83 L439.9 334.42 L437.25 330.12 L427.45 317.37Z" fill="#3a8ed8"/><path d="M252.9 357.53 L262.7 356.24 L260.05 355.1 L250.25 356.39Z" fill="#396ccc"/><path d="M395.4 315.2 L405.2 298.14 L402.55 305.04 L392.75 319.74Z" fill="#71c28d"/><path d="M326.8 348.67 L336.6 346.55 L333.95 345.73 L324.15 347.75Z" fill="#3970cf"/><path d="M284.95 354.53 L294.75 352.99 L292.1 351.9 L282.3 353.42Z" fill="#396ccc"/><path d="M243.1 358.73 L252.9 357.53 L250.25 356.39 L240.45 357.59Z" fill="#396dcd"/><path d="M317 350.6 L326.8 348.67 L324.15 347.75 L314.35 349.62Z" fill="#396fce"/><path d="M275.15 355.99 L284.95 354.53 L282.3 353.42 L272.5 354.87Z" fill="#396ccc"/><path d="M415 290.08 L424.8 303.78 L422.15 289.71 L412.35 289.58Z" fill="#e9e839"/><path d="M368.65 337.65 L378.45 332.1 L375.8 333.31 L366 337.91Z" fill="#3a8dd8"/><path d="M233.3 359.83 L243.1 358.73 L240.45 357.59 L230.65 358.71Z" fill="#396fce"/><path d="M378.45 332.1 L388.25 323.44 L385.6 326.48 L375.8 333.31Z" fill="#31a3d0"/><path d="M432.75 333.25 L442.55 337.74 L439.9 334.42 L430.1 326.83Z" fill="#397cd5"/><path d="M358.85 341.6 L368.65 337.65 L366 337.91 L356.2 341.36Z" fill="#3a82d6"/><path d="M307.2 352.38 L317 350.6 L314.35 349.62 L304.55 351.35Z" fill="#396ecd"/><path d="M405.2 298.14 L415 290.08 L412.35 289.58 L402.55 305.04Z" fill="#e0e43e"/><path d="M265.35 357.36 L275.15 355.99 L272.5 354.87 L262.7 356.24Z" fill="#396ccc"/><path d="M349.05 344.7 L358.85 341.6 L356.2 341.36 L346.4 344.16Z" fill="#397ad5"/><path d="M297.4 354 L307.2 352.38 L304.55 351.35 L294.75 352.99Z" fill="#396dcd"/><path d="M388.25 323.44 L398.05 309.1 L395.4 315.2 L385.6 326.48Z" fill="#47b9ad"/><path d="M339.25 347.27 L349.05 344.7 L346.4 344.16 L336.6 346.55Z" fill="#3976d2"/><path d="M417.65 293.27 L427.45 317.37 L424.8 303.78 L415 290.08Z" fill="#accf60"/><path d="M255.55 358.65 L265.35 357.36 L262.7 356.24 L252.9 357.53Z" fill="#396dcd"/><path d="M287.6 355.56 L297.4 354 L294.75 352.99 L284.95 354.53Z" fill="#396dcd"/><path d="M329.45 349.51 L339.25 347.27 L336.6 346.55 L326.8 348.67Z" fill="#3973d0"/><path d="M245.75 359.84 L255.55 358.65 L252.9 357.53 L243.1 358.73Z" fill="#396fcd"/><path d="M435.4 337.86 L445.2 340.46 L442.55 337.74 L432.75 333.25Z" fill="#3971cf"/><path d="M319.65 351.52 L329.45 349.51 L326.8 348.67 L317 350.6Z" fill="#3971cf"/><path d="M420.3 305.89 L430.1 326.83 L427.45 317.37 L417.65 293.27Z" fill="#65bf97"/><path d="M277.8 357.08 L287.6 355.56 L284.95 354.53 L275.15 355.99Z" fill="#396dcd"/><path d="M398.05 309.1 L407.85 294.12 L405.2 298.14 L395.4 315.2Z" fill="#adcf5f"/><path d="M235.95 360.94 L245.75 359.84 L243.1 358.73 L233.3 359.83Z" fill="#3970ce"/><path d="M309.85 353.36 L319.65 351.52 L317 350.6 L307.2 352.38Z" fill="#3970ce"/><path d="M371.3 336.95 L381.1 330.11 L378.45 332.1 L368.65 337.65Z" fill="#3698d5"/><path d="M268 358.46 L277.8 357.08 L275.15 355.99 L265.35 357.36Z" fill="#396ecd"/><path d="M361.5 341.6 L371.3 336.95 L368.65 337.65 L358.85 341.6Z" fill="#3a88d7"/><path d="M422.95 319.46 L432.75 333.25 L430.1 326.83 L420.3 305.89Z" fill="#34b0c1"/><path d="M351.7 345.08 L361.5 341.6 L358.85 341.6 L349.05 344.7Z" fill="#397fd6"/><path d="M407.85 294.12 L417.65 293.27 L415 290.08 L405.2 298.14Z" fill="#edea37"/><path d="M381.1 330.11 L390.9 319 L388.25 323.44 L378.45 332.1Z" fill="#34afc1"/><path d="M300.05 354.97 L309.85 353.36 L307.2 352.38 L297.4 354Z" fill="#396fce"/><path d="M258.2 359.75 L268 358.46 L265.35 357.36 L255.55 358.65Z" fill="#396fcd"/><path d="M341.9 347.89 L351.7 345.08 L349.05 344.7 L339.25 347.27Z" fill="#3979d5"/><path d="M290.25 356.52 L300.05 354.97 L297.4 354 L287.6 355.56Z" fill="#396fce"/><path d="M332.1 350.28 L341.9 347.89 L339.25 347.27 L329.45 349.51Z" fill="#3976d2"/><path d="M438.05 341.38 L447.85 342.82 L445.2 340.46 L435.4 337.86Z" fill="#396aca"/><path d="M425.6 329.38 L435.4 337.86 L432.75 333.25 L422.95 319.46Z" fill="#3895d6"/><path d="M248.4 360.94 L258.2 359.75 L255.55 358.65 L245.75 359.84Z" fill="#3970ce"/><path d="M390.9 319 L400.7 302.56 L398.05 309.1 L388.25 323.44Z" fill="#74c38a"/><path d="M322.3 352.39 L332.1 350.28 L329.45 349.51 L319.65 351.52Z" fill="#3973d0"/><path d="M280.45 358.08 L290.25 356.52 L287.6 355.56 L277.8 357.08Z" fill="#396fce"/><path d="M238.6 362.03 L248.4 360.94 L245.75 359.84 L235.95 360.94Z" fill="#3971cf"/><path d="M312.5 354.3 L322.3 352.39 L319.65 351.52 L309.85 353.36Z" fill="#3972cf"/><path d="M270.65 359.54 L280.45 358.08 L277.8 357.08 L268 358.46Z" fill="#396fce"/><path d="M410.5 294.52 L420.3 305.89 L417.65 293.27 L407.85 294.12Z" fill="#edea37"/><path d="M364.15 341.27 L373.95 335.69 L371.3 336.95 L361.5 341.6Z" fill="#3a91d8"/><path d="M400.7 302.56 L410.5 294.52 L407.85 294.12 L398.05 309.1Z" fill="#e1e43e"/><path d="M373.95 335.69 L383.75 327.08 L381.1 330.11 L371.3 336.95Z" fill="#2fa6cf"/><path d="M354.35 345.26 L364.15 341.27 L361.5 341.6 L351.7 345.08Z" fill="#3a85d7"/><path d="M302.7 355.93 L312.5 354.3 L309.85 353.36 L300.05 354.97Z" fill="#3971cf"/><path d="M428.25 336.23 L438.05 341.38 L435.4 337.86 L425.6 329.38Z" fill="#3a81d6"/><path d="M260.85 360.83 L270.65 359.54 L268 358.46 L258.2 359.75Z" fill="#3970ce"/><path d="M344.55 348.37 L354.35 345.26 L351.7 345.08 L341.9 347.89Z" fill="#397dd5"/><path d="M440.7 344.26 L450.5 344.93 L447.85 342.82 L438.05 341.38Z" fill="#3a65c7"/><path d="M292.9 357.49 L302.7 355.93 L300.05 354.97 L290.25 356.52Z" fill="#3971cf"/><path d="M383.75 327.08 L393.55 313.15 L390.9 319 L381.1 330.11Z" fill="#4bb9aa"/><path d="M334.75 350.95 L344.55 348.37 L341.9 347.89 L332.1 350.28Z" fill="#3979d4"/><path d="M251.05 362.02 L260.85 360.83 L258.2 359.75 L248.4 360.94Z" fill="#3971cf"/><path d="M413.15 297.02 L422.95 319.46 L420.3 305.89 L410.5 294.52Z" fill="#b8d156"/><path d="M324.95 353.19 L334.75 350.95 L332.1 350.28 L322.3 352.39Z" fill="#3976d2"/><path d="M283.1 359.04 L292.9 357.49 L290.25 356.52 L280.45 358.08Z" fill="#3971cf"/><path d="M241.25 363.1 L251.05 362.02 L248.4 360.94 L238.6 362.03Z" fill="#3973d0"/><path d="M315.15 355.18 L324.95 353.19 L322.3 352.39 L312.5 354.3Z" fill="#3974d1"/><path d="M430.9 341.16 L440.7 344.26 L438.05 341.38 L428.25 336.23Z" fill="#3975d1"/><path d="M273.3 360.58 L283.1 359.04 L280.45 358.08 L270.65 359.54Z" fill="#3971cf"/><path d="M415.8 308.02 L425.6 329.38 L422.95 319.46 L413.15 297.02Z" fill="#73c28b"/><path d="M393.55 313.15 L403.35 298.67 L400.7 302.56 L390.9 319Z" fill="#afcf5d"/><path d="M305.35 356.9 L315.15 355.18 L312.5 354.3 L302.7 355.93Z" fill="#3973d0"/><path d="M366.8 340.51 L376.6 333.67 L373.95 335.69 L364.15 341.27Z" fill="#349cd3"/><path d="M357 345.18 L366.8 340.51 L364.15 341.27 L354.35 345.26Z" fill="#3a8cd8"/><path d="M263.5 361.88 L273.3 360.58 L270.65 359.54 L260.85 360.83Z" fill="#3971cf"/><path d="M443.35 346.72 L453.15 346.88 L450.5 344.93 L440.7 344.26Z" fill="#3e5fc1"/><path d="M403.35 298.67 L413.15 297.02 L410.5 294.52 L400.7 302.56Z" fill="#edea37"/><path d="M347.2 348.69 L357 345.18 L354.35 345.26 L344.55 348.37Z" fill="#3a82d6"/><path d="M418.45 321.4 L428.25 336.23 L425.6 329.38 L415.8 308.02Z" fill="#39b5b8"/><path d="M376.6 333.67 L386.4 322.75 L383.75 327.08 L373.95 335.69Z" fill="#36b1be"/><path d="M295.55 358.45 L305.35 356.9 L302.7 355.93 L292.9 357.49Z" fill="#3973d0"/><path d="M337.4 351.51 L347.2 348.69 L344.55 348.37 L334.75 350.95Z" fill="#397cd5"/><path d="M253.7 363.07 L263.5 361.88 L260.85 360.83 L251.05 362.02Z" fill="#3973d0"/><path d="M285.75 360.01 L295.55 358.45 L292.9 357.49 L283.1 359.04Z" fill="#3973d0"/><path d="M327.6 353.9 L337.4 351.51 L334.75 350.95 L324.95 353.19Z" fill="#3979d4"/><path d="M433.55 344.92 L443.35 346.72 L440.7 344.26 L430.9 341.16Z" fill="#396dcc"/><path d="M243.9 364.14 L253.7 363.07 L251.05 362.02 L241.25 363.1Z" fill="#3974d1"/><path d="M386.4 322.75 L396.2 306.98 L393.55 313.15 L383.75 327.08Z" fill="#78c487"/><path d="M421.1 331.73 L430.9 341.16 L428.25 336.23 L418.45 321.4Z" fill="#349dd3"/><path d="M317.8 355.99 L327.6 353.9 L324.95 353.19 L315.15 355.18Z" fill="#3976d3"/><path d="M275.95 361.56 L285.75 360.01 L283.1 359.04 L273.3 360.58Z" fill="#3973d0"/><path d="M308 357.86 L317.8 355.99 L315.15 355.18 L305.35 356.9Z" fill="#3975d2"/><path d="M406 298.96 L415.8 308.02 L413.15 297.02 L403.35 298.67Z" fill="#edea37"/><path d="M446 348.92 L455.8 348.72 L453.15 346.88 L443.35 346.72Z" fill="#405bbc"/><path d="M266.15 362.91 L275.95 361.56 L273.3 360.58 L263.5 361.88Z" fill="#3973d0"/><path d="M396.2 306.98 L406 298.96 L403.35 298.67 L393.55 313.15Z" fill="#e2e43d"/><path d="M359.65 344.78 L369.45 339.19 L366.8 340.51 L357 345.18Z" fill="#3895d6"/><path d="M369.45 339.19 L379.25 330.65 L376.6 333.67 L366.8 340.51Z" fill="#2fa9cc"/><path d="M349.85 348.8 L359.65 344.78 L357 345.18 L347.2 348.69Z" fill="#3a88d7"/><path d="M298.2 359.42 L308 357.86 L305.35 356.9 L295.55 358.45Z" fill="#3974d1"/><path d="M423.75 339.03 L433.55 344.92 L430.9 341.16 L421.1 331.73Z" fill="#3a87d7"/><path d="M256.35 364.1 L266.15 362.91 L263.5 361.88 L253.7 363.07Z" fill="#3974d1"/><path d="M340.05 351.93 L349.85 348.8 L347.2 348.69 L337.4 351.51Z" fill="#3a81d6"/><path d="M436.2 347.97 L446 348.92 L443.35 346.72 L433.55 344.92Z" fill="#3967c9"/><path d="M379.25 330.65 L389.05 317.18 L386.4 322.75 L376.6 333.67Z" fill="#50baa7"/><path d="M288.4 360.97 L298.2 359.42 L295.55 358.45 L285.75 360.01Z" fill="#3974d1"/><path d="M330.25 354.51 L340.05 351.93 L337.4 351.51 L327.6 353.9Z" fill="#397cd5"/><path d="M246.55 365.16 L256.35 364.1 L253.7 363.07 L243.9 364.14Z" fill="#3976d2"/><path d="M408.65 300.97 L418.45 321.4 L415.8 308.02 L406 298.96Z" fill="#c5d74f"/><path d="M320.45 356.73 L330.25 354.51 L327.6 353.9 L317.8 355.99Z" fill="#3979d4"/><path d="M278.6 362.53 L288.4 360.97 L285.75 360.01 L275.95 361.56Z" fill="#3974d1"/><path d="M448.65 350.93 L458.45 350.47 L455.8 348.72 L446 348.92Z" fill="#4357b9"/><path d="M310.65 358.7 L320.45 356.73 L317.8 355.99 L308 357.86Z" fill="#3977d3"/><path d="M426.4 344.32 L436.2 347.97 L433.55 344.92 L423.75 339.03Z" fill="#3979d4"/><path d="M389.05 317.18 L398.85 303.24 L396.2 306.98 L386.4 322.75Z" fill="#b1d05c"/><path d="M268.8 363.9 L278.6 362.53 L275.95 361.56 L266.15 362.91Z" fill="#3975d2"/><path d="M411.3 310.26 L421.1 331.73 L418.45 321.4 L408.65 300.97Z" fill="#81c680"/><path d="M300.85 360.38 L310.65 358.7 L308 357.86 L298.2 359.42Z" fill="#3976d3"/><path d="M362.3 343.95 L372.1 337.14 L369.45 339.19 L359.65 344.78Z" fill="#32a0d1"/><path d="M352.5 348.65 L362.3 343.95 L359.65 344.78 L349.85 348.8Z" fill="#3a90d8"/><path d="M259 365.09 L268.8 363.9 L266.15 362.91 L256.35 364.1Z" fill="#3976d2"/><path d="M398.85 303.24 L408.65 300.97 L406 298.96 L396.2 306.98Z" fill="#edea37"/><path d="M438.85 350.56 L448.65 350.93 L446 348.92 L436.2 347.97Z" fill="#3b62c4"/><path d="M342.7 352.17 L352.5 348.65 L349.85 348.8 L340.05 351.93Z" fill="#3a86d7"/><path d="M372.1 337.14 L381.9 326.45 L379.25 330.65 L369.45 339.19Z" fill="#38b4ba"/><path d="M291.05 361.94 L300.85 360.38 L298.2 359.42 L288.4 360.97Z" fill="#3976d3"/><path d="M413.95 323.22 L423.75 339.03 L421.1 331.73 L411.3 310.26Z" fill="#45b8af"/><path d="M332.9 355 L342.7 352.17 L340.05 351.93 L330.25 354.51Z" fill="#3a80d6"/><path d="M249.2 366.16 L259 365.09 L256.35 364.1 L246.55 365.16Z" fill="#3977d3"/><path d="M281.25 363.49 L291.05 361.94 L288.4 360.97 L278.6 362.53Z" fill="#3976d3"/><path d="M323.1 357.38 L332.9 355 L330.25 354.51 L320.45 356.73Z" fill="#397cd5"/><path d="M429.05 348.34 L438.85 350.56 L436.2 347.97 L426.4 344.32Z" fill="#3970cf"/><path d="M381.9 326.45 L391.7 311.39 L389.05 317.18 L379.25 330.65Z" fill="#7cc584"/><path d="M451.3 352.81 L461.1 352.16 L458.45 350.47 L448.65 350.93Z" fill="#4455b6"/><path d="M416.6 333.89 L426.4 344.32 L423.75 339.03 L413.95 323.22Z" fill="#2fa6cf"/><path d="M313.3 359.45 L323.1 357.38 L320.45 356.73 L310.65 358.7Z" fill="#397ad5"/><path d="M271.45 364.86 L281.25 363.49 L278.6 362.53 L268.8 363.9Z" fill="#3976d3"/><path d="M303.5 361.29 L313.3 359.45 L310.65 358.7 L300.85 360.38Z" fill="#3978d4"/><path d="M441.5 352.84 L451.3 352.81 L448.65 350.93 L438.85 350.56Z" fill="#3e5ebf"/><path d="M401.5 303.41 L411.3 310.26 L408.65 300.97 L398.85 303.24Z" fill="#edea37"/><path d="M261.65 366.06 L271.45 364.86 L268.8 363.9 L259 365.09Z" fill="#3978d3"/><path d="M391.7 311.39 L401.5 303.41 L398.85 303.24 L389.05 317.18Z" fill="#e2e53d"/><path d="M355.15 348.17 L364.95 342.58 L362.3 343.95 L352.5 348.65Z" fill="#3699d4"/><path d="M364.95 342.58 L374.75 334.15 L372.1 337.14 L362.3 343.95Z" fill="#31acc8"/><path d="M345.35 352.21 L355.15 348.17 L352.5 348.65 L342.7 352.17Z" fill="#3a8cd8"/><path d="M293.7 362.9 L303.5 361.29 L300.85 360.38 L291.05 361.94Z" fill="#3978d4"/><path d="M419.25 341.65 L429.05 348.34 L426.4 344.32 L416.6 333.89Z" fill="#3a8ed8"/><path d="M251.85 367.12 L261.65 366.06 L259 365.09 L249.2 366.16Z" fill="#3979d5"/><path d="M335.55 355.35 L345.35 352.21 L342.7 352.17 L332.9 355Z" fill="#3a85d7"/><path d="M431.7 351.57 L441.5 352.84 L438.85 350.56 L429.05 348.34Z" fill="#396acb"/><path d="M374.75 334.15 L384.55 321.17 L381.9 326.45 L372.1 337.14Z" fill="#55bba3"/><path d="M283.9 364.44 L293.7 362.9 L291.05 361.94 L281.25 363.49Z" fill="#3978d4"/><path d="M325.75 357.93 L335.55 355.35 L332.9 355 L323.1 357.38Z" fill="#3a80d6"/><path d="M453.95 354.6 L463.75 353.8 L461.1 352.16 L451.3 352.81Z" fill="#4653b4"/><path d="M404.15 305.1 L413.95 323.22 L411.3 310.26 L401.5 303.41Z" fill="#d1dd47"/><path d="M315.95 360.13 L325.75 357.93 L323.1 357.38 L313.3 359.45Z" fill="#397dd5"/><path d="M274.1 365.79 L283.9 364.44 L281.25 363.49 L271.45 364.86Z" fill="#3978d4"/><path d="M444.15 354.92 L453.95 354.6 L451.3 352.81 L441.5 352.84Z" fill="#415abb"/><path d="M384.55 321.17 L394.35 307.82 L391.7 311.39 L381.9 326.45Z" fill="#b4d05a"/><path d="M306.15 362.05 L315.95 360.13 L313.3 359.45 L303.5 361.29Z" fill="#397bd5"/><path d="M421.9 347.31 L431.7 351.57 L429.05 348.34 L419.25 341.65Z" fill="#397ed6"/><path d="M264.3 367 L274.1 365.79 L271.45 364.86 L261.65 366.06Z" fill="#3979d5"/><path d="M406.8 312.65 L416.6 333.89 L413.95 323.22 L404.15 305.1Z" fill="#91c973"/><path d="M296.35 363.77 L306.15 362.05 L303.5 361.29 L293.7 362.9Z" fill="#397ad5"/><path d="M394.35 307.82 L404.15 305.1 L401.5 303.41 L391.7 311.39Z" fill="#edea37"/><path d="M357.8 347.27 L367.6 340.5 L364.95 342.58 L355.15 348.17Z" fill="#30a5cf"/><path d="M348 351.98 L357.8 347.27 L355.15 348.17 L345.35 352.21Z" fill="#3894d7"/><path d="M434.35 354.3 L444.15 354.92 L441.5 352.84 L431.7 351.57Z" fill="#3966c8"/><path d="M254.5 368.06 L264.3 367 L261.65 366.06 L251.85 367.12Z" fill="#397bd5"/><path d="M338.2 355.52 L348 351.98 L345.35 352.21 L335.55 355.35Z" fill="#3a8bd8"/><path d="M367.6 340.5 L377.4 330.09 L374.75 334.15 L364.95 342.58Z" fill="#3bb6b6"/><path d="M286.55 365.3 L296.35 363.77 L293.7 362.9 L283.9 364.44Z" fill="#397ad5"/><path d="M456.6 356.32 L466.4 355.41 L463.75 353.8 L453.95 354.6Z" fill="#4751b2"/><path d="M328.4 358.34 L338.2 355.52 L335.55 355.35 L325.75 357.93Z" fill="#3a85d7"/><path d="M409.45 324.96 L419.25 341.65 L416.6 333.89 L406.8 312.65Z" fill="#53bba5"/><path d="M276.75 366.67 L286.55 365.3 L283.9 364.44 L274.1 365.79Z" fill="#397ad5"/><path d="M318.6 360.71 L328.4 358.34 L325.75 357.93 L315.95 360.13Z" fill="#3a81d6"/><path d="M424.55 351.62 L434.35 354.3 L431.7 351.57 L421.9 347.31Z" fill="#3974d1"/><path d="M377.4 330.09 L387.2 315.78 L384.55 321.17 L374.75 334.15Z" fill="#80c680"/><path d="M446.8 356.86 L456.6 356.32 L453.95 354.6 L444.15 354.92Z" fill="#4357b8"/><path d="M308.8 362.74 L318.6 360.71 L315.95 360.13 L306.15 362.05Z" fill="#397ed6"/><path d="M266.95 367.89 L276.75 366.67 L274.1 365.79 L264.3 367Z" fill="#397cd5"/><path d="M412.1 335.86 L421.9 347.31 L419.25 341.65 L409.45 324.96Z" fill="#32acc7"/><path d="M437 356.7 L446.8 356.86 L444.15 354.92 L434.35 354.3Z" fill="#3c61c3"/><path d="M397 307.87 L406.8 312.65 L404.15 305.1 L394.35 307.82Z" fill="#edea37"/><path d="M299 364.53 L308.8 362.74 L306.15 362.05 L296.35 363.77Z" fill="#397dd5"/><path d="M387.2 315.78 L397 307.87 L394.35 307.82 L384.55 321.17Z" fill="#e3e53d"/><path d="M257.15 368.96 L266.95 367.89 L264.3 367 L254.5 368.06Z" fill="#397dd5"/><path d="M350.65 351.42 L360.45 345.84 L357.8 347.27 L348 351.98Z" fill="#339ed2"/><path d="M360.45 345.84 L370.25 337.55 L367.6 340.5 L357.8 347.27Z" fill="#34afc3"/><path d="M340.85 355.47 L350.65 351.42 L348 351.98 L338.2 355.52Z" fill="#3a91d8"/><path d="M459.25 357.99 L469.05 356.99 L466.4 355.41 L456.6 356.32Z" fill="#4750b1"/><path d="M289.2 366.11 L299 364.53 L296.35 363.77 L286.55 365.3Z" fill="#397dd5"/><path d="M331.05 358.61 L340.85 355.47 L338.2 355.52 L328.4 358.34Z" fill="#3a8ad7"/><path d="M414.75 344.06 L424.55 351.62 L421.9 347.31 L412.1 335.86Z" fill="#3895d6"/><path d="M427.2 355.07 L437 356.7 L434.35 354.3 L424.55 351.62Z" fill="#396dcd"/><path d="M370.25 337.55 L380.05 325.11 L377.4 330.09 L367.6 340.5Z" fill="#5abca0"/><path d="M279.4 367.51 L289.2 366.11 L286.55 365.3 L276.75 366.67Z" fill="#397dd5"/><path d="M449.45 358.7 L459.25 357.99 L456.6 356.32 L446.8 356.86Z" fill="#4455b6"/><path d="M321.25 361.17 L331.05 358.61 L328.4 358.34 L318.6 360.71Z" fill="#3a85d7"/><path d="M399.65 309.37 L409.45 324.96 L406.8 312.65 L397 307.87Z" fill="#dde240"/><path d="M311.45 363.34 L321.25 361.17 L318.6 360.71 L308.8 362.74Z" fill="#3a82d6"/><path d="M269.6 368.75 L279.4 367.51 L276.75 366.67 L266.95 367.89Z" fill="#397ed6"/><path d="M439.65 358.86 L449.45 358.7 L446.8 356.86 L437 356.7Z" fill="#3f5dbe"/><path d="M380.05 325.11 L389.85 312.4 L387.2 315.78 L377.4 330.09Z" fill="#b7d158"/><path d="M301.65 365.22 L311.45 363.34 L308.8 362.74 L299 364.53Z" fill="#3a80d6"/><path d="M417.4 350.13 L427.2 355.07 L424.55 351.62 L414.75 344.06Z" fill="#3a84d7"/><path d="M259.8 369.82 L269.6 368.75 L266.95 367.89 L257.15 368.96Z" fill="#3980d6"/><path d="M461.9 359.62 L471.7 358.55 L469.05 356.99 L459.25 357.99Z" fill="#484fb0"/><path d="M389.85 312.4 L399.65 309.37 L397 307.87 L387.2 315.78Z" fill="#edea37"/><path d="M402.3 315.27 L412.1 335.86 L409.45 324.96 L399.65 309.37Z" fill="#a2cd67"/><path d="M291.85 366.86 L301.65 365.22 L299 364.53 L289.2 366.11Z" fill="#397fd6"/><path d="M429.85 357.96 L439.65 358.86 L437 356.7 L427.2 355.07Z" fill="#3968c9"/><path d="M353.3 350.45 L363.1 343.74 L360.45 345.84 L350.65 351.42Z" fill="#2fa9cc"/><path d="M343.5 355.16 L353.3 350.45 L350.65 351.42 L340.85 355.47Z" fill="#359ad4"/><path d="M333.7 358.69 L343.5 355.16 L340.85 355.47 L331.05 358.61Z" fill="#3a90d8"/><path d="M363.1 343.74 L372.9 333.65 L370.25 337.55 L360.45 345.84Z" fill="#42b7b1"/><path d="M452.1 360.45 L461.9 359.62 L459.25 357.99 L449.45 358.7Z" fill="#4553b4"/><path d="M282.05 368.3 L291.85 366.86 L289.2 366.11 L279.4 367.51Z" fill="#3980d6"/><path d="M323.9 361.51 L333.7 358.69 L331.05 358.61 L321.25 361.17Z" fill="#3a8ad7"/><path d="M404.95 326.68 L414.75 344.06 L412.1 335.86 L402.3 315.27Z" fill="#62be99"/><path d="M314.1 363.84 L323.9 361.51 L321.25 361.17 L311.45 363.34Z" fill="#3a86d7"/><path d="M272.25 369.56 L282.05 368.3 L279.4 367.51 L269.6 368.75Z" fill="#3a80d6"/><path d="M372.9 333.65 L382.7 320.13 L380.05 325.11 L370.25 337.55Z" fill="#85c77c"/><path d="M442.3 360.86 L452.1 360.45 L449.45 358.7 L439.65 358.86Z" fill="#415abb"/><path d="M420.05 354.76 L429.85 357.96 L427.2 355.07 L417.4 350.13Z" fill="#3979d4"/><path d="M304.3 365.82 L314.1 363.84 L311.45 363.34 L301.65 365.22Z" fill="#3a84d6"/><path d="M262.45 370.65 L272.25 369.56 L269.6 368.75 L259.8 369.82Z" fill="#3a82d6"/><path d="M407.6 337.67 L417.4 350.13 L414.75 344.06 L404.95 326.68Z" fill="#37b2bd"/><path d="M464.55 361.22 L474.35 360.09 L471.7 358.55 L461.9 359.62Z" fill="#494eaf"/><path d="M392.5 312.33 L402.3 315.27 L399.65 309.37 L389.85 312.4Z" fill="#edea37"/><path d="M432.5 360.47 L442.3 360.86 L439.65 358.86 L429.85 357.96Z" fill="#3a65c7"/><path d="M382.7 320.13 L392.5 312.33 L389.85 312.4 L380.05 325.11Z" fill="#e4e53c"/><path d="M294.5 367.54 L304.3 365.82 L301.65 365.22 L291.85 366.86Z" fill="#3a83d6"/><path d="M346.15 354.51 L355.95 348.96 L353.3 350.45 L343.5 355.16Z" fill="#30a4d0"/><path d="M454.75 362.15 L464.55 361.22 L461.9 359.62 L452.1 360.45Z" fill="#4652b3"/><path d="M355.95 348.96 L365.75 340.84 L363.1 343.74 L353.3 350.45Z" fill="#36b2bd"/><path d="M336.35 358.56 L346.15 354.51 L343.5 355.16 L333.7 358.69Z" fill="#3797d5"/><path d="M284.7 369.03 L294.5 367.54 L291.85 366.86 L282.05 368.3Z" fill="#3a83d6"/><path d="M326.55 361.69 L336.35 358.56 L333.7 358.69 L323.9 361.51Z" fill="#3a8fd8"/><path d="M422.7 358.44 L432.5 360.47 L429.85 357.96 L420.05 354.76Z" fill="#3971cf"/><path d="M410.25 346.28 L420.05 354.76 L417.4 350.13 L407.6 337.67Z" fill="#339ed2"/><path d="M365.75 340.84 L375.55 328.99 L372.9 333.65 L363.1 343.74Z" fill="#61be9a"/><path d="M444.95 362.74 L454.75 362.15 L452.1 360.45 L442.3 360.86Z" fill="#4357b9"/><path d="M274.9 370.32 L284.7 369.03 L282.05 368.3 L272.25 369.56Z" fill="#3a83d6"/><path d="M316.75 364.22 L326.55 361.69 L323.9 361.51 L314.1 363.84Z" fill="#3a8ad7"/><path d="M395.15 313.74 L404.95 326.68 L402.3 315.27 L392.5 312.33Z" fill="#e8e73a"/><path d="M306.95 366.34 L316.75 364.22 L314.1 363.84 L304.3 365.82Z" fill="#3a87d7"/><path d="M467.2 362.79 L477 361.62 L474.35 360.09 L464.55 361.22Z" fill="#494dae"/><path d="M265.1 371.42 L274.9 370.32 L272.25 369.56 L262.45 370.65Z" fill="#3a85d7"/><path d="M435.15 362.72 L444.95 362.74 L442.3 360.86 L432.5 360.47Z" fill="#3d60c2"/><path d="M375.55 328.99 L385.35 316.97 L382.7 320.13 L372.9 333.65Z" fill="#bad255"/><path d="M297.15 368.15 L306.95 366.34 L304.3 365.82 L294.5 367.54Z" fill="#3a86d7"/><path d="M412.9 352.76 L422.7 358.44 L420.05 354.76 L410.25 346.28Z" fill="#3a8bd8"/><path d="M385.35 316.97 L395.15 313.74 L392.5 312.33 L382.7 320.13Z" fill="#edea37"/><path d="M457.4 363.8 L467.2 362.79 L464.55 361.22 L454.75 362.15Z" fill="#4750b2"/><path d="M397.8 318.19 L407.6 337.67 L404.95 326.68 L395.15 313.74Z" fill="#b2d05b"/><path d="M425.35 361.5 L435.15 362.72 L432.5 360.47 L422.7 358.44Z" fill="#396ccb"/><path d="M287.35 369.7 L297.15 368.15 L294.5 367.54 L284.7 369.03Z" fill="#3a86d7"/><path d="M348.8 353.69 L358.6 347.09 L355.95 348.96 L346.15 354.51Z" fill="#32adc6"/><path d="M339 358.36 L348.8 353.69 L346.15 354.51 L336.35 358.56Z" fill="#32a0d2"/><path d="M447.6 364.54 L457.4 363.8 L454.75 362.15 L444.95 362.74Z" fill="#4455b6"/><path d="M329.2 361.87 L339 358.36 L336.35 358.56 L326.55 361.69Z" fill="#3795d6"/><path d="M358.6 347.09 L368.4 337.35 L365.75 340.84 L355.95 348.96Z" fill="#48b9ac"/><path d="M277.55 371.03 L287.35 369.7 L284.7 369.03 L274.9 370.32Z" fill="#3a86d7"/><path d="M319.4 364.65 L329.2 361.87 L326.55 361.69 L316.75 364.22Z" fill="#3a8fd8"/><path d="M400.45 328.44 L410.25 346.28 L407.6 337.67 L397.8 318.19Z" fill="#73c28b"/><path d="M437.8 364.8 L447.6 364.54 L444.95 362.74 L435.15 362.72Z" fill="#3f5dbe"/><path d="M368.4 337.35 L378.2 324.55 L375.55 328.99 L365.75 340.84Z" fill="#8ac878"/><path d="M469.85 364.35 L479.65 363.13 L477 361.62 L467.2 362.79Z" fill="#4a4dae"/><path d="M309.6 366.93 L319.4 364.65 L316.75 364.22 L306.95 366.34Z" fill="#3a8bd8"/><path d="M267.75 372.15 L277.55 371.03 L274.9 370.32 L265.1 371.42Z" fill="#3a88d7"/><path d="M415.55 357.72 L425.35 361.5 L422.7 358.44 L412.9 352.76Z" fill="#397ed6"/><path d="M299.8 368.84 L309.6 366.93 L306.95 366.34 L297.15 368.15Z" fill="#3a8ad7"/><path d="M460.05 365.42 L469.85 364.35 L467.2 362.79 L457.4 363.8Z" fill="#484fb0"/><path d="M388 316.81 L397.8 318.19 L395.15 313.74 L385.35 316.97Z" fill="#edea37"/><path d="M378.2 324.55 L388 316.81 L385.35 316.97 L375.55 328.99Z" fill="#e5e63b"/><path d="M428 364.15 L437.8 364.8 L435.15 362.72 L425.35 361.5Z" fill="#3967c9"/><path d="M403.1 339.34 L412.9 352.76 L410.25 346.28 L400.45 328.44Z" fill="#3fb7b3"/><path d="M290 370.47 L299.8 368.84 L297.15 368.15 L287.35 369.7Z" fill="#3a89d7"/><path d="M450.25 366.27 L460.05 365.42 L457.4 363.8 L447.6 364.54Z" fill="#4554b5"/><path d="M341.65 357.86 L351.45 352.4 L348.8 353.69 L339 358.36Z" fill="#2fa9cd"/><path d="M351.45 352.4 L361.25 344.5 L358.6 347.09 L348.8 353.69Z" fill="#39b4b9"/><path d="M331.85 361.85 L341.65 357.86 L339 358.36 L329.2 361.87Z" fill="#349cd3"/><path d="M280.2 371.85 L290 370.47 L287.35 369.7 L277.55 371.03Z" fill="#3a89d7"/><path d="M322.05 364.93 L331.85 361.85 L329.2 361.87 L319.4 364.65Z" fill="#3894d7"/><path d="M418.2 361.67 L428 364.15 L425.35 361.5 L415.55 357.72Z" fill="#3975d2"/><path d="M361.25 344.5 L371.05 333.19 L368.4 337.35 L358.6 347.09Z" fill="#66bf96"/><path d="M440.45 366.74 L450.25 366.27 L447.6 364.54 L437.8 364.8Z" fill="#415abb"/><path d="M472.5 365.88 L482.3 364.64 L479.65 363.13 L469.85 364.35Z" fill="#4a4cad"/><path d="M405.75 348.3 L415.55 357.72 L412.9 352.76 L403.1 339.34Z" fill="#2fa7ce"/><path d="M312.25 367.41 L322.05 364.93 L319.4 364.65 L309.6 366.93Z" fill="#3a90d8"/><path d="M270.4 373.01 L280.2 371.85 L277.55 371.03 L267.75 372.15Z" fill="#3a8ad7"/><path d="M390.65 318.16 L400.45 328.44 L397.8 318.19 L388 316.81Z" fill="#edea37"/><path d="M462.7 367.01 L472.5 365.88 L469.85 364.35 L460.05 365.42Z" fill="#484fb0"/><path d="M302.45 369.46 L312.25 367.41 L309.6 366.93 L299.8 368.84Z" fill="#3a8dd8"/><path d="M430.65 366.51 L440.45 366.74 L437.8 364.8 L428 364.15Z" fill="#3a64c6"/><path d="M371.05 333.19 L380.85 321.61 L378.2 324.55 L368.4 337.35Z" fill="#bcd354"/><path d="M292.65 371.17 L302.45 369.46 L299.8 368.84 L290 370.47Z" fill="#3a8cd8"/><path d="M380.85 321.61 L390.65 318.16 L388 316.81 L378.2 324.55Z" fill="#edea37"/><path d="M452.9 367.95 L462.7 367.01 L460.05 365.42 L450.25 366.27Z" fill="#4652b3"/><path d="M408.4 355.19 L418.2 361.67 L415.55 357.72 L405.75 348.3Z" fill="#3992d7"/><path d="M420.85 364.93 L430.65 366.51 L428 364.15 L418.2 361.67Z" fill="#396fce"/><path d="M344.3 356.99 L354.1 350.54 L351.45 352.4 L341.65 357.86Z" fill="#34afc2"/><path d="M393.3 321.44 L403.1 339.34 L400.45 328.44 L390.65 318.16Z" fill="#c2d650"/><path d="M282.85 372.62 L292.65 371.17 L290 370.47 L280.2 371.85Z" fill="#3a8cd8"/><path d="M334.5 361.59 L344.3 356.99 L341.65 357.86 L331.85 361.85Z" fill="#30a5d0"/><path d="M443.1 368.58 L452.9 367.95 L450.25 366.27 L440.45 366.74Z" fill="#4257b9"/><path d="M354.1 350.54 L363.9 341.18 L361.25 344.5 L351.45 352.4Z" fill="#4ebaa8"/><path d="M475.15 367.41 L484.95 366.13 L482.3 364.64 L472.5 365.88Z" fill="#4a4cac"/><path d="M324.7 365.05 L334.5 361.59 L331.85 361.85 L322.05 364.93Z" fill="#359bd4"/><path d="M273.05 373.82 L282.85 372.62 L280.2 371.85 L270.4 373.01Z" fill="#3a8dd8"/><path d="M314.9 367.77 L324.7 365.05 L322.05 364.93 L312.25 367.41Z" fill="#3895d6"/><path d="M465.35 368.58 L475.15 367.41 L472.5 365.88 L462.7 367.01Z" fill="#494eaf"/><path d="M363.9 341.18 L373.7 329.04 L371.05 333.19 L361.25 344.5Z" fill="#8ec975"/><path d="M433.3 368.66 L443.1 368.58 L440.45 366.74 L430.65 366.51Z" fill="#3d60c2"/><path d="M305.1 369.97 L314.9 367.77 L312.25 367.41 L302.45 369.46Z" fill="#3a91d8"/><path d="M395.95 330.33 L405.75 348.3 L403.1 339.34 L393.3 321.44Z" fill="#84c77d"/><path d="M411.05 360.51 L420.85 364.93 L418.2 361.67 L408.4 355.19Z" fill="#3a84d6"/><path d="M455.55 369.59 L465.35 368.58 L462.7 367.01 L452.9 367.95Z" fill="#4751b2"/><path d="M295.3 371.8 L305.1 369.97 L302.45 369.46 L292.65 371.17Z" fill="#3a8fd8"/><path d="M373.7 329.04 L383.5 321.31 L380.85 321.61 L371.05 333.19Z" fill="#e5e63b"/><path d="M383.5 321.31 L393.3 321.44 L390.65 318.16 L380.85 321.61Z" fill="#edea37"/><path d="M423.5 367.73 L433.3 368.66 L430.65 366.51 L420.85 364.93Z" fill="#396acb"/><path d="M398.6 340.92 L408.4 355.19 L405.75 348.3 L395.95 330.33Z" fill="#4fbaa8"/><path d="M285.5 373.32 L295.3 371.8 L292.65 371.17 L282.85 372.62Z" fill="#3a8fd8"/><path d="M445.75 370.35 L455.55 369.59 L452.9 367.95 L443.1 368.58Z" fill="#4456b7"/><path d="M477.8 368.92 L487.6 367.62 L484.95 366.13 L475.15 367.41Z" fill="#4b4bac"/><path d="M337.15 361.03 L346.95 355.68 L344.3 356.99 L334.5 361.59Z" fill="#31acc8"/><path d="M346.95 355.68 L356.75 348.04 L354.1 350.54 L344.3 356.99Z" fill="#3db6b4"/><path d="M327.35 364.96 L337.15 361.03 L334.5 361.59 L324.7 365.05Z" fill="#31a2d1"/><path d="M275.7 374.57 L285.5 373.32 L282.85 372.62 L273.05 373.82Z" fill="#3a90d8"/><path d="M317.55 367.98 L327.35 364.96 L324.7 365.05 L314.9 367.77Z" fill="#359ad4"/><path d="M435.95 370.67 L445.75 370.35 L443.1 368.58 L433.3 368.66Z" fill="#3f5dbe"/><path d="M356.75 348.04 L366.55 337.28 L363.9 341.18 L354.1 350.54Z" fill="#6cc191"/><path d="M413.7 364.74 L423.5 367.73 L420.85 364.93 L411.05 360.51Z" fill="#397ad5"/><path d="M468 370.13 L477.8 368.92 L475.15 367.41 L465.35 368.58Z" fill="#494dae"/><path d="M401.25 350.13 L411.05 360.51 L408.4 355.19 L398.6 340.92Z" fill="#33adc5"/><path d="M307.75 370.38 L317.55 367.98 L314.9 367.77 L305.1 369.97Z" fill="#3796d6"/><path d="M386.15 322.6 L395.95 330.33 L393.3 321.44 L383.5 321.31Z" fill="#edea37"/><path d="M458.2 371.2 L468 370.13 L465.35 368.58 L455.55 369.59Z" fill="#4750b1"/><path d="M366.55 337.28 L376.35 326.24 L373.7 329.04 L363.9 341.18Z" fill="#bed353"/><path d="M426.15 370.21 L435.95 370.67 L433.3 368.66 L423.5 367.73Z" fill="#3967c8"/><path d="M297.95 372.34 L307.75 370.38 L305.1 369.97 L295.3 371.8Z" fill="#3993d7"/><path d="M376.35 326.24 L386.15 322.6 L383.5 321.31 L373.7 329.04Z" fill="#edea37"/><path d="M448.4 372.06 L458.2 371.2 L455.55 369.59 L445.75 370.35Z" fill="#4554b5"/><path d="M288.15 373.95 L297.95 372.34 L295.3 371.8 L285.5 373.32Z" fill="#3993d7"/><path d="M480.45 370.42 L490.25 369.11 L487.6 367.62 L477.8 368.92Z" fill="#4b4bac"/><path d="M403.9 357.42 L413.7 364.74 L411.05 360.51 L401.25 350.13Z" fill="#359bd4"/><path d="M416.35 368.23 L426.15 370.21 L423.5 367.73 L413.7 364.74Z" fill="#3973d0"/><path d="M339.8 360.12 L349.6 353.84 L346.95 355.68 L337.15 361.03Z" fill="#37b2bc"/><path d="M388.8 325.02 L398.6 340.92 L395.95 330.33 L386.15 322.6Z" fill="#d1dd47"/><path d="M438.6 372.56 L448.4 372.06 L445.75 370.35 L435.95 370.67Z" fill="#415abc"/><path d="M330 364.63 L339.8 360.12 L337.15 361.03 L327.35 364.96Z" fill="#2faacc"/><path d="M278.35 375.27 L288.15 373.95 L285.5 373.32 L275.7 374.57Z" fill="#3993d7"/><path d="M470.65 371.66 L480.45 370.42 L477.8 368.92 L468 370.13Z" fill="#4a4dae"/><path d="M349.6 353.84 L359.4 344.88 L356.75 348.04 L346.95 355.68Z" fill="#54bba4"/><path d="M320.2 368.02 L330 364.63 L327.35 364.96 L317.55 367.98Z" fill="#32a1d1"/><path d="M310.4 370.66 L320.2 368.02 L317.55 367.98 L307.75 370.38Z" fill="#359bd4"/><path d="M460.85 372.78 L470.65 371.66 L468 370.13 L458.2 371.2Z" fill="#484fb0"/><path d="M359.4 344.88 L369.2 333.46 L366.55 337.28 L356.75 348.04Z" fill="#93ca72"/><path d="M428.8 372.45 L438.6 372.56 L435.95 370.67 L426.15 370.21Z" fill="#3a64c6"/><path d="M300.6 372.78 L310.4 370.66 L307.75 370.38 L297.95 372.34Z" fill="#3698d5"/><path d="M391.45 332.43 L401.25 350.13 L398.6 340.92 L388.8 325.02Z" fill="#98cb6e"/><path d="M406.55 363.11 L416.35 368.23 L413.7 364.74 L403.9 357.42Z" fill="#3a8bd8"/><path d="M451.05 373.72 L460.85 372.78 L458.2 371.2 L448.4 372.06Z" fill="#4653b4"/><path d="M369.2 333.46 L379 325.82 L376.35 326.24 L366.55 337.28Z" fill="#e5e63b"/><path d="M379 325.82 L388.8 325.02 L386.15 322.6 L376.35 326.24Z" fill="#edea37"/><path d="M483.1 371.92 L492.9 370.59 L490.25 369.11 L480.45 370.42Z" fill="#4b4bab"/><path d="M290.8 374.5 L300.6 372.78 L297.95 372.34 L288.15 373.95Z" fill="#3797d6"/><path d="M419 371.2 L428.8 372.45 L426.15 370.21 L416.35 368.23Z" fill="#396ecd"/><path d="M441.25 374.37 L451.05 373.72 L448.4 372.06 L438.6 372.56Z" fill="#4258b9"/><path d="M473.3 373.18 L483.1 371.92 L480.45 370.42 L470.65 371.66Z" fill="#4a4cad"/><path d="M281 375.9 L290.8 374.5 L288.15 373.95 L278.35 375.27Z" fill="#3797d6"/><path d="M394.1 342.48 L403.9 357.42 L401.25 350.13 L391.45 332.43Z" fill="#5fbd9c"/><path d="M332.65 364.01 L342.45 358.79 L339.8 360.12 L330 364.63Z" fill="#34afc2"/><path d="M342.45 358.79 L352.25 351.43 L349.6 353.84 L339.8 360.12Z" fill="#44b8af"/><path d="M322.85 367.85 L332.65 364.01 L330 364.63 L320.2 368.02Z" fill="#2ea8ce"/><path d="M463.5 374.35 L473.3 373.18 L470.65 371.66 L460.85 372.78Z" fill="#484fb0"/><path d="M431.45 374.53 L441.25 374.37 L438.6 372.56 L428.8 372.45Z" fill="#3d60c2"/><path d="M352.25 351.43 L362.05 341.28 L359.4 344.88 L349.6 353.84Z" fill="#72c28c"/><path d="M313.05 370.8 L322.85 367.85 L320.2 368.02 L310.4 370.66Z" fill="#32a1d1"/><path d="M409.2 367.64 L419 371.2 L416.35 368.23 L406.55 363.11Z" fill="#397fd6"/><path d="M303.25 373.11 L313.05 370.8 L310.4 370.66 L300.6 372.78Z" fill="#349dd3"/><path d="M381.65 327.04 L391.45 332.43 L388.8 325.02 L379 325.82Z" fill="#edea37"/><path d="M453.7 375.35 L463.5 374.35 L460.85 372.78 L451.05 373.72Z" fill="#4652b3"/><path d="M396.75 351.81 L406.55 363.11 L403.9 357.42 L394.1 342.48Z" fill="#38b4ba"/><path d="M362.05 341.28 L371.85 330.84 L369.2 333.46 L359.4 344.88Z" fill="#c0d552"/><path d="M485.75 373.41 L495.55 372.06 L492.9 370.59 L483.1 371.92Z" fill="#4b4aab"/><path d="M421.65 373.8 L431.45 374.53 L428.8 372.45 L419 371.2Z" fill="#396aca"/><path d="M293.45 374.97 L303.25 373.11 L300.6 372.78 L290.8 374.5Z" fill="#359bd4"/><path d="M371.85 330.84 L381.65 327.04 L379 325.82 L369.2 333.46Z" fill="#edea37"/><path d="M443.9 376.12 L453.7 375.35 L451.05 373.72 L441.25 374.37Z" fill="#4356b8"/><path d="M475.95 374.69 L485.75 373.41 L483.1 371.92 L473.3 373.18Z" fill="#4a4cad"/><path d="M283.65 376.45 L293.45 374.97 L290.8 374.5 L281 375.9Z" fill="#359bd4"/><path d="M411.85 371.37 L421.65 373.8 L419 371.2 L409.2 367.64Z" fill="#3977d3"/><path d="M399.4 359.44 L409.2 367.64 L406.55 363.11 L396.75 351.81Z" fill="#30a4d0"/><path d="M434.1 376.49 L443.9 376.12 L441.25 374.37 L431.45 374.53Z" fill="#3f5dbf"/><path d="M466.15 375.89 L475.95 374.69 L473.3 373.18 L463.5 374.35Z" fill="#494eaf"/><path d="M335.3 363.06 L345.1 356.98 L342.45 358.79 L332.65 364.01Z" fill="#3ab6b6"/><path d="M384.3 328.93 L394.1 342.48 L391.45 332.43 L381.65 327.04Z" fill="#dfe33f"/><path d="M325.5 367.46 L335.3 363.06 L332.65 364.01 L322.85 367.85Z" fill="#33adc5"/><path d="M345.1 356.98 L354.9 348.47 L352.25 351.43 L342.45 358.79Z" fill="#5bbd9f"/><path d="M315.7 370.76 L325.5 367.46 L322.85 367.85 L313.05 370.8Z" fill="#2ea8ce"/><path d="M456.35 376.96 L466.15 375.89 L463.5 374.35 L453.7 375.35Z" fill="#4751b2"/><path d="M354.9 348.47 L364.7 337.8 L362.05 341.28 L352.25 351.43Z" fill="#99cb6e"/><path d="M424.3 376.16 L434.1 376.49 L431.45 374.53 L421.65 373.8Z" fill="#3967c8"/><path d="M305.9 373.32 L315.7 370.76 L313.05 370.8 L303.25 373.11Z" fill="#31a3d0"/><path d="M488.4 374.89 L498.2 373.53 L495.55 372.06 L485.75 373.41Z" fill="#4b4aab"/><path d="M296.1 375.33 L305.9 373.32 L303.25 373.11 L293.45 374.97Z" fill="#32a0d2"/><path d="M446.55 377.82 L456.35 376.96 L453.7 375.35 L443.9 376.12Z" fill="#4455b6"/><path d="M364.7 337.8 L374.5 330.35 L371.85 330.84 L362.05 341.28Z" fill="#e6e63b"/><path d="M374.5 330.35 L384.3 328.93 L381.65 327.04 L371.85 330.84Z" fill="#edea37"/><path d="M402.05 365.51 L411.85 371.37 L409.2 367.64 L399.4 359.44Z" fill="#3992d7"/><path d="M386.95 334.82 L396.75 351.81 L394.1 342.48 L384.3 328.93Z" fill="#accf60"/><path d="M478.6 376.2 L488.4 374.89 L485.75 373.41 L475.95 374.69Z" fill="#4a4cac"/><path d="M414.5 374.53 L424.3 376.16 L421.65 373.8 L411.85 371.37Z" fill="#3972cf"/><path d="M286.3 376.93 L296.1 375.33 L293.45 374.97 L283.65 376.45Z" fill="#339fd2"/><path d="M436.75 378.35 L446.55 377.82 L443.9 376.12 L434.1 376.49Z" fill="#405bbc"/><path d="M468.8 377.42 L478.6 376.2 L475.95 374.69 L466.15 375.89Z" fill="#494eae"/><path d="M328.15 366.79 L337.95 361.72 L335.3 363.06 L325.5 367.46Z" fill="#38b3bb"/><path d="M389.6 344.08 L399.4 359.44 L396.75 351.81 L386.95 334.82Z" fill="#72c28c"/><path d="M337.95 361.72 L347.75 354.68 L345.1 356.98 L335.3 363.06Z" fill="#4dbaa9"/><path d="M459 378.53 L468.8 377.42 L466.15 375.89 L456.35 376.96Z" fill="#4750b1"/><path d="M318.35 370.52 L328.15 366.79 L325.5 367.46 L315.7 370.76Z" fill="#32adc6"/><path d="M426.95 378.32 L436.75 378.35 L434.1 376.49 L424.3 376.16Z" fill="#3a64c6"/><path d="M347.75 354.68 L357.55 345.17 L354.9 348.47 L345.1 356.98Z" fill="#7ac486"/><path d="M491.05 376.37 L500.85 374.99 L498.2 373.53 L488.4 374.89Z" fill="#4c4aab"/><path d="M404.7 370.36 L414.5 374.53 L411.85 371.37 L402.05 365.51Z" fill="#3a86d7"/><path d="M308.55 373.37 L318.35 370.52 L315.7 370.76 L305.9 373.32Z" fill="#2fa9cd"/><path d="M449.2 379.47 L459 378.53 L456.35 376.96 L446.55 377.82Z" fill="#4554b5"/><path d="M377.15 331.48 L386.95 334.82 L384.3 328.93 L374.5 330.35Z" fill="#edea37"/><path d="M357.55 345.17 L367.35 335.4 L364.7 337.8 L354.9 348.47Z" fill="#c3d650"/><path d="M298.75 375.58 L308.55 373.37 L305.9 373.32 L296.1 375.33Z" fill="#30a5cf"/><path d="M481.25 377.69 L491.05 376.37 L488.4 374.89 L478.6 376.2Z" fill="#4b4bac"/><path d="M417.15 377.29 L426.95 378.32 L424.3 376.16 L414.5 374.53Z" fill="#396dcc"/><path d="M392.25 353.36 L402.05 365.51 L399.4 359.44 L389.6 344.08Z" fill="#44b8af"/><path d="M367.35 335.4 L377.15 331.48 L374.5 330.35 L364.7 337.8Z" fill="#edea37"/><path d="M439.4 380.13 L449.2 379.47 L446.55 377.82 L436.75 378.35Z" fill="#4259ba"/><path d="M288.95 377.31 L298.75 375.58 L296.1 375.33 L286.3 376.93Z" fill="#30a4d0"/><path d="M471.45 378.94 L481.25 377.69 L478.6 376.2 L468.8 377.42Z" fill="#494dae"/><path d="M461.65 380.09 L471.45 378.94 L468.8 377.42 L459 378.53Z" fill="#484fb0"/><path d="M429.6 380.34 L439.4 380.13 L436.75 378.35 L426.95 378.32Z" fill="#3c61c2"/><path d="M407.35 374.35 L417.15 377.29 L414.5 374.53 L404.7 370.36Z" fill="#397dd5"/><path d="M394.9 361.28 L404.7 370.36 L402.05 365.51 L392.25 353.36Z" fill="#31acc8"/><path d="M330.8 365.81 L340.6 359.97 L337.95 361.72 L328.15 366.79Z" fill="#44b8af"/><path d="M379.8 333.08 L389.6 344.08 L386.95 334.82 L377.15 331.48Z" fill="#ebe938"/><path d="M493.7 377.84 L503.5 376.46 L500.85 374.99 L491.05 376.37Z" fill="#4c4aaa"/><path d="M321 370.07 L330.8 365.81 L328.15 366.79 L318.35 370.52Z" fill="#37b2bd"/><path d="M340.6 359.97 L350.4 351.93 L347.75 354.68 L337.95 361.72Z" fill="#65bf97"/><path d="M311.2 373.26 L321 370.07 L318.35 370.52 L308.55 373.37Z" fill="#32adc6"/><path d="M451.85 381.09 L461.65 380.09 L459 378.53 L449.2 379.47Z" fill="#4653b4"/><path d="M350.4 351.93 L360.2 342.05 L357.55 345.17 L347.75 354.68Z" fill="#a0cc69"/><path d="M483.9 379.18 L493.7 377.84 L491.05 376.37 L481.25 377.69Z" fill="#4b4bac"/><path d="M419.8 379.76 L429.6 380.34 L426.95 378.32 L417.15 377.29Z" fill="#396aca"/><path d="M301.4 375.71 L311.2 373.26 L308.55 373.37 L298.75 375.58Z" fill="#30aacb"/><path d="M442.05 381.86 L451.85 381.09 L449.2 379.47 L439.4 380.13Z" fill="#4357b9"/><path d="M360.2 342.05 L370 334.89 L367.35 335.4 L357.55 345.17Z" fill="#e7e73a"/><path d="M370 334.89 L379.8 333.08 L377.15 331.48 L367.35 335.4Z" fill="#edea37"/><path d="M474.1 380.45 L483.9 379.18 L481.25 377.69 L471.45 378.94Z" fill="#4a4dae"/><path d="M291.6 377.6 L301.4 375.71 L298.75 375.58 L288.95 377.31Z" fill="#2fa9cd"/><path d="M382.45 337.56 L392.25 353.36 L389.6 344.08 L379.8 333.08Z" fill="#bed453"/><path d="M397.55 367.7 L407.35 374.35 L404.7 370.36 L394.9 361.28Z" fill="#359bd4"/><path d="M410 377.72 L419.8 379.76 L417.15 377.29 L407.35 374.35Z" fill="#3976d2"/><path d="M432.25 382.25 L442.05 381.86 L439.4 380.13 L429.6 380.34Z" fill="#3e5ec0"/><path d="M464.3 381.64 L474.1 380.45 L471.45 378.94 L461.65 380.09Z" fill="#484fb0"/><path d="M496.35 379.31 L506.15 377.92 L503.5 376.46 L493.7 377.84Z" fill="#4c4aaa"/><path d="M454.5 382.69 L464.3 381.64 L461.65 380.09 L451.85 381.09Z" fill="#4652b3"/><path d="M333.45 364.48 L343.25 357.79 L340.6 359.97 L330.8 365.81Z" fill="#57bca2"/><path d="M323.65 369.35 L333.45 364.48 L330.8 365.81 L321 370.07Z" fill="#3eb7b3"/><path d="M422.45 382.01 L432.25 382.25 L429.6 380.34 L419.8 379.76Z" fill="#3967c8"/><path d="M385.1 345.81 L394.9 361.28 L392.25 353.36 L382.45 337.56Z" fill="#85c77c"/><path d="M486.55 380.66 L496.35 379.31 L493.7 377.84 L483.9 379.18Z" fill="#4b4bac"/><path d="M313.85 372.96 L323.65 369.35 L321 370.07 L311.2 373.26Z" fill="#36b2be"/><path d="M343.25 357.79 L353.05 348.96 L350.4 351.93 L340.6 359.97Z" fill="#82c67f"/><path d="M400.2 372.89 L410 377.72 L407.35 374.35 L397.55 367.7Z" fill="#3a8dd8"/><path d="M304.05 375.69 L313.85 372.96 L311.2 373.26 L301.4 375.71Z" fill="#33aec4"/><path d="M444.7 383.54 L454.5 382.69 L451.85 381.09 L442.05 381.86Z" fill="#4456b7"/><path d="M372.65 335.93 L382.45 337.56 L379.8 333.08 L370 334.89Z" fill="#edea37"/><path d="M353.05 348.96 L362.85 339.92 L360.2 342.05 L350.4 351.93Z" fill="#c7d84d"/><path d="M476.75 381.95 L486.55 380.66 L483.9 379.18 L474.1 380.45Z" fill="#4a4cad"/><path d="M412.65 380.65 L422.45 382.01 L419.8 379.76 L410 377.72Z" fill="#3971cf"/><path d="M362.85 339.92 L372.65 335.93 L370 334.89 L360.2 342.05Z" fill="#edea37"/><path d="M294.25 377.78 L304.05 375.69 L301.4 375.71 L291.6 377.6Z" fill="#31acc7"/><path d="M387.75 354.85 L397.55 367.7 L394.9 361.28 L385.1 345.81Z" fill="#55bba3"/><path d="M434.9 384.09 L444.7 383.54 L442.05 381.86 L432.25 382.25Z" fill="#405cbd"/><path d="M466.95 383.17 L476.75 381.95 L474.1 380.45 L464.3 381.64Z" fill="#494eaf"/><path d="M499 380.77 L508.8 379.37 L506.15 377.92 L496.35 379.31Z" fill="#4c4aaa"/><path d="M457.15 384.26 L466.95 383.17 L464.3 381.64 L454.5 382.69Z" fill="#4751b2"/><path d="M425.1 384.11 L434.9 384.09 L432.25 382.25 L422.45 382.01Z" fill="#3a64c6"/><path d="M402.85 377.16 L412.65 380.65 L410 377.72 L400.2 372.89Z" fill="#3a83d6"/><path d="M489.2 382.14 L499 380.77 L496.35 379.31 L486.55 380.66Z" fill="#4b4bab"/><path d="M375.3 337.4 L385.1 345.81 L382.45 337.56 L372.65 335.93Z" fill="#edea37"/><path d="M326.3 368.36 L336.1 362.8 L333.45 364.48 L323.65 369.35Z" fill="#4fbaa7"/><path d="M390.4 362.95 L400.2 372.89 L397.55 367.7 L387.75 354.85Z" fill="#37b2bd"/><path d="M336.1 362.8 L345.9 355.28 L343.25 357.79 L333.45 364.48Z" fill="#70c28e"/><path d="M316.5 372.45 L326.3 368.36 L323.65 369.35 L313.85 372.96Z" fill="#3cb6b5"/><path d="M447.35 385.19 L457.15 384.26 L454.5 382.69 L444.7 383.54Z" fill="#4455b6"/><path d="M479.4 383.45 L489.2 382.14 L486.55 380.66 L476.75 381.95Z" fill="#4a4cad"/><path d="M306.7 375.51 L316.5 372.45 L313.85 372.96 L304.05 375.69Z" fill="#37b2bd"/><path d="M345.9 355.28 L355.7 346.22 L353.05 348.96 L343.25 357.79Z" fill="#a8ce63"/><path d="M415.3 383.25 L425.1 384.11 L422.45 382.01 L412.65 380.65Z" fill="#396dcc"/><path d="M365.5 339.43 L375.3 337.4 L372.65 335.93 L362.85 339.92Z" fill="#edea37"/><path d="M355.7 346.22 L365.5 339.43 L362.85 339.92 L353.05 348.96Z" fill="#e9e839"/><path d="M296.9 377.83 L306.7 375.51 L304.05 375.69 L294.25 377.78Z" fill="#35b0c1"/><path d="M437.55 385.85 L447.35 385.19 L444.7 383.54 L434.9 384.09Z" fill="#415abb"/><path d="M469.6 384.68 L479.4 383.45 L476.75 381.95 L466.95 383.17Z" fill="#494eaf"/><path d="M501.65 382.24 L511.45 380.83 L508.8 379.37 L499 380.77Z" fill="#4c49aa"/><path d="M377.95 340.7 L387.75 354.85 L385.1 345.81 L375.3 337.4Z" fill="#cfdc49"/><path d="M393.05 369.69 L402.85 377.16 L400.2 372.89 L390.4 362.95Z" fill="#30a5cf"/><path d="M405.5 380.75 L415.3 383.25 L412.65 380.65 L402.85 377.16Z" fill="#397bd5"/><path d="M459.8 385.82 L469.6 384.68 L466.95 383.17 L457.15 384.26Z" fill="#4750b1"/><path d="M427.75 386.09 L437.55 385.85 L434.9 384.09 L425.1 384.11Z" fill="#3c61c3"/><path d="M491.85 383.61 L501.65 382.24 L499 380.77 L489.2 382.14Z" fill="#4b4bab"/><path d="M450 386.81 L459.8 385.82 L457.15 384.26 L447.35 385.19Z" fill="#4554b5"/><path d="M417.95 385.61 L427.75 386.09 L425.1 384.11 L415.3 383.25Z" fill="#396aca"/><path d="M482.05 384.93 L491.85 383.61 L489.2 382.14 L479.4 383.45Z" fill="#4a4cad"/><path d="M328.95 367.07 L338.75 360.78 L336.1 362.8 L326.3 368.36Z" fill="#63be99"/><path d="M319.15 371.72 L328.95 367.07 L326.3 368.36 L316.5 372.45Z" fill="#4bb9aa"/><path d="M338.75 360.78 L348.55 352.66 L345.9 355.28 L336.1 362.8Z" fill="#8dc976"/><path d="M380.6 347.75 L390.4 362.95 L387.75 354.85 L377.95 340.7Z" fill="#9bcb6c"/><path d="M309.35 375.17 L319.15 371.72 L316.5 372.45 L306.7 375.51Z" fill="#3db6b4"/><path d="M440.2 387.57 L450 386.81 L447.35 385.19 L437.55 385.85Z" fill="#4258ba"/><path d="M368.15 340.38 L377.95 340.7 L375.3 337.4 L365.5 339.43Z" fill="#edea37"/><path d="M395.7 375.21 L405.5 380.75 L402.85 377.16 L393.05 369.69Z" fill="#3895d6"/><path d="M472.25 386.19 L482.05 384.93 L479.4 383.45 L469.6 384.68Z" fill="#494eae"/><path d="M348.55 352.66 L358.35 344.38 L355.7 346.22 L345.9 355.28Z" fill="#ccda4a"/><path d="M299.55 377.75 L309.35 375.17 L306.7 375.51 L296.9 377.83Z" fill="#38b4ba"/><path d="M358.35 344.38 L368.15 340.38 L365.5 339.43 L355.7 346.22Z" fill="#edea37"/><path d="M504.3 383.69 L514.1 382.28 L511.45 380.83 L501.65 382.24Z" fill="#4c49aa"/><path d="M408.15 383.86 L417.95 385.61 L415.3 383.25 L405.5 380.75Z" fill="#3975d2"/><path d="M430.4 387.97 L440.2 387.57 L437.55 385.85 L427.75 386.09Z" fill="#3d5fc1"/><path d="M462.45 387.36 L472.25 386.19 L469.6 384.68 L459.8 385.82Z" fill="#4850b1"/><path d="M383.25 356.35 L393.05 369.69 L390.4 362.95 L380.6 347.75Z" fill="#68c094"/><path d="M494.5 385.08 L504.3 383.69 L501.65 382.24 L491.85 383.61Z" fill="#4b4aab"/><path d="M452.65 388.4 L462.45 387.36 L459.8 385.82 L450 386.81Z" fill="#4653b4"/><path d="M420.6 387.8 L430.4 387.97 L427.75 386.09 L417.95 385.61Z" fill="#3967c9"/><path d="M484.7 386.41 L494.5 385.08 L491.85 383.61 L482.05 384.93Z" fill="#4a4cac"/><path d="M398.35 379.77 L408.15 383.86 L405.5 380.75 L395.7 375.21Z" fill="#3a89d7"/><path d="M370.8 341.81 L380.6 347.75 L377.95 340.7 L368.15 340.38Z" fill="#edea37"/><path d="M442.85 389.24 L452.65 388.4 L450 386.81 L440.2 387.57Z" fill="#4357b8"/><path d="M321.8 370.74 L331.6 365.5 L328.95 367.07 L319.15 371.72Z" fill="#5bbd9f"/><path d="M331.6 365.5 L341.4 358.54 L338.75 360.78 L328.95 367.07Z" fill="#7bc584"/><path d="M474.9 387.69 L484.7 386.41 L482.05 384.93 L472.25 386.19Z" fill="#494dae"/><path d="M385.9 364.5 L395.7 375.21 L393.05 369.69 L383.25 356.35Z" fill="#41b7b1"/><path d="M312 374.63 L321.8 370.74 L319.15 371.72 L309.35 375.17Z" fill="#4ab9ab"/><path d="M341.4 358.54 L351.2 350.31 L348.55 352.66 L338.75 360.78Z" fill="#b0d05c"/><path d="M410.8 386.61 L420.6 387.8 L417.95 385.61 L408.15 383.86Z" fill="#3971cf"/><path d="M506.95 385.15 L516.75 383.73 L514.1 382.28 L504.3 383.69Z" fill="#4c49aa"/><path d="M302.2 377.53 L312 374.63 L309.35 375.17 L299.55 377.75Z" fill="#3fb7b2"/><path d="M361 343.96 L370.8 341.81 L368.15 340.38 L358.35 344.38Z" fill="#edea37"/><path d="M351.2 350.31 L361 343.96 L358.35 344.38 L348.55 352.66Z" fill="#ebe938"/><path d="M433.05 389.78 L442.85 389.24 L440.2 387.57 L430.4 387.97Z" fill="#3f5dbe"/><path d="M465.1 388.89 L474.9 387.69 L472.25 386.19 L462.45 387.36Z" fill="#484fb0"/><path d="M497.15 386.54 L506.95 385.15 L504.3 383.69 L494.5 385.08Z" fill="#4b4aab"/><path d="M373.45 344.23 L383.25 356.35 L380.6 347.75 L370.8 341.81Z" fill="#dee340"/><path d="M455.3 389.97 L465.1 388.89 L462.45 387.36 L452.65 388.4Z" fill="#4652b3"/><path d="M423.25 389.85 L433.05 389.78 L430.4 387.97 L420.6 387.8Z" fill="#3965c7"/><path d="M401 383.62 L410.8 386.61 L408.15 383.86 L398.35 379.77Z" fill="#3a81d6"/><path d="M388.55 371.5 L398.35 379.77 L395.7 375.21 L385.9 364.5Z" fill="#32acc7"/><path d="M487.35 387.89 L497.15 386.54 L494.5 385.08 L484.7 386.41Z" fill="#4b4bac"/><path d="M445.5 390.88 L455.3 389.97 L452.65 388.4 L442.85 389.24Z" fill="#4456b7"/><path d="M477.55 389.18 L487.35 387.89 L484.7 386.41 L474.9 387.69Z" fill="#4a4dae"/><path d="M413.45 389.1 L423.25 389.85 L420.6 387.8 L410.8 386.61Z" fill="#396dcc"/><path d="M324.45 369.52 L334.25 363.68 L331.6 365.5 L321.8 370.74Z" fill="#71c28d"/><path d="M509.6 386.61 L519.4 385.18 L516.75 383.73 L506.95 385.15Z" fill="#4c49aa"/><path d="M314.65 373.9 L324.45 369.52 L321.8 370.74 L312 374.63Z" fill="#59bca1"/><path d="M334.25 363.68 L344.05 356.28 L341.4 358.54 L331.6 365.5Z" fill="#99cb6d"/><path d="M363.65 344.84 L373.45 344.23 L370.8 341.81 L361 343.96Z" fill="#edea37"/><path d="M435.7 391.54 L445.5 390.88 L442.85 389.24 L433.05 389.78Z" fill="#405bbd"/><path d="M376.1 350.01 L385.9 364.5 L383.25 356.35 L373.45 344.23Z" fill="#b1d05c"/><path d="M467.75 390.4 L477.55 389.18 L474.9 387.69 L465.1 388.89Z" fill="#484fb0"/><path d="M304.85 377.16 L314.65 373.9 L312 374.63 L302.2 377.53Z" fill="#4cb9aa"/><path d="M344.05 356.28 L353.85 348.79 L351.2 350.31 L341.4 358.54Z" fill="#d2dd47"/><path d="M353.85 348.79 L363.65 344.84 L361 343.96 L351.2 350.31Z" fill="#edea37"/><path d="M391.2 377.34 L401 383.62 L398.35 379.77 L388.55 371.5Z" fill="#339ed2"/><path d="M499.8 388 L509.6 386.61 L506.95 385.15 L497.15 386.54Z" fill="#4b4aab"/><path d="M403.65 386.93 L413.45 389.1 L410.8 386.61 L401 383.62Z" fill="#397ad5"/><path d="M457.95 391.52 L467.75 390.4 L465.1 388.89 L455.3 389.97Z" fill="#4751b3"/><path d="M425.9 391.79 L435.7 391.54 L433.05 389.78 L423.25 389.85Z" fill="#3b62c4"/><path d="M490 389.36 L499.8 388 L497.15 386.54 L487.35 387.89Z" fill="#4b4bac"/><path d="M378.75 357.93 L388.55 371.5 L385.9 364.5 L376.1 350.01Z" fill="#7cc584"/><path d="M448.15 392.49 L457.95 391.52 L455.3 389.97 L445.5 390.88Z" fill="#4455b6"/><path d="M416.1 391.38 L425.9 391.79 L423.25 389.85 L413.45 389.1Z" fill="#396acb"/><path d="M480.2 390.67 L490 389.36 L487.35 387.89 L477.55 389.18Z" fill="#4a4dae"/><path d="M512.25 388.06 L522.05 386.63 L519.4 385.18 L509.6 386.61Z" fill="#4c49aa"/><path d="M366.3 346.25 L376.1 350.01 L373.45 344.23 L363.65 344.84Z" fill="#edea37"/><path d="M393.85 382.2 L403.65 386.93 L401 383.62 L391.2 377.34Z" fill="#3a91d8"/><path d="M438.35 393.24 L448.15 392.49 L445.5 390.88 L435.7 391.54Z" fill="#415abb"/><path d="M470.4 391.91 L480.2 390.67 L477.55 389.18 L467.75 390.4Z" fill="#484faf"/><path d="M327.1 368.09 L336.9 361.73 L334.25 363.68 L324.45 369.52Z" fill="#89c879"/><path d="M317.3 372.97 L327.1 368.09 L324.45 369.52 L314.65 373.9Z" fill="#6bc092"/><path d="M502.45 389.46 L512.25 388.06 L509.6 386.61 L499.8 388Z" fill="#4c4aab"/><path d="M336.9 361.73 L346.7 354.34 L344.05 356.28 L334.25 363.68Z" fill="#bad255"/><path d="M307.5 376.63 L317.3 372.97 L314.65 373.9 L304.85 377.16Z" fill="#59bca1"/><path d="M406.3 389.84 L416.1 391.38 L413.45 389.1 L403.65 386.93Z" fill="#3975d2"/><path d="M381.4 365.97 L391.2 377.34 L388.55 371.5 L378.75 357.93Z" fill="#52bba5"/><path d="M356.5 348.48 L366.3 346.25 L363.65 344.84 L353.85 348.79Z" fill="#edea37"/><path d="M346.7 354.34 L356.5 348.48 L353.85 348.79 L344.05 356.28Z" fill="#edea37"/><path d="M428.55 393.65 L438.35 393.24 L435.7 391.54 L425.9 391.79Z" fill="#3d60c2"/><path d="M460.6 393.06 L470.4 391.91 L467.75 390.4 L457.95 391.52Z" fill="#4751b2"/><path d="M492.65 390.83 L502.45 389.46 L499.8 388 L490 389.36Z" fill="#4b4bac"/><path d="M450.8 394.08 L460.6 393.06 L457.95 391.52 L448.15 392.49Z" fill="#4554b5"/><path d="M418.75 393.51 L428.55 393.65 L425.9 391.79 L416.1 391.38Z" fill="#3968c9"/><path d="M368.95 348.11 L378.75 357.93 L376.1 350.01 L366.3 346.25Z" fill="#ece938"/><path d="M482.85 392.15 L492.65 390.83 L490 389.36 L480.2 390.67Z" fill="#4a4dad"/><path d="M396.5 386.3 L406.3 389.84 L403.65 386.93 L393.85 382.2Z" fill="#3a87d7"/><path d="M384.05 373.15 L393.85 382.2 L391.2 377.34 L381.4 365.97Z" fill="#37b3bb"/><path d="M514.9 389.51 L524.7 388.07 L522.05 386.63 L512.25 388.06Z" fill="#4c49aa"/><path d="M441 394.91 L450.8 394.08 L448.15 392.49 L438.35 393.24Z" fill="#4258ba"/><path d="M473.05 393.41 L482.85 392.15 L480.2 390.67 L470.4 391.91Z" fill="#494eaf"/><path d="M408.95 392.46 L418.75 393.51 L416.1 391.38 L406.3 389.84Z" fill="#3971cf"/><path d="M505.1 390.92 L514.9 389.51 L512.25 388.06 L502.45 389.46Z" fill="#4c4aab"/><path d="M359.15 349.31 L368.95 348.11 L366.3 346.25 L356.5 348.48Z" fill="#edea37"/><path d="M319.95 371.87 L329.75 366.5 L327.1 368.09 L317.3 372.97Z" fill="#80c681"/><path d="M431.2 395.44 L441 394.91 L438.35 393.24 L428.55 393.65Z" fill="#3e5ec0"/><path d="M329.75 366.5 L339.55 359.84 L336.9 361.73 L327.1 368.09Z" fill="#a7ce63"/><path d="M463.25 394.59 L473.05 393.41 L470.4 391.91 L460.6 393.06Z" fill="#4750b1"/><path d="M310.15 375.94 L319.95 371.87 L317.3 372.97 L307.5 376.63Z" fill="#69c093"/><path d="M339.55 359.84 L349.35 353.14 L346.7 354.34 L336.9 361.73Z" fill="#d8e043"/><path d="M349.35 353.14 L359.15 349.31 L356.5 348.48 L346.7 354.34Z" fill="#edea37"/><path d="M371.6 352.63 L381.4 365.97 L378.75 357.93 L368.95 348.11Z" fill="#c4d64f"/><path d="M495.3 392.29 L505.1 390.92 L502.45 389.46 L492.65 390.83Z" fill="#4b4bac"/><path d="M386.7 379.27 L396.5 386.3 L393.85 382.2 L384.05 373.15Z" fill="#2ea8ce"/><path d="M453.45 395.65 L463.25 394.59 L460.6 393.06 L450.8 394.08Z" fill="#4553b4"/><path d="M421.4 395.52 L431.2 395.44 L428.55 393.65 L418.75 393.51Z" fill="#3966c8"/><path d="M399.15 389.82 L408.95 392.46 L406.3 389.84 L396.5 386.3Z" fill="#3980d6"/><path d="M485.5 393.62 L495.3 392.29 L492.65 390.83 L482.85 392.15Z" fill="#4a4cad"/><path d="M517.55 390.96 L527.35 389.52 L524.7 388.07 L514.9 389.51Z" fill="#4c49aa"/><path d="M443.65 396.54 L453.45 395.65 L450.8 394.08 L441 394.91Z" fill="#4357b9"/><path d="M475.7 394.9 L485.5 393.62 L482.85 392.15 L473.05 393.41Z" fill="#494eaf"/><path d="M374.25 359.69 L384.05 373.15 L381.4 365.97 L371.6 352.63Z" fill="#92ca72"/><path d="M411.6 394.85 L421.4 395.52 L418.75 393.51 L408.95 392.46Z" fill="#396ecd"/><path d="M507.75 392.37 L517.55 390.96 L514.9 389.51 L505.1 390.92Z" fill="#4c4aab"/><path d="M361.8 350.69 L371.6 352.63 L368.95 348.11 L359.15 349.31Z" fill="#edea37"/><path d="M433.85 397.18 L443.65 396.54 L441 394.91 L431.2 395.44Z" fill="#3f5cbe"/><path d="M465.9 396.1 L475.7 394.9 L473.05 393.41 L463.25 394.59Z" fill="#4850b1"/><path d="M389.35 384.42 L399.15 389.82 L396.5 386.3 L386.7 379.27Z" fill="#359ad4"/><path d="M497.95 393.75 L507.75 392.37 L505.1 390.92 L495.3 392.29Z" fill="#4b4bac"/><path d="M322.6 370.62 L332.4 364.87 L329.75 366.5 L319.95 371.87Z" fill="#99cb6d"/><path d="M352 352.97 L361.8 350.69 L359.15 349.31 L349.35 353.14Z" fill="#edea37"/><path d="M332.4 364.87 L342.2 358.31 L339.55 359.84 L329.75 366.5Z" fill="#c4d74f"/><path d="M312.8 375.11 L322.6 370.62 L319.95 371.87 L310.15 375.94Z" fill="#7cc584"/><path d="M401.8 392.92 L411.6 394.85 L408.95 392.46 L399.15 389.82Z" fill="#397ad5"/><path d="M342.2 358.31 L352 352.97 L349.35 353.14 L339.55 359.84Z" fill="#edea37"/><path d="M456.1 397.2 L465.9 396.1 L463.25 394.59 L453.45 395.65Z" fill="#4653b4"/><path d="M424.05 397.44 L433.85 397.18 L431.2 395.44 L421.4 395.52Z" fill="#3a64c6"/><path d="M376.9 367.44 L386.7 379.27 L384.05 373.15 L374.25 359.69Z" fill="#65bf97"/><path d="M488.15 395.1 L497.95 393.75 L495.3 392.29 L485.5 393.62Z" fill="#4a4cad"/><path d="M520.2 392.4 L530 390.96 L527.35 389.52 L517.55 390.96Z" fill="#4c49aa"/><path d="M446.3 398.15 L456.1 397.2 L453.45 395.65 L443.65 396.54Z" fill="#4356b8"/><path d="M414.25 397.07 L424.05 397.44 L421.4 395.52 L411.6 394.85Z" fill="#396bcb"/><path d="M478.35 396.39 L488.15 395.1 L485.5 393.62 L475.7 394.9Z" fill="#494eaf"/><path d="M364.45 352.27 L374.25 359.69 L371.6 352.63 L361.8 350.69Z" fill="#edea37"/><path d="M510.4 393.82 L520.2 392.4 L517.55 390.96 L507.75 392.37Z" fill="#4c4aab"/><path d="M392 388.78 L401.8 392.92 L399.15 389.82 L389.35 384.42Z" fill="#3a8fd8"/><path d="M436.5 398.88 L446.3 398.15 L443.65 396.54 L433.85 397.18Z" fill="#405bbd"/><path d="M468.55 397.61 L478.35 396.39 L475.7 394.9 L465.9 396.1Z" fill="#4850b1"/><path d="M379.55 374.68 L389.35 384.42 L386.7 379.27 L376.9 367.44Z" fill="#43b8b0"/><path d="M500.6 395.21 L510.4 393.82 L507.75 392.37 L497.95 393.75Z" fill="#4b4bac"/><path d="M404.45 395.68 L414.25 397.07 L411.6 394.85 L401.8 392.92Z" fill="#3975d2"/><path d="M354.65 353.78 L364.45 352.27 L361.8 350.69 L352 352.97Z" fill="#edea37"/><path d="M426.7 399.28 L436.5 398.88 L433.85 397.18 L424.05 397.44Z" fill="#3c62c4"/><path d="M458.75 398.74 L468.55 397.61 L465.9 396.1 L456.1 397.2Z" fill="#4652b3"/><path d="M325.25 369.29 L335.05 363.37 L332.4 364.87 L322.6 370.62Z" fill="#b4d059"/><path d="M315.45 374.16 L325.25 369.29 L322.6 370.62 L312.8 375.11Z" fill="#91c973"/><path d="M344.85 357.44 L354.65 353.78 L352 352.97 L342.2 358.31Z" fill="#edea37"/><path d="M335.05 363.37 L344.85 357.44 L342.2 358.31 L332.4 364.87Z" fill="#dfe33f"/><path d="M490.8 396.56 L500.6 395.21 L497.95 393.75 L488.15 395.1Z" fill="#4a4cad"/><path d="M367.1 355.67 L376.9 367.44 L374.25 359.69 L364.45 352.27Z" fill="#d6df45"/><path d="M448.95 399.74 L458.75 398.74 L456.1 397.2 L446.3 398.15Z" fill="#4455b7"/><path d="M416.9 399.16 L426.7 399.28 L424.05 397.44 L414.25 397.07Z" fill="#3969ca"/><path d="M481 397.87 L490.8 396.56 L488.15 395.1 L478.35 396.39Z" fill="#494eae"/><path d="M382.2 381.02 L392 388.78 L389.35 384.42 L379.55 374.68Z" fill="#34afc3"/><path d="M394.65 392.54 L404.45 395.68 L401.8 392.92 L392 388.78Z" fill="#3a86d7"/><path d="M439.15 400.54 L448.95 399.74 L446.3 398.15 L436.5 398.88Z" fill="#415abb"/><path d="M471.2 399.11 L481 397.87 L478.35 396.39 L468.55 397.61Z" fill="#484fb0"/><path d="M407.1 398.2 L416.9 399.16 L414.25 397.07 L404.45 395.68Z" fill="#3971cf"/><path d="M369.75 361.72 L379.55 374.68 L376.9 367.44 L367.1 355.67Z" fill="#a9ce62"/><path d="M357.3 355.13 L367.1 355.67 L364.45 352.27 L354.65 353.78Z" fill="#edea37"/><path d="M429.35 401.06 L439.15 400.54 L436.5 398.88 L426.7 399.28Z" fill="#3d60c2"/><path d="M461.4 400.27 L471.2 399.11 L468.55 397.61 L458.75 398.74Z" fill="#4652b3"/><path d="M347.5 357.44 L357.3 355.13 L354.65 353.78 L344.85 357.44Z" fill="#edea37"/><path d="M384.85 386.45 L394.65 392.54 L392 388.78 L382.2 381.02Z" fill="#30a4d0"/><path d="M327.9 368.01 L337.7 362.24 L335.05 363.37 L325.25 369.29Z" fill="#cfdb49"/><path d="M337.7 362.24 L347.5 357.44 L344.85 357.44 L335.05 363.37Z" fill="#edea37"/><path d="M318.1 373.13 L327.9 368.01 L325.25 369.29 L315.45 374.16Z" fill="#aace61"/><path d="M451.6 401.3 L461.4 400.27 L458.75 398.74 L448.95 399.74Z" fill="#4455b6"/><path d="M397.3 395.83 L407.1 398.2 L404.45 395.68 L394.65 392.54Z" fill="#397fd6"/><path d="M419.55 401.14 L429.35 401.06 L426.7 399.28 L416.9 399.16Z" fill="#3967c8"/><path d="M372.4 368.98 L382.2 381.02 L379.55 374.68 L369.75 361.72Z" fill="#7ac485"/><path d="M441.8 402.17 L451.6 401.3 L448.95 399.74 L439.15 400.54Z" fill="#4259ba"/><path d="M409.75 400.52 L419.55 401.14 L416.9 399.16 L407.1 398.2Z" fill="#396ecd"/><path d="M359.95 356.6 L369.75 361.72 L367.1 355.67 L357.3 355.13Z" fill="#edea37"/><path d="M432 402.79 L441.8 402.17 L439.15 400.54 L429.35 401.06Z" fill="#3e5ec0"/><path d="M387.5 391.08 L397.3 395.83 L394.65 392.54 L384.85 386.45Z" fill="#3797d5"/><path d="M375.05 376.15 L384.85 386.45 L382.2 381.02 L372.4 368.98Z" fill="#55bba3"/><path d="M350.15 358.25 L359.95 356.6 L357.3 355.13 L347.5 357.44Z" fill="#edea37"/><path d="M399.95 398.76 L409.75 400.52 L407.1 398.2 L397.3 395.83Z" fill="#397ad5"/><path d="M422.2 403.03 L432 402.79 L429.35 401.06 L419.55 401.14Z" fill="#3965c7"/><path d="M340.35 361.7 L350.15 358.25 L347.5 357.44 L337.7 362.24Z" fill="#edea37"/><path d="M330.55 366.91 L340.35 361.7 L337.7 362.24 L327.9 368.01Z" fill="#e6e63b"/><path d="M320.75 372.11 L330.55 366.91 L327.9 368.01 L318.1 373.13Z" fill="#c2d650"/><path d="M362.6 359.12 L372.4 368.98 L369.75 361.72 L359.95 356.6Z" fill="#e5e63c"/><path d="M412.4 402.69 L422.2 403.03 L419.55 401.14 L409.75 400.52Z" fill="#396ccc"/><path d="M390.15 395.07 L399.95 398.76 L397.3 395.83 L387.5 391.08Z" fill="#3a8dd8"/><path d="M377.7 382.64 L387.5 391.08 L384.85 386.45 L375.05 376.15Z" fill="#39b5b7"/><path d="M402.6 401.41 L412.4 402.69 L409.75 400.52 L399.95 398.76Z" fill="#3976d2"/><path d="M352.8 359.57 L362.6 359.12 L359.95 356.6 L350.15 358.25Z" fill="#edea37"/><path d="M365.25 364.09 L375.05 376.15 L372.4 368.98 L362.6 359.12Z" fill="#bed453"/><path d="M343 361.87 L352.8 359.57 L350.15 358.25 L340.35 361.7Z" fill="#edea37"/><path d="M333.2 366.16 L343 361.87 L340.35 361.7 L330.55 366.91Z" fill="#edea37"/><path d="M323.4 371.18 L333.2 366.16 L330.55 366.91 L320.75 372.11Z" fill="#d9e043"/><path d="M380.35 388.29 L390.15 395.07 L387.5 391.08 L377.7 382.64Z" fill="#31acc8"/><path d="M392.8 398.56 L402.6 401.41 L399.95 398.76 L390.15 395.07Z" fill="#3a86d7"/><path d="M367.9 370.69 L377.7 382.64 L375.05 376.15 L365.25 364.09Z" fill="#90c974"/><path d="M355.45 361.01 L365.25 364.09 L362.6 359.12 L352.8 359.57Z" fill="#edea37"/><path d="M383 393.18 L392.8 398.56 L390.15 395.07 L380.35 388.29Z" fill="#32a1d1"/><path d="M345.65 362.72 L355.45 361.01 L352.8 359.57 L343 361.87Z" fill="#edea37"/><path d="M370.55 377.63 L380.35 388.29 L377.7 382.64 L367.9 370.69Z" fill="#68c094"/><path d="M335.85 365.93 L345.65 362.72 L343 361.87 L333.2 366.16Z" fill="#edea37"/><path d="M326.05 370.46 L335.85 365.93 L333.2 366.16 L323.4 371.18Z" fill="#ede937"/><path d="M358.1 362.95 L367.9 370.69 L365.25 364.09 L355.45 361.01Z" fill="#edea37"/><path d="M373.2 384.16 L383 393.18 L380.35 388.29 L370.55 377.63Z" fill="#49b9ab"/><path d="M348.3 364.01 L358.1 362.95 L355.45 361.01 L345.65 362.72Z" fill="#edea37"/><path d="M338.5 366.29 L348.3 364.01 L345.65 362.72 L335.85 365.93Z" fill="#edea37"/><path d="M360.75 366.85 L370.55 377.63 L367.9 370.69 L358.1 362.95Z" fill="#d1dd47"/><path d="M328.7 370.09 L338.5 366.29 L335.85 365.93 L326.05 370.46Z" fill="#edea37"/><path d="M363.4 372.64 L373.2 384.16 L370.55 377.63 L360.75 366.85Z" fill="#a8ce62"/><path d="M350.95 365.45 L360.75 366.85 L358.1 362.95 L348.3 364.01Z" fill="#edea37"/><path d="M341.15 367.19 L350.95 365.45 L348.3 364.01 L338.5 366.29Z" fill="#edea37"/><path d="M331.35 370.14 L341.15 367.19 L338.5 366.29 L328.7 370.09Z" fill="#edea37"/><path d="M353.6 367.07 L363.4 372.64 L360.75 366.85 L350.95 365.45Z" fill="#edea37"/><path d="M343.8 368.46 L353.6 367.07 L350.95 365.45 L341.15 367.19Z" fill="#edea37"/><path d="M334 370.68 L343.8 368.46 L341.15 367.19 L331.35 370.14Z" fill="#edea37"/></g>
<path d="M220.6 418.3L220.6 310.3 M220.6 310.3L424.1 278.7 M424.1 278.7L537.1 336.7 M537.1 336.7L537.1 444.7 M220.6 418.3L333.6 476.3 M333.6 476.3L537.1 444.7" stroke="#777" stroke-width="0.9" fill="none"/>
<path d="M220.6 418.3l-5 -2.7 M220.6 391.3l-5 -2.7 M220.6 364.3l-5 -2.7 M220.6 337.3l-5 -2.7 M220.6 310.3l-5 -2.7 M333.6 476.3l-5 0.8 M305.35 461.8l-5 0.8 M277.1 447.3l-5 0.8 M248.85 432.8l-5 0.8 M220.6 418.3l-5 0.8 M333.6 476.3l3 1.6 M384.48 468.4l3 1.6 M435.35 460.5l3 1.6 M486.23 452.6l3 1.6 M537.1 444.7l3 1.6" stroke="#555" stroke-width="0.8" fill="none"/>
<text x="212.6" y="418.8" text-anchor="end" font-family='"Liberation Sans", sans-serif' font-weight="bold" font-size="12.4">0</text>
<text x="212.6" y="392.25" text-anchor="end" font-family='"Liberation Sans", sans-serif' font-weight="bold" font-size="12.4">0.5</text>
<text x="212.6" y="365.7" text-anchor="end" font-family='"Liberation Sans", sans-serif' font-weight="bold" font-size="12.4">1</text>
<text x="212.6" y="339.15" text-anchor="end" font-family='"Liberation Sans", sans-serif' font-weight="bold" font-size="12.4">1.5</text>
<text x="212.6" y="312.6" text-anchor="end" font-family='"Liberation Sans", sans-serif' font-weight="bold" font-size="12.4">2</text>
<text transform="translate(216.3 427.4) rotate(-58)" text-anchor="middle" y="4" font-family='"Liberation Sans", sans-serif' font-weight="bold" font-size="11.5">4</text>
<text transform="translate(243.5 442.5) rotate(-58)" text-anchor="middle" y="4" font-family='"Liberation Sans", sans-serif' font-weight="bold" font-size="11.5">3</text>
<text transform="translate(268.5 456.5) rotate(-58)" text-anchor="middle" y="4" font-family='"Liberation Sans", sans-serif' font-weight="bold" font-size="11.5">2</text>
<text transform="translate(297.5 471) rotate(-58)" text-anchor="middle" y="4" font-family='"Liberation Sans", sans-serif' font-weight="bold" font-size="11.5">1</text>
<text transform="translate(326.5 485.5) rotate(-58)" text-anchor="middle" y="4" font-family='"Liberation Sans", sans-serif' font-weight="bold" font-size="11.5">0</text>
<text transform="translate(349 483.2) rotate(-40)" text-anchor="middle" y="4" font-family='"Liberation Sans", sans-serif' font-weight="bold" font-size="11.5">0</text>
<text transform="translate(405.3 473.3) rotate(-40)" text-anchor="middle" y="4" font-family='"Liberation Sans", sans-serif' font-weight="bold" font-size="11.5">0.5</text>
<text transform="translate(450.7 469.3) rotate(-40)" text-anchor="middle" y="4" font-family='"Liberation Sans", sans-serif' font-weight="bold" font-size="11.5">1</text>
<text transform="translate(507 460) rotate(-40)" text-anchor="middle" y="4" font-family='"Liberation Sans", sans-serif' font-weight="bold" font-size="11.5">1.5</text>
<text transform="translate(554.7 453.3) rotate(-40)" text-anchor="middle" y="4" font-family='"Liberation Sans", sans-serif' font-weight="bold" font-size="11.5">2</text>
<text x="254.5" y="472" text-anchor="middle" font-family='"Liberation Sans", sans-serif' font-weight="bold" font-size="16">U</text>
<text x="461" y="488" text-anchor="middle" font-family='"Liberation Serif", serif' font-style="italic" font-size="17">α</text>
<text transform="translate(185.5 367.5) rotate(-90)" font-family='"Liberation Sans", sans-serif' font-weight="bold" font-size="16">E</text>
<text transform="translate(193.5 358) rotate(-90)" font-family='"Liberation Serif", serif' font-style="italic" font-size="15">ν</text>
<text x="229" y="330.3" font-family='"Liberation Serif", serif' font-size="18.5">λ</text>
<text x="239.3" y="338.8" font-family='"Liberation Sans", sans-serif' font-weight="bold" font-size="12">ap</text>
<text x="254.5" y="329.4" font-family='"Liberation Sans", sans-serif' font-weight="bold" font-size="15.5" letter-spacing="0.6">= 0.05</text>
<text x="314" y="315.5" font-family='"Liberation Serif", serif' font-size="18">γ</text>
<text x="328" y="315.4" font-family='"Liberation Sans", sans-serif' font-weight="bold" font-size="15.5" letter-spacing="0.35">= 0.05</text>
<text x="236" y="394.4" font-family='"Liberation Sans", sans-serif' font-weight="bold" font-size="12.5">t = 0.2 <tspan font-family='"Liberation Serif", serif' font-style="italic" font-weight="normal" font-size="14">ω</tspan><tspan font-size="9.5" dy="5">0</tspan></text>
<text x="472.5" y="345" font-family='"Liberation Sans", sans-serif' font-size="22.5">(c)</text>
<text x="283.5" y="432.4" font-family='"Liberation Sans", sans-serif' font-weight="bold" font-size="16" fill="#fff">SDW</text>
<text x="348" y="459" font-family='"Liberation Sans", sans-serif' font-weight="bold" font-size="15.5" fill="#e8141c">MP</text>
<text x="442" y="444.7" font-family='"Liberation Sans", sans-serif' font-weight="bold" font-size="16.5" fill="#fff">CDW</text>
</svg></body></html>
